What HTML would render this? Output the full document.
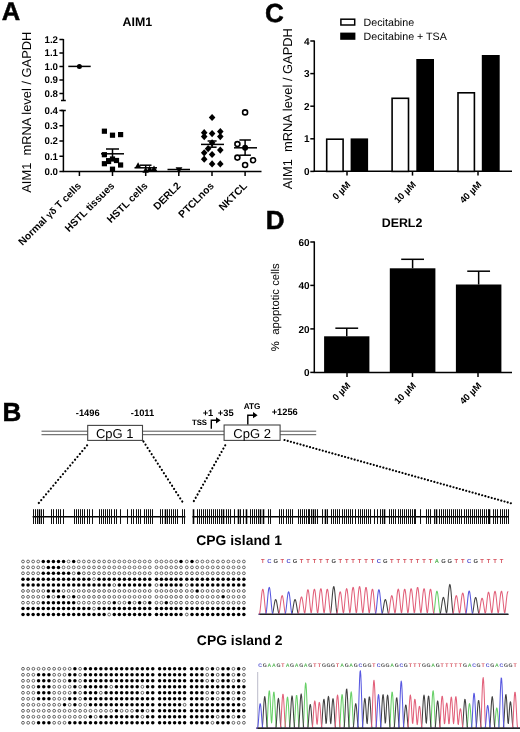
<!DOCTYPE html>
<html><head><meta charset="utf-8"><title>Figure</title>
<style>
html,body{margin:0;padding:0;background:#fff;}
body{width:520px;height:732px;overflow:hidden;}
svg{display:block;font-family:'Liberation Sans', sans-serif;text-rendering:geometricPrecision;}
</style></head><body>
<svg width="520" height="732" viewBox="0 0 520 732">
<rect width="520" height="732" fill="#fff"/>
<text x="1.7" y="20.4" font-size="25.5" font-weight="bold" text-anchor="start" fill="#000" stroke="#000" stroke-width="0.5">A</text>
<text x="265" y="21.6" font-size="26" font-weight="bold" text-anchor="start" fill="#000" stroke="#000" stroke-width="0.5">C</text>
<text x="265.8" y="229" font-size="26" font-weight="bold" text-anchor="start" fill="#000" stroke="#000" stroke-width="0.5">D</text>
<text x="2.4" y="420.7" font-size="26" font-weight="bold" text-anchor="start" fill="#000" stroke="#000" stroke-width="0.5">B</text>
<text x="137.4" y="25.5" font-size="12.4" font-weight="bold" text-anchor="middle" fill="#000" >AIM1</text>
<text x="31.4" y="112.2" font-size="12.9" font-weight="normal" text-anchor="middle" fill="#000" transform="rotate(-90 31.4 112.2)" >AIM1 &#160;mRNA level / GAPDH</text>
<line x1="63.4" y1="39" x2="63.4" y2="100.5" stroke="#000" stroke-width="1.5" />
<line x1="59.4" y1="39.5" x2="63.4" y2="39.5" stroke="#000" stroke-width="1.5" />
<text x="58.0" y="42.9" font-size="9.7" font-weight="bold" text-anchor="end" fill="#000" >1.2</text>
<line x1="59.4" y1="53" x2="63.4" y2="53" stroke="#000" stroke-width="1.5" />
<text x="58.0" y="56.4" font-size="9.7" font-weight="bold" text-anchor="end" fill="#000" >1.1</text>
<line x1="59.4" y1="66.5" x2="63.4" y2="66.5" stroke="#000" stroke-width="1.5" />
<text x="58.0" y="69.9" font-size="9.7" font-weight="bold" text-anchor="end" fill="#000" >1.0</text>
<line x1="59.4" y1="80" x2="63.4" y2="80" stroke="#000" stroke-width="1.5" />
<text x="58.0" y="83.4" font-size="9.7" font-weight="bold" text-anchor="end" fill="#000" >0.9</text>
<line x1="59.4" y1="93.5" x2="63.4" y2="93.5" stroke="#000" stroke-width="1.5" />
<text x="58.0" y="96.9" font-size="9.7" font-weight="bold" text-anchor="end" fill="#000" >0.8</text>
<line x1="61.0" y1="100.5" x2="65.8" y2="100.5" stroke="#000" stroke-width="1.5" />
<line x1="63.4" y1="110" x2="63.4" y2="172" stroke="#000" stroke-width="1.5" />
<line x1="59.4" y1="110.5" x2="63.4" y2="110.5" stroke="#000" stroke-width="1.5" />
<text x="58.0" y="113.9" font-size="9.7" font-weight="bold" text-anchor="end" fill="#000" >0.4</text>
<line x1="59.4" y1="125.75" x2="63.4" y2="125.75" stroke="#000" stroke-width="1.5" />
<text x="58.0" y="129.15" font-size="9.7" font-weight="bold" text-anchor="end" fill="#000" >0.3</text>
<line x1="59.4" y1="141" x2="63.4" y2="141" stroke="#000" stroke-width="1.5" />
<text x="58.0" y="144.4" font-size="9.7" font-weight="bold" text-anchor="end" fill="#000" >0.2</text>
<line x1="59.4" y1="156.25" x2="63.4" y2="156.25" stroke="#000" stroke-width="1.5" />
<text x="58.0" y="159.65" font-size="9.7" font-weight="bold" text-anchor="end" fill="#000" >0.1</text>
<line x1="59.4" y1="171.5" x2="63.4" y2="171.5" stroke="#000" stroke-width="1.5" />
<text x="58.0" y="174.9" font-size="9.7" font-weight="bold" text-anchor="end" fill="#000" >0.0</text>
<line x1="61.0" y1="110.5" x2="65.8" y2="110.5" stroke="#000" stroke-width="1.5" />
<line x1="62.8" y1="171.5" x2="261.5" y2="171.5" stroke="#000" stroke-width="1.5" />
<line x1="79.4" y1="171.5" x2="79.4" y2="176" stroke="#000" stroke-width="1.5" />
<text x="81.9" y="186.5" font-size="10.3" font-weight="bold" text-anchor="end" fill="#000" transform="rotate(-45 81.9 186.5)" >Normal <tspan font-size="9.3">γδ</tspan> T cells</text>
<line x1="112.5" y1="171.5" x2="112.5" y2="176" stroke="#000" stroke-width="1.5" />
<text x="115.0" y="186.5" font-size="10.3" font-weight="bold" text-anchor="end" fill="#000" transform="rotate(-45 115.0 186.5)" >HSTL tissues</text>
<line x1="145.7" y1="171.5" x2="145.7" y2="176" stroke="#000" stroke-width="1.5" />
<text x="148.2" y="186.5" font-size="10.3" font-weight="bold" text-anchor="end" fill="#000" transform="rotate(-45 148.2 186.5)" >HSTL cells</text>
<line x1="178.8" y1="171.5" x2="178.8" y2="176" stroke="#000" stroke-width="1.5" />
<text x="181.3" y="186.5" font-size="10.3" font-weight="bold" text-anchor="end" fill="#000" transform="rotate(-45 181.3 186.5)" >DERL2</text>
<line x1="212" y1="171.5" x2="212" y2="176" stroke="#000" stroke-width="1.5" />
<text x="214.5" y="186.5" font-size="10.3" font-weight="bold" text-anchor="end" fill="#000" transform="rotate(-45 214.5 186.5)" >PTCLnos</text>
<line x1="245.1" y1="171.5" x2="245.1" y2="176" stroke="#000" stroke-width="1.5" />
<text x="247.6" y="186.5" font-size="10.3" font-weight="bold" text-anchor="end" fill="#000" transform="rotate(-45 247.6 186.5)" >NKTCL</text>
<line x1="68.3" y1="66.4" x2="90.7" y2="66.4" stroke="#000" stroke-width="1.5" />
<circle cx="79.4" cy="66.4" r="2.5"/>
<rect x="101.80000000000001" y="128.6" width="5.2" height="5.2" fill="#000" stroke="none" stroke-width="1"/>
<rect x="109.9" y="132.6" width="5.2" height="5.2" fill="#000" stroke="none" stroke-width="1"/>
<rect x="118.0" y="132.0" width="5.2" height="5.2" fill="#000" stroke="none" stroke-width="1"/>
<rect x="101.80000000000001" y="152.1" width="5.2" height="5.2" fill="#000" stroke="none" stroke-width="1"/>
<rect x="109.9" y="156.4" width="5.2" height="5.2" fill="#000" stroke="none" stroke-width="1"/>
<rect x="101.80000000000001" y="161.1" width="5.2" height="5.2" fill="#000" stroke="none" stroke-width="1"/>
<rect x="106.0" y="158.9" width="5.2" height="5.2" fill="#000" stroke="none" stroke-width="1"/>
<rect x="113.9" y="157.9" width="5.2" height="5.2" fill="#000" stroke="none" stroke-width="1"/>
<rect x="118.0" y="162.4" width="5.2" height="5.2" fill="#000" stroke="none" stroke-width="1"/>
<rect x="109.9" y="166.6" width="5.2" height="5.2" fill="#000" stroke="none" stroke-width="1"/>
<line x1="101" y1="153.8" x2="124" y2="153.8" stroke="#000" stroke-width="1.5" />
<line x1="112.5" y1="149" x2="112.5" y2="158.8" stroke="#000" stroke-width="1.5" />
<line x1="106" y1="149" x2="119" y2="149" stroke="#000" stroke-width="1.5" />
<line x1="106" y1="158.8" x2="119" y2="158.8" stroke="#000" stroke-width="1.5" />
<polygon points="134.9,167.9 141.29999999999998,167.9 138.1,162.3"/>
<polygon points="142.4,172.79999999999998 148.79999999999998,172.79999999999998 145.6,167.2"/>
<polygon points="146.4,171.4 152.79999999999998,171.4 149.6,165.8"/>
<polygon points="150.8,171.0 157.2,171.0 154,165.4"/>
<line x1="134.5" y1="167.8" x2="157" y2="167.8" stroke="#000" stroke-width="1.5" />
<line x1="140" y1="165.2" x2="151.5" y2="165.2" stroke="#000" stroke-width="1.5" />
<line x1="145.7" y1="165.2" x2="145.7" y2="170.5" stroke="#000" stroke-width="1.5" />
<line x1="167.5" y1="169.5" x2="190" y2="169.5" stroke="#000" stroke-width="1.5" />
<polygon points="175.6,167.3 182.4,167.3 179,173.2"/>
<polygon points="208.79999999999998,117.5 212.1,113.9 215.4,117.5 212.1,121.1"/>
<polygon points="200.89999999999998,132.7 204.2,129.1 207.5,132.7 204.2,136.29999999999998"/>
<polygon points="217.0,131.6 220.3,128.0 223.60000000000002,131.6 220.3,135.2"/>
<polygon points="208.79999999999998,133.6 212.1,130.0 215.4,133.6 212.1,137.2"/>
<polygon points="200.89999999999998,136.6 204.2,133.0 207.5,136.6 204.2,140.2"/>
<polygon points="217.0,136.6 220.3,133.0 223.60000000000002,136.6 220.3,140.2"/>
<polygon points="208.79999999999998,142.8 212.1,139.20000000000002 215.4,142.8 212.1,146.4"/>
<polygon points="204.79999999999998,148.7 208.1,145.1 211.4,148.7 208.1,152.29999999999998"/>
<polygon points="217.0,150.1 220.3,146.5 223.60000000000002,150.1 220.3,153.7"/>
<polygon points="200.89999999999998,152.8 204.2,149.20000000000002 207.5,152.8 204.2,156.4"/>
<polygon points="208.79999999999998,154.5 212.1,150.9 215.4,154.5 212.1,158.1"/>
<polygon points="200.89999999999998,159.2 204.2,155.6 207.5,159.2 204.2,162.79999999999998"/>
<polygon points="208.79999999999998,163.9 212.1,160.3 215.4,163.9 212.1,167.5"/>
<polygon points="217.0,163.9 220.3,160.3 223.60000000000002,163.9 220.3,167.5"/>
<line x1="201" y1="144.4" x2="224" y2="144.4" stroke="#000" stroke-width="1.5" />
<line x1="212.1" y1="141" x2="212.1" y2="147.2" stroke="#000" stroke-width="1.5" />
<line x1="207.6" y1="141" x2="216.6" y2="141" stroke="#000" stroke-width="1.5" />
<line x1="207.6" y1="147.2" x2="216.6" y2="147.2" stroke="#000" stroke-width="1.5" />
<circle cx="245.1" cy="112.4" r="2.5" fill="#fff" stroke="#000" stroke-width="1.6"/>
<circle cx="237.4" cy="144.1" r="2.5" fill="#fff" stroke="#000" stroke-width="1.6"/>
<circle cx="237.4" cy="157.6" r="2.5" fill="#fff" stroke="#000" stroke-width="1.6"/>
<circle cx="253.1" cy="160.2" r="2.5" fill="#fff" stroke="#000" stroke-width="1.6"/>
<circle cx="245.1" cy="165" r="2.5" fill="#fff" stroke="#000" stroke-width="1.6"/>
<circle cx="245.1" cy="147.8" r="3"/>
<line x1="234" y1="147.8" x2="257" y2="147.8" stroke="#000" stroke-width="1.5" />
<line x1="245.1" y1="140" x2="245.1" y2="155.2" stroke="#000" stroke-width="1.5" />
<line x1="239.4" y1="140" x2="250.9" y2="140" stroke="#000" stroke-width="1.5" />
<line x1="239.4" y1="155.2" x2="250.9" y2="155.2" stroke="#000" stroke-width="1.5" />
<text x="292.2" y="108.7" font-size="12.9" font-weight="normal" text-anchor="middle" fill="#000" transform="rotate(-90 292.2 108.7)" >AIM1 &#160;mRNA level / GAPDH</text>
<rect x="340.9" y="19.2" width="13.8" height="5.8" fill="#fff" stroke="#000" stroke-width="1.5"/>
<rect x="340.2" y="32.6" width="15.2" height="7.2" fill="#000" stroke="none" stroke-width="1"/>
<text x="363.6" y="26" font-size="10.7" font-weight="normal" text-anchor="start" fill="#000" >Decitabine</text>
<text x="363.6" y="39.7" font-size="10.7" font-weight="normal" text-anchor="start" fill="#000" >Decitabine + TSA</text>
<line x1="314.3" y1="40.5" x2="314.3" y2="171.5" stroke="#000" stroke-width="1.5" />
<line x1="310.3" y1="41" x2="314.3" y2="41" stroke="#000" stroke-width="1.5" />
<text x="309.6" y="44.6" font-size="10" font-weight="bold" text-anchor="end" fill="#000" >4</text>
<line x1="310.3" y1="73.6" x2="314.3" y2="73.6" stroke="#000" stroke-width="1.5" />
<text x="309.6" y="77.19999999999999" font-size="10" font-weight="bold" text-anchor="end" fill="#000" >3</text>
<line x1="310.3" y1="106.2" x2="314.3" y2="106.2" stroke="#000" stroke-width="1.5" />
<text x="309.6" y="109.8" font-size="10" font-weight="bold" text-anchor="end" fill="#000" >2</text>
<line x1="310.3" y1="138.8" x2="314.3" y2="138.8" stroke="#000" stroke-width="1.5" />
<text x="309.6" y="142.4" font-size="10" font-weight="bold" text-anchor="end" fill="#000" >1</text>
<line x1="310.3" y1="171.4" x2="314.3" y2="171.4" stroke="#000" stroke-width="1.5" />
<text x="309.6" y="175.0" font-size="10" font-weight="bold" text-anchor="end" fill="#000" >0</text>
<line x1="313.7" y1="171.2" x2="512" y2="171.2" stroke="#000" stroke-width="1.5" />
<rect x="326.7" y="139.20000000000002" width="16.4" height="32.2" fill="#fff" stroke="#000" stroke-width="1.6"/>
<rect x="350.6" y="138.4" width="17.5" height="33.0" fill="#000" stroke="none" stroke-width="1"/>
<rect x="392.1" y="98.3" width="16.4" height="73.10000000000001" fill="#fff" stroke="#000" stroke-width="1.6"/>
<rect x="416.3" y="59" width="17.7" height="112.4" fill="#000" stroke="none" stroke-width="1"/>
<rect x="458.0" y="92.8" width="16.4" height="78.60000000000001" fill="#fff" stroke="#000" stroke-width="1.6"/>
<rect x="481.8" y="55" width="17.9" height="116.4" fill="#000" stroke="none" stroke-width="1"/>
<line x1="347" y1="171.4" x2="347" y2="175.6" stroke="#000" stroke-width="1.5" />
<text x="351" y="185.3" font-size="9.4" font-weight="bold" text-anchor="end" fill="#000" transform="rotate(-45 351 185.3)" >0 µM</text>
<line x1="412.5" y1="171.4" x2="412.5" y2="175.6" stroke="#000" stroke-width="1.5" />
<text x="416.5" y="185.3" font-size="9.4" font-weight="bold" text-anchor="end" fill="#000" transform="rotate(-45 416.5 185.3)" >10 µM</text>
<line x1="478" y1="171.4" x2="478" y2="175.6" stroke="#000" stroke-width="1.5" />
<text x="482" y="185.3" font-size="9.4" font-weight="bold" text-anchor="end" fill="#000" transform="rotate(-45 482 185.3)" >40 µM</text>
<text x="402" y="226.6" font-size="12.4" font-weight="bold" text-anchor="middle" fill="#000" >DERL2</text>
<text x="279.3" y="307.2" font-size="11.3" font-weight="normal" text-anchor="middle" fill="#000" transform="rotate(-90 279.3 307.2)" >% &#160;apoptotic cells</text>
<line x1="314.3" y1="241.4" x2="314.3" y2="372.8" stroke="#000" stroke-width="1.5" />
<line x1="310.3" y1="242" x2="314.3" y2="242" stroke="#000" stroke-width="1.5" />
<text x="309.6" y="245.6" font-size="10" font-weight="bold" text-anchor="end" fill="#000" >60</text>
<line x1="310.3" y1="285.4" x2="314.3" y2="285.4" stroke="#000" stroke-width="1.5" />
<text x="309.6" y="289.0" font-size="10" font-weight="bold" text-anchor="end" fill="#000" >40</text>
<line x1="310.3" y1="328.9" x2="314.3" y2="328.9" stroke="#000" stroke-width="1.5" />
<text x="309.6" y="332.5" font-size="10" font-weight="bold" text-anchor="end" fill="#000" >20</text>
<line x1="310.3" y1="372.4" x2="314.3" y2="372.4" stroke="#000" stroke-width="1.5" />
<text x="309.6" y="376.0" font-size="10" font-weight="bold" text-anchor="end" fill="#000" >0</text>
<line x1="313.7" y1="372.4" x2="512" y2="372.4" stroke="#000" stroke-width="1.5" />
<rect x="324.1" y="336.3" width="45.3" height="36.099999999999966" fill="#000" stroke="none" stroke-width="1"/>
<line x1="346.75" y1="328.2" x2="346.75" y2="336.3" stroke="#000" stroke-width="1.5" />
<line x1="335.35" y1="328.2" x2="358.15" y2="328.2" stroke="#000" stroke-width="1.5" />
<rect x="389.8" y="268.3" width="45.6" height="104.09999999999997" fill="#000" stroke="none" stroke-width="1"/>
<line x1="412.6" y1="259.3" x2="412.6" y2="268.3" stroke="#000" stroke-width="1.5" />
<line x1="401.20000000000005" y1="259.3" x2="424.0" y2="259.3" stroke="#000" stroke-width="1.5" />
<rect x="455.9" y="284.5" width="45.5" height="87.89999999999998" fill="#000" stroke="none" stroke-width="1"/>
<line x1="478.65" y1="271.2" x2="478.65" y2="284.5" stroke="#000" stroke-width="1.5" />
<line x1="467.25" y1="271.2" x2="490.04999999999995" y2="271.2" stroke="#000" stroke-width="1.5" />
<line x1="347" y1="372.4" x2="347" y2="377" stroke="#000" stroke-width="1.5" />
<text x="351" y="386.3" font-size="9.4" font-weight="bold" text-anchor="end" fill="#000" transform="rotate(-45 351 386.3)" >0 µM</text>
<line x1="412.5" y1="372.4" x2="412.5" y2="377" stroke="#000" stroke-width="1.5" />
<text x="416.5" y="386.3" font-size="9.4" font-weight="bold" text-anchor="end" fill="#000" transform="rotate(-45 416.5 386.3)" >10 µM</text>
<line x1="478" y1="372.4" x2="478" y2="377" stroke="#000" stroke-width="1.5" />
<text x="482" y="386.3" font-size="9.4" font-weight="bold" text-anchor="end" fill="#000" transform="rotate(-45 482 386.3)" >40 µM</text>
<line x1="41.5" y1="431.2" x2="316.2" y2="431.2" stroke="#555" stroke-width="1" />
<line x1="41.5" y1="434.7" x2="316.2" y2="434.7" stroke="#555" stroke-width="1" />
<rect x="87.7" y="425.4" width="54.8" height="15" fill="#fff" stroke="#444" stroke-width="1.1"/>
<rect x="224.1" y="425" width="56" height="15.4" fill="#fff" stroke="#444" stroke-width="1.1"/>
<text x="114.7" y="437.6" font-size="13" font-weight="normal" text-anchor="middle" fill="#000" >CpG 1</text>
<text x="252.1" y="437.9" font-size="13" font-weight="normal" text-anchor="middle" fill="#000" >CpG 2</text>
<text x="87.7" y="415.9" font-size="9.3" font-weight="bold" text-anchor="middle" fill="#000" >-1496</text>
<text x="142.5" y="415.9" font-size="9.3" font-weight="bold" text-anchor="middle" fill="#000" >-1011</text>
<text x="208" y="415.9" font-size="9.3" font-weight="bold" text-anchor="middle" fill="#000" >+1</text>
<text x="225.7" y="415.9" font-size="9.3" font-weight="bold" text-anchor="middle" fill="#000" >+35</text>
<text x="252.1" y="408.8" font-size="8.2" font-weight="bold" text-anchor="middle" fill="#000" >ATG</text>
<text x="199.5" y="425.3" font-size="7.8" font-weight="bold" text-anchor="middle" fill="#000" >TSS</text>
<text x="284.7" y="415.2" font-size="9.3" font-weight="bold" text-anchor="middle" fill="#000" >+1256</text>
<path d="M211.3 428.8 V420.3 H217" fill="none" stroke="#000" stroke-width="1.4"/><polygon points="216,417.2 220.6,420.3 216,423.4"/>
<path d="M247.8 424.6 V415.2 H254" fill="none" stroke="#000" stroke-width="1.4"/><polygon points="253,412.1 257.6,415.2 253,418.3"/>
<line x1="87.1" y1="445.3" x2="37.7" y2="504.3" stroke="#000" stroke-width="2.2" stroke-dasharray="0.01 3.75" stroke-linecap="round"/>
<line x1="143.5" y1="441.5" x2="184" y2="504.2" stroke="#000" stroke-width="2.2" stroke-dasharray="0.01 3.75" stroke-linecap="round"/>
<line x1="225.2" y1="445.3" x2="192.1" y2="504.2" stroke="#000" stroke-width="2.2" stroke-dasharray="0.01 3.75" stroke-linecap="round"/>
<line x1="284.5" y1="440" x2="511.3" y2="503.4" stroke="#000" stroke-width="2.15" stroke-dasharray="0.01 3.3" stroke-linecap="round"/>
<line x1="32.6" y1="516.8" x2="185.4" y2="516.8" stroke="#000" stroke-width="1.6" />
<line x1="192.4" y1="516.8" x2="508.9" y2="516.8" stroke="#000" stroke-width="1.6" />
<path d="M33.5 509.2V524M35.5 509.2V524M37.5 509.2V524M41.5 509.2V524M43.5 509.2V524M51.5 509.2V524M53.5 509.2V524M56.5 509.2V524M58.5 509.2V524M60.5 509.2V524M63.5 509.2V524M74.5 509.2V524M76.5 509.2V524M78.5 509.2V524M80.5 509.2V524M82.5 509.2V524M84.5 509.2V524M87.5 509.2V524M89.5 509.2V524M92.5 509.2V524M99.5 509.2V524M101.5 509.2V524M103.5 509.2V524M105.5 509.2V524M107.5 509.2V524M109.5 509.2V524M111.5 509.2V524M114.5 509.2V524M116.5 509.2V524M120.5 509.2V524M127.5 509.2V524M131.5 509.2V524M133.5 509.2V524M136.5 509.2V524M138.5 509.2V524M140.5 509.2V524M144.5 509.2V524M146.5 509.2V524M148.5 509.2V524M150.5 509.2V524M152.5 509.2V524M160.5 509.2V524M162.5 509.2V524M167.5 509.2V524M169.5 509.2V524M171.5 509.2V524M173.5 509.2V524M175.5 509.2V524M177.5 509.2V524M182.5 509.2V524M184.5 509.2V524" stroke="#111" stroke-width="1" fill="none"/>
<path d="M39.5 509.2V524M165.5 509.2V524" stroke="#000" stroke-width="1.6" fill="none"/>
<path d="M197.5 509.2V524M199.5 509.2V524M201.5 509.2V524M203.5 509.2V524M205.5 509.2V524M207.5 509.2V524M209.5 509.2V524M211.5 509.2V524M213.5 509.2V524M215.5 509.2V524M217.5 509.2V524M219.5 509.2V524M221.5 509.2V524M226.5 509.2V524M228.5 509.2V524M230.5 509.2V524M234.5 509.2V524M240.5 509.2V524M243.5 509.2V524M250.5 509.2V524M252.5 509.2V524M254.5 509.2V524M256.5 509.2V524M258.5 509.2V524M268.5 509.2V524M270.5 509.2V524M279.5 509.2V524M281.5 509.2V524M283.5 509.2V524M286.5 509.2V524M288.5 509.2V524M290.5 509.2V524M292.5 509.2V524M298.5 509.2V524M300.5 509.2V524M302.5 509.2V524M304.5 509.2V524M306.5 509.2V524M308.5 509.2V524M309.5 509.2V524M311.5 509.2V524M315.5 509.2V524M317.5 509.2V524M322.5 509.2V524M327.5 509.2V524M331.5 509.2V524M333.5 509.2V524M335.5 509.2V524M337.5 509.2V524M339.5 509.2V524M342.5 509.2V524M344.5 509.2V524M346.5 509.2V524M348.5 509.2V524M350.5 509.2V524M352.5 509.2V524M355.5 509.2V524M358.5 509.2V524M360.5 509.2V524M362.5 509.2V524M364.5 509.2V524M366.5 509.2V524M368.5 509.2V524M370.5 509.2V524M374.5 509.2V524M377.5 509.2V524M380.5 509.2V524M382.5 509.2V524M389.5 509.2V524M391.5 509.2V524M393.5 509.2V524M395.5 509.2V524M398.5 509.2V524M400.5 509.2V524M402.5 509.2V524M404.5 509.2V524M406.5 509.2V524M408.5 509.2V524M410.5 509.2V524M412.5 509.2V524M414.5 509.2V524M415.5 509.2V524M420.5 509.2V524M426.5 509.2V524M428.5 509.2V524M430.5 509.2V524M434.5 509.2V524M439.5 509.2V524M441.5 509.2V524M443.5 509.2V524M445.5 509.2V524M447.5 509.2V524M449.5 509.2V524M451.5 509.2V524M453.5 509.2V524M455.5 509.2V524M457.5 509.2V524M459.5 509.2V524M461.5 509.2V524M464.5 509.2V524M466.5 509.2V524M468.5 509.2V524M470.5 509.2V524M472.5 509.2V524M474.5 509.2V524M476.5 509.2V524M478.5 509.2V524M480.5 509.2V524M482.5 509.2V524M484.5 509.2V524M486.5 509.2V524M488.5 509.2V524M493.5 509.2V524M495.5 509.2V524M497.5 509.2V524M500.5 509.2V524M502.5 509.2V524M504.5 509.2V524M506.5 509.2V524M508.5 509.2V524" stroke="#111" stroke-width="1" fill="none"/>
<path d="M193.5 509.2V524M223.5 509.2V524M238.5 509.2V524M246.5 509.2V524M260.5 509.2V524M263.5 509.2V524M313.5 509.2V524M325.5 509.2V524M384.5 509.2V524M436.5 509.2V524M489.5 509.2V524" stroke="#000" stroke-width="1.6" fill="none"/>
<text x="239.1" y="544.8" font-size="13.9" font-weight="bold" text-anchor="middle" fill="#000" >CPG island 1</text>
<text x="239.7" y="645.3" font-size="13.9" font-weight="bold" text-anchor="middle" fill="#000" >CPG island 2</text>
<circle cx="23.00" cy="561.50" r="1.4" fill="#fff" stroke="#4a4a4a" stroke-width="0.85"/>
<circle cx="28.07" cy="561.50" r="1.4" fill="#fff" stroke="#4a4a4a" stroke-width="0.85"/>
<circle cx="33.14" cy="561.50" r="1.4" fill="#fff" stroke="#4a4a4a" stroke-width="0.85"/>
<circle cx="38.21" cy="561.50" r="1.4" fill="#fff" stroke="#4a4a4a" stroke-width="0.85"/>
<circle cx="43.28" cy="561.50" r="1.75" fill="#000"/>
<circle cx="48.35" cy="561.50" r="1.75" fill="#000"/>
<circle cx="53.42" cy="561.50" r="1.75" fill="#000"/>
<circle cx="58.49" cy="561.50" r="1.75" fill="#000"/>
<circle cx="63.56" cy="561.50" r="1.75" fill="#000"/>
<circle cx="68.63" cy="561.50" r="1.4" fill="#fff" stroke="#4a4a4a" stroke-width="0.85"/>
<circle cx="73.70" cy="561.50" r="1.75" fill="#000"/>
<circle cx="78.77" cy="561.50" r="1.4" fill="#fff" stroke="#4a4a4a" stroke-width="0.85"/>
<circle cx="83.84" cy="561.50" r="1.4" fill="#fff" stroke="#4a4a4a" stroke-width="0.85"/>
<circle cx="88.91" cy="561.50" r="1.4" fill="#fff" stroke="#4a4a4a" stroke-width="0.85"/>
<circle cx="93.98" cy="561.50" r="1.4" fill="#fff" stroke="#4a4a4a" stroke-width="0.85"/>
<circle cx="99.05" cy="561.50" r="1.4" fill="#fff" stroke="#4a4a4a" stroke-width="0.85"/>
<circle cx="104.12" cy="561.50" r="1.4" fill="#fff" stroke="#4a4a4a" stroke-width="0.85"/>
<circle cx="109.19" cy="561.50" r="1.4" fill="#fff" stroke="#4a4a4a" stroke-width="0.85"/>
<circle cx="114.26" cy="561.50" r="1.4" fill="#fff" stroke="#4a4a4a" stroke-width="0.85"/>
<circle cx="119.33" cy="561.50" r="1.4" fill="#fff" stroke="#4a4a4a" stroke-width="0.85"/>
<circle cx="124.40" cy="561.50" r="1.4" fill="#fff" stroke="#4a4a4a" stroke-width="0.85"/>
<circle cx="129.47" cy="561.50" r="1.4" fill="#fff" stroke="#4a4a4a" stroke-width="0.85"/>
<circle cx="134.54" cy="561.50" r="1.4" fill="#fff" stroke="#4a4a4a" stroke-width="0.85"/>
<circle cx="139.61" cy="561.50" r="1.4" fill="#fff" stroke="#4a4a4a" stroke-width="0.85"/>
<circle cx="144.68" cy="561.50" r="1.4" fill="#fff" stroke="#4a4a4a" stroke-width="0.85"/>
<circle cx="149.75" cy="561.50" r="1.4" fill="#fff" stroke="#4a4a4a" stroke-width="0.85"/>
<circle cx="156.50" cy="561.50" r="1.4" fill="#fff" stroke="#4a4a4a" stroke-width="0.85"/>
<circle cx="161.40" cy="561.50" r="1.4" fill="#fff" stroke="#4a4a4a" stroke-width="0.85"/>
<circle cx="166.30" cy="561.50" r="1.4" fill="#fff" stroke="#4a4a4a" stroke-width="0.85"/>
<circle cx="171.20" cy="561.50" r="1.4" fill="#fff" stroke="#4a4a4a" stroke-width="0.85"/>
<circle cx="176.10" cy="561.50" r="1.4" fill="#fff" stroke="#4a4a4a" stroke-width="0.85"/>
<circle cx="181.00" cy="561.50" r="1.75" fill="#000"/>
<circle cx="186.80" cy="561.50" r="1.4" fill="#fff" stroke="#4a4a4a" stroke-width="0.85"/>
<circle cx="191.99" cy="561.50" r="1.75" fill="#000"/>
<circle cx="197.18" cy="561.50" r="1.4" fill="#fff" stroke="#4a4a4a" stroke-width="0.85"/>
<circle cx="202.37" cy="561.50" r="1.4" fill="#fff" stroke="#4a4a4a" stroke-width="0.85"/>
<circle cx="207.56" cy="561.50" r="1.4" fill="#fff" stroke="#4a4a4a" stroke-width="0.85"/>
<circle cx="212.75" cy="561.50" r="1.4" fill="#fff" stroke="#4a4a4a" stroke-width="0.85"/>
<circle cx="217.94" cy="561.50" r="1.4" fill="#fff" stroke="#4a4a4a" stroke-width="0.85"/>
<circle cx="223.13" cy="561.50" r="1.4" fill="#fff" stroke="#4a4a4a" stroke-width="0.85"/>
<circle cx="228.32" cy="561.50" r="1.4" fill="#fff" stroke="#4a4a4a" stroke-width="0.85"/>
<circle cx="233.51" cy="561.50" r="1.4" fill="#fff" stroke="#4a4a4a" stroke-width="0.85"/>
<circle cx="238.70" cy="561.50" r="1.4" fill="#fff" stroke="#4a4a4a" stroke-width="0.85"/>
<circle cx="243.89" cy="561.50" r="1.4" fill="#fff" stroke="#4a4a4a" stroke-width="0.85"/>
<circle cx="23.00" cy="567.39" r="1.4" fill="#fff" stroke="#4a4a4a" stroke-width="0.85"/>
<circle cx="28.07" cy="567.39" r="1.4" fill="#fff" stroke="#4a4a4a" stroke-width="0.85"/>
<circle cx="33.14" cy="567.39" r="1.4" fill="#fff" stroke="#4a4a4a" stroke-width="0.85"/>
<circle cx="38.21" cy="567.39" r="1.4" fill="#fff" stroke="#4a4a4a" stroke-width="0.85"/>
<circle cx="43.28" cy="567.39" r="1.4" fill="#fff" stroke="#4a4a4a" stroke-width="0.85"/>
<circle cx="48.35" cy="567.39" r="1.75" fill="#000"/>
<circle cx="53.42" cy="567.39" r="1.75" fill="#000"/>
<circle cx="58.49" cy="567.39" r="1.75" fill="#000"/>
<circle cx="63.56" cy="567.39" r="1.4" fill="#fff" stroke="#4a4a4a" stroke-width="0.85"/>
<circle cx="68.63" cy="567.39" r="1.4" fill="#fff" stroke="#4a4a4a" stroke-width="0.85"/>
<circle cx="73.70" cy="567.39" r="1.4" fill="#fff" stroke="#4a4a4a" stroke-width="0.85"/>
<circle cx="78.77" cy="567.39" r="1.4" fill="#fff" stroke="#4a4a4a" stroke-width="0.85"/>
<circle cx="83.84" cy="567.39" r="1.4" fill="#fff" stroke="#4a4a4a" stroke-width="0.85"/>
<circle cx="88.91" cy="567.39" r="1.4" fill="#fff" stroke="#4a4a4a" stroke-width="0.85"/>
<circle cx="93.98" cy="567.39" r="1.4" fill="#fff" stroke="#4a4a4a" stroke-width="0.85"/>
<circle cx="99.05" cy="567.39" r="1.4" fill="#fff" stroke="#4a4a4a" stroke-width="0.85"/>
<circle cx="104.12" cy="567.39" r="1.4" fill="#fff" stroke="#4a4a4a" stroke-width="0.85"/>
<circle cx="109.19" cy="567.39" r="1.4" fill="#fff" stroke="#4a4a4a" stroke-width="0.85"/>
<circle cx="114.26" cy="567.39" r="1.4" fill="#fff" stroke="#4a4a4a" stroke-width="0.85"/>
<circle cx="119.33" cy="567.39" r="1.4" fill="#fff" stroke="#4a4a4a" stroke-width="0.85"/>
<circle cx="124.40" cy="567.39" r="1.4" fill="#fff" stroke="#4a4a4a" stroke-width="0.85"/>
<circle cx="129.47" cy="567.39" r="1.4" fill="#fff" stroke="#4a4a4a" stroke-width="0.85"/>
<circle cx="134.54" cy="567.39" r="1.4" fill="#fff" stroke="#4a4a4a" stroke-width="0.85"/>
<circle cx="139.61" cy="567.39" r="1.4" fill="#fff" stroke="#4a4a4a" stroke-width="0.85"/>
<circle cx="144.68" cy="567.39" r="1.4" fill="#fff" stroke="#4a4a4a" stroke-width="0.85"/>
<circle cx="149.75" cy="567.39" r="1.4" fill="#fff" stroke="#4a4a4a" stroke-width="0.85"/>
<circle cx="156.50" cy="567.39" r="1.4" fill="#fff" stroke="#4a4a4a" stroke-width="0.85"/>
<circle cx="161.40" cy="567.39" r="1.4" fill="#fff" stroke="#4a4a4a" stroke-width="0.85"/>
<circle cx="166.30" cy="567.39" r="1.4" fill="#fff" stroke="#4a4a4a" stroke-width="0.85"/>
<circle cx="171.20" cy="567.39" r="1.4" fill="#fff" stroke="#4a4a4a" stroke-width="0.85"/>
<circle cx="176.10" cy="567.39" r="1.4" fill="#fff" stroke="#4a4a4a" stroke-width="0.85"/>
<circle cx="181.00" cy="567.39" r="1.4" fill="#fff" stroke="#4a4a4a" stroke-width="0.85"/>
<circle cx="186.80" cy="567.39" r="1.4" fill="#fff" stroke="#4a4a4a" stroke-width="0.85"/>
<circle cx="191.99" cy="567.39" r="1.4" fill="#fff" stroke="#4a4a4a" stroke-width="0.85"/>
<circle cx="197.18" cy="567.39" r="1.4" fill="#fff" stroke="#4a4a4a" stroke-width="0.85"/>
<circle cx="202.37" cy="567.39" r="1.4" fill="#fff" stroke="#4a4a4a" stroke-width="0.85"/>
<circle cx="207.56" cy="567.39" r="1.4" fill="#fff" stroke="#4a4a4a" stroke-width="0.85"/>
<circle cx="212.75" cy="567.39" r="1.4" fill="#fff" stroke="#4a4a4a" stroke-width="0.85"/>
<circle cx="217.94" cy="567.39" r="1.4" fill="#fff" stroke="#4a4a4a" stroke-width="0.85"/>
<circle cx="223.13" cy="567.39" r="1.4" fill="#fff" stroke="#4a4a4a" stroke-width="0.85"/>
<circle cx="228.32" cy="567.39" r="1.4" fill="#fff" stroke="#4a4a4a" stroke-width="0.85"/>
<circle cx="233.51" cy="567.39" r="1.4" fill="#fff" stroke="#4a4a4a" stroke-width="0.85"/>
<circle cx="238.70" cy="567.39" r="1.4" fill="#fff" stroke="#4a4a4a" stroke-width="0.85"/>
<circle cx="243.89" cy="567.39" r="1.4" fill="#fff" stroke="#4a4a4a" stroke-width="0.85"/>
<circle cx="23.00" cy="573.28" r="1.4" fill="#fff" stroke="#4a4a4a" stroke-width="0.85"/>
<circle cx="28.07" cy="573.28" r="1.4" fill="#fff" stroke="#4a4a4a" stroke-width="0.85"/>
<circle cx="33.14" cy="573.28" r="1.4" fill="#fff" stroke="#4a4a4a" stroke-width="0.85"/>
<circle cx="38.21" cy="573.28" r="1.4" fill="#fff" stroke="#4a4a4a" stroke-width="0.85"/>
<circle cx="43.28" cy="573.28" r="1.75" fill="#000"/>
<circle cx="48.35" cy="573.28" r="1.75" fill="#000"/>
<circle cx="53.42" cy="573.28" r="1.75" fill="#000"/>
<circle cx="58.49" cy="573.28" r="1.75" fill="#000"/>
<circle cx="63.56" cy="573.28" r="1.75" fill="#000"/>
<circle cx="68.63" cy="573.28" r="1.75" fill="#000"/>
<circle cx="73.70" cy="573.28" r="1.4" fill="#fff" stroke="#4a4a4a" stroke-width="0.85"/>
<circle cx="78.77" cy="573.28" r="1.75" fill="#000"/>
<circle cx="83.84" cy="573.28" r="1.4" fill="#fff" stroke="#4a4a4a" stroke-width="0.85"/>
<circle cx="88.91" cy="573.28" r="1.4" fill="#fff" stroke="#4a4a4a" stroke-width="0.85"/>
<circle cx="93.98" cy="573.28" r="1.4" fill="#fff" stroke="#4a4a4a" stroke-width="0.85"/>
<circle cx="99.05" cy="573.28" r="1.4" fill="#fff" stroke="#4a4a4a" stroke-width="0.85"/>
<circle cx="104.12" cy="573.28" r="1.4" fill="#fff" stroke="#4a4a4a" stroke-width="0.85"/>
<circle cx="109.19" cy="573.28" r="1.4" fill="#fff" stroke="#4a4a4a" stroke-width="0.85"/>
<circle cx="114.26" cy="573.28" r="1.4" fill="#fff" stroke="#4a4a4a" stroke-width="0.85"/>
<circle cx="119.33" cy="573.28" r="1.4" fill="#fff" stroke="#4a4a4a" stroke-width="0.85"/>
<circle cx="124.40" cy="573.28" r="1.4" fill="#fff" stroke="#4a4a4a" stroke-width="0.85"/>
<circle cx="129.47" cy="573.28" r="1.4" fill="#fff" stroke="#4a4a4a" stroke-width="0.85"/>
<circle cx="134.54" cy="573.28" r="1.4" fill="#fff" stroke="#4a4a4a" stroke-width="0.85"/>
<circle cx="139.61" cy="573.28" r="1.4" fill="#fff" stroke="#4a4a4a" stroke-width="0.85"/>
<circle cx="144.68" cy="573.28" r="1.4" fill="#fff" stroke="#4a4a4a" stroke-width="0.85"/>
<circle cx="149.75" cy="573.28" r="1.4" fill="#fff" stroke="#4a4a4a" stroke-width="0.85"/>
<circle cx="156.50" cy="573.28" r="1.4" fill="#fff" stroke="#4a4a4a" stroke-width="0.85"/>
<circle cx="161.40" cy="573.28" r="1.4" fill="#fff" stroke="#4a4a4a" stroke-width="0.85"/>
<circle cx="166.30" cy="573.28" r="1.4" fill="#fff" stroke="#4a4a4a" stroke-width="0.85"/>
<circle cx="171.20" cy="573.28" r="1.4" fill="#fff" stroke="#4a4a4a" stroke-width="0.85"/>
<circle cx="176.10" cy="573.28" r="1.4" fill="#fff" stroke="#4a4a4a" stroke-width="0.85"/>
<circle cx="181.00" cy="573.28" r="1.4" fill="#fff" stroke="#4a4a4a" stroke-width="0.85"/>
<circle cx="186.80" cy="573.28" r="1.4" fill="#fff" stroke="#4a4a4a" stroke-width="0.85"/>
<circle cx="191.99" cy="573.28" r="1.4" fill="#fff" stroke="#4a4a4a" stroke-width="0.85"/>
<circle cx="197.18" cy="573.28" r="1.4" fill="#fff" stroke="#4a4a4a" stroke-width="0.85"/>
<circle cx="202.37" cy="573.28" r="1.4" fill="#fff" stroke="#4a4a4a" stroke-width="0.85"/>
<circle cx="207.56" cy="573.28" r="1.4" fill="#fff" stroke="#4a4a4a" stroke-width="0.85"/>
<circle cx="212.75" cy="573.28" r="1.4" fill="#fff" stroke="#4a4a4a" stroke-width="0.85"/>
<circle cx="217.94" cy="573.28" r="1.4" fill="#fff" stroke="#4a4a4a" stroke-width="0.85"/>
<circle cx="223.13" cy="573.28" r="1.4" fill="#fff" stroke="#4a4a4a" stroke-width="0.85"/>
<circle cx="228.32" cy="573.28" r="1.4" fill="#fff" stroke="#4a4a4a" stroke-width="0.85"/>
<circle cx="233.51" cy="573.28" r="1.4" fill="#fff" stroke="#4a4a4a" stroke-width="0.85"/>
<circle cx="238.70" cy="573.28" r="1.4" fill="#fff" stroke="#4a4a4a" stroke-width="0.85"/>
<circle cx="243.89" cy="573.28" r="1.4" fill="#fff" stroke="#4a4a4a" stroke-width="0.85"/>
<circle cx="23.00" cy="579.17" r="1.75" fill="#000"/>
<circle cx="28.07" cy="579.17" r="1.75" fill="#000"/>
<circle cx="33.14" cy="579.17" r="1.75" fill="#000"/>
<circle cx="38.21" cy="579.17" r="1.75" fill="#000"/>
<circle cx="43.28" cy="579.17" r="1.75" fill="#000"/>
<circle cx="48.35" cy="579.17" r="1.75" fill="#000"/>
<circle cx="53.42" cy="579.17" r="1.75" fill="#000"/>
<circle cx="58.49" cy="579.17" r="1.75" fill="#000"/>
<circle cx="63.56" cy="579.17" r="1.75" fill="#000"/>
<circle cx="68.63" cy="579.17" r="1.75" fill="#000"/>
<circle cx="73.70" cy="579.17" r="1.75" fill="#000"/>
<circle cx="78.77" cy="579.17" r="1.75" fill="#000"/>
<circle cx="83.84" cy="579.17" r="1.75" fill="#000"/>
<circle cx="88.91" cy="579.17" r="1.75" fill="#000"/>
<circle cx="93.98" cy="579.17" r="1.4" fill="#fff" stroke="#4a4a4a" stroke-width="0.85"/>
<circle cx="99.05" cy="579.17" r="1.75" fill="#000"/>
<circle cx="104.12" cy="579.17" r="1.75" fill="#000"/>
<circle cx="109.19" cy="579.17" r="1.75" fill="#000"/>
<circle cx="114.26" cy="579.17" r="1.75" fill="#000"/>
<circle cx="119.33" cy="579.17" r="1.75" fill="#000"/>
<circle cx="124.40" cy="579.17" r="1.75" fill="#000"/>
<circle cx="129.47" cy="579.17" r="1.75" fill="#000"/>
<circle cx="134.54" cy="579.17" r="1.75" fill="#000"/>
<circle cx="139.61" cy="579.17" r="1.75" fill="#000"/>
<circle cx="144.68" cy="579.17" r="1.75" fill="#000"/>
<circle cx="149.75" cy="579.17" r="1.75" fill="#000"/>
<circle cx="156.50" cy="579.17" r="1.75" fill="#000"/>
<circle cx="161.40" cy="579.17" r="1.75" fill="#000"/>
<circle cx="166.30" cy="579.17" r="1.75" fill="#000"/>
<circle cx="171.20" cy="579.17" r="1.75" fill="#000"/>
<circle cx="176.10" cy="579.17" r="1.75" fill="#000"/>
<circle cx="181.00" cy="579.17" r="1.75" fill="#000"/>
<circle cx="186.80" cy="579.17" r="1.75" fill="#000"/>
<circle cx="191.99" cy="579.17" r="1.75" fill="#000"/>
<circle cx="197.18" cy="579.17" r="1.75" fill="#000"/>
<circle cx="202.37" cy="579.17" r="1.75" fill="#000"/>
<circle cx="207.56" cy="579.17" r="1.75" fill="#000"/>
<circle cx="212.75" cy="579.17" r="1.75" fill="#000"/>
<circle cx="217.94" cy="579.17" r="1.75" fill="#000"/>
<circle cx="223.13" cy="579.17" r="1.75" fill="#000"/>
<circle cx="228.32" cy="579.17" r="1.75" fill="#000"/>
<circle cx="233.51" cy="579.17" r="1.75" fill="#000"/>
<circle cx="238.70" cy="579.17" r="1.75" fill="#000"/>
<circle cx="243.89" cy="579.17" r="1.75" fill="#000"/>
<circle cx="23.00" cy="585.06" r="1.75" fill="#000"/>
<circle cx="28.07" cy="585.06" r="1.75" fill="#000"/>
<circle cx="33.14" cy="585.06" r="1.75" fill="#000"/>
<circle cx="38.21" cy="585.06" r="1.75" fill="#000"/>
<circle cx="43.28" cy="585.06" r="1.75" fill="#000"/>
<circle cx="48.35" cy="585.06" r="1.75" fill="#000"/>
<circle cx="53.42" cy="585.06" r="1.75" fill="#000"/>
<circle cx="58.49" cy="585.06" r="1.75" fill="#000"/>
<circle cx="63.56" cy="585.06" r="1.75" fill="#000"/>
<circle cx="68.63" cy="585.06" r="1.75" fill="#000"/>
<circle cx="73.70" cy="585.06" r="1.75" fill="#000"/>
<circle cx="78.77" cy="585.06" r="1.75" fill="#000"/>
<circle cx="83.84" cy="585.06" r="1.75" fill="#000"/>
<circle cx="88.91" cy="585.06" r="1.75" fill="#000"/>
<circle cx="93.98" cy="585.06" r="1.75" fill="#000"/>
<circle cx="99.05" cy="585.06" r="1.75" fill="#000"/>
<circle cx="104.12" cy="585.06" r="1.75" fill="#000"/>
<circle cx="109.19" cy="585.06" r="1.75" fill="#000"/>
<circle cx="114.26" cy="585.06" r="1.4" fill="#fff" stroke="#4a4a4a" stroke-width="0.85"/>
<circle cx="119.33" cy="585.06" r="1.75" fill="#000"/>
<circle cx="124.40" cy="585.06" r="1.75" fill="#000"/>
<circle cx="129.47" cy="585.06" r="1.75" fill="#000"/>
<circle cx="134.54" cy="585.06" r="1.75" fill="#000"/>
<circle cx="139.61" cy="585.06" r="1.75" fill="#000"/>
<circle cx="144.68" cy="585.06" r="1.75" fill="#000"/>
<circle cx="149.75" cy="585.06" r="1.75" fill="#000"/>
<circle cx="156.50" cy="585.06" r="1.4" fill="#fff" stroke="#4a4a4a" stroke-width="0.85"/>
<circle cx="161.40" cy="585.06" r="1.75" fill="#000"/>
<circle cx="166.30" cy="585.06" r="1.75" fill="#000"/>
<circle cx="171.20" cy="585.06" r="1.75" fill="#000"/>
<circle cx="176.10" cy="585.06" r="1.75" fill="#000"/>
<circle cx="181.00" cy="585.06" r="1.75" fill="#000"/>
<circle cx="186.80" cy="585.06" r="1.4" fill="#fff" stroke="#4a4a4a" stroke-width="0.85"/>
<circle cx="191.99" cy="585.06" r="1.75" fill="#000"/>
<circle cx="197.18" cy="585.06" r="1.75" fill="#000"/>
<circle cx="202.37" cy="585.06" r="1.75" fill="#000"/>
<circle cx="207.56" cy="585.06" r="1.75" fill="#000"/>
<circle cx="212.75" cy="585.06" r="1.75" fill="#000"/>
<circle cx="217.94" cy="585.06" r="1.75" fill="#000"/>
<circle cx="223.13" cy="585.06" r="1.75" fill="#000"/>
<circle cx="228.32" cy="585.06" r="1.75" fill="#000"/>
<circle cx="233.51" cy="585.06" r="1.75" fill="#000"/>
<circle cx="238.70" cy="585.06" r="1.75" fill="#000"/>
<circle cx="243.89" cy="585.06" r="1.75" fill="#000"/>
<circle cx="23.00" cy="590.95" r="1.4" fill="#fff" stroke="#4a4a4a" stroke-width="0.85"/>
<circle cx="28.07" cy="590.95" r="1.4" fill="#fff" stroke="#4a4a4a" stroke-width="0.85"/>
<circle cx="33.14" cy="590.95" r="1.4" fill="#fff" stroke="#4a4a4a" stroke-width="0.85"/>
<circle cx="38.21" cy="590.95" r="1.4" fill="#fff" stroke="#4a4a4a" stroke-width="0.85"/>
<circle cx="43.28" cy="590.95" r="1.4" fill="#fff" stroke="#4a4a4a" stroke-width="0.85"/>
<circle cx="48.35" cy="590.95" r="1.75" fill="#000"/>
<circle cx="53.42" cy="590.95" r="1.75" fill="#000"/>
<circle cx="58.49" cy="590.95" r="1.75" fill="#000"/>
<circle cx="63.56" cy="590.95" r="1.4" fill="#fff" stroke="#4a4a4a" stroke-width="0.85"/>
<circle cx="68.63" cy="590.95" r="1.4" fill="#fff" stroke="#4a4a4a" stroke-width="0.85"/>
<circle cx="73.70" cy="590.95" r="1.4" fill="#fff" stroke="#4a4a4a" stroke-width="0.85"/>
<circle cx="78.77" cy="590.95" r="1.4" fill="#fff" stroke="#4a4a4a" stroke-width="0.85"/>
<circle cx="83.84" cy="590.95" r="1.4" fill="#fff" stroke="#4a4a4a" stroke-width="0.85"/>
<circle cx="88.91" cy="590.95" r="1.4" fill="#fff" stroke="#4a4a4a" stroke-width="0.85"/>
<circle cx="93.98" cy="590.95" r="1.4" fill="#fff" stroke="#4a4a4a" stroke-width="0.85"/>
<circle cx="99.05" cy="590.95" r="1.4" fill="#fff" stroke="#4a4a4a" stroke-width="0.85"/>
<circle cx="104.12" cy="590.95" r="1.4" fill="#fff" stroke="#4a4a4a" stroke-width="0.85"/>
<circle cx="109.19" cy="590.95" r="1.4" fill="#fff" stroke="#4a4a4a" stroke-width="0.85"/>
<circle cx="114.26" cy="590.95" r="1.4" fill="#fff" stroke="#4a4a4a" stroke-width="0.85"/>
<circle cx="119.33" cy="590.95" r="1.4" fill="#fff" stroke="#4a4a4a" stroke-width="0.85"/>
<circle cx="124.40" cy="590.95" r="1.4" fill="#fff" stroke="#4a4a4a" stroke-width="0.85"/>
<circle cx="129.47" cy="590.95" r="1.4" fill="#fff" stroke="#4a4a4a" stroke-width="0.85"/>
<circle cx="134.54" cy="590.95" r="1.4" fill="#fff" stroke="#4a4a4a" stroke-width="0.85"/>
<circle cx="139.61" cy="590.95" r="1.4" fill="#fff" stroke="#4a4a4a" stroke-width="0.85"/>
<circle cx="144.68" cy="590.95" r="1.4" fill="#fff" stroke="#4a4a4a" stroke-width="0.85"/>
<circle cx="149.75" cy="590.95" r="1.4" fill="#fff" stroke="#4a4a4a" stroke-width="0.85"/>
<circle cx="156.50" cy="590.95" r="1.4" fill="#fff" stroke="#4a4a4a" stroke-width="0.85"/>
<circle cx="161.40" cy="590.95" r="1.4" fill="#fff" stroke="#4a4a4a" stroke-width="0.85"/>
<circle cx="166.30" cy="590.95" r="1.4" fill="#fff" stroke="#4a4a4a" stroke-width="0.85"/>
<circle cx="171.20" cy="590.95" r="1.4" fill="#fff" stroke="#4a4a4a" stroke-width="0.85"/>
<circle cx="176.10" cy="590.95" r="1.4" fill="#fff" stroke="#4a4a4a" stroke-width="0.85"/>
<circle cx="181.00" cy="590.95" r="1.4" fill="#fff" stroke="#4a4a4a" stroke-width="0.85"/>
<circle cx="186.80" cy="590.95" r="1.4" fill="#fff" stroke="#4a4a4a" stroke-width="0.85"/>
<circle cx="191.99" cy="590.95" r="1.4" fill="#fff" stroke="#4a4a4a" stroke-width="0.85"/>
<circle cx="197.18" cy="590.95" r="1.75" fill="#000"/>
<circle cx="202.37" cy="590.95" r="1.4" fill="#fff" stroke="#4a4a4a" stroke-width="0.85"/>
<circle cx="207.56" cy="590.95" r="1.4" fill="#fff" stroke="#4a4a4a" stroke-width="0.85"/>
<circle cx="212.75" cy="590.95" r="1.4" fill="#fff" stroke="#4a4a4a" stroke-width="0.85"/>
<circle cx="217.94" cy="590.95" r="1.4" fill="#fff" stroke="#4a4a4a" stroke-width="0.85"/>
<circle cx="223.13" cy="590.95" r="1.4" fill="#fff" stroke="#4a4a4a" stroke-width="0.85"/>
<circle cx="228.32" cy="590.95" r="1.4" fill="#fff" stroke="#4a4a4a" stroke-width="0.85"/>
<circle cx="233.51" cy="590.95" r="1.4" fill="#fff" stroke="#4a4a4a" stroke-width="0.85"/>
<circle cx="238.70" cy="590.95" r="1.4" fill="#fff" stroke="#4a4a4a" stroke-width="0.85"/>
<circle cx="243.89" cy="590.95" r="1.4" fill="#fff" stroke="#4a4a4a" stroke-width="0.85"/>
<circle cx="23.00" cy="596.84" r="1.4" fill="#fff" stroke="#4a4a4a" stroke-width="0.85"/>
<circle cx="28.07" cy="596.84" r="1.4" fill="#fff" stroke="#4a4a4a" stroke-width="0.85"/>
<circle cx="33.14" cy="596.84" r="1.4" fill="#fff" stroke="#4a4a4a" stroke-width="0.85"/>
<circle cx="38.21" cy="596.84" r="1.4" fill="#fff" stroke="#4a4a4a" stroke-width="0.85"/>
<circle cx="43.28" cy="596.84" r="1.4" fill="#fff" stroke="#4a4a4a" stroke-width="0.85"/>
<circle cx="48.35" cy="596.84" r="1.75" fill="#000"/>
<circle cx="53.42" cy="596.84" r="1.4" fill="#fff" stroke="#4a4a4a" stroke-width="0.85"/>
<circle cx="58.49" cy="596.84" r="1.75" fill="#000"/>
<circle cx="63.56" cy="596.84" r="1.75" fill="#000"/>
<circle cx="68.63" cy="596.84" r="1.4" fill="#fff" stroke="#4a4a4a" stroke-width="0.85"/>
<circle cx="73.70" cy="596.84" r="1.75" fill="#000"/>
<circle cx="78.77" cy="596.84" r="1.4" fill="#fff" stroke="#4a4a4a" stroke-width="0.85"/>
<circle cx="83.84" cy="596.84" r="1.4" fill="#fff" stroke="#4a4a4a" stroke-width="0.85"/>
<circle cx="88.91" cy="596.84" r="1.4" fill="#fff" stroke="#4a4a4a" stroke-width="0.85"/>
<circle cx="93.98" cy="596.84" r="1.4" fill="#fff" stroke="#4a4a4a" stroke-width="0.85"/>
<circle cx="99.05" cy="596.84" r="1.4" fill="#fff" stroke="#4a4a4a" stroke-width="0.85"/>
<circle cx="104.12" cy="596.84" r="1.4" fill="#fff" stroke="#4a4a4a" stroke-width="0.85"/>
<circle cx="109.19" cy="596.84" r="1.4" fill="#fff" stroke="#4a4a4a" stroke-width="0.85"/>
<circle cx="114.26" cy="596.84" r="1.4" fill="#fff" stroke="#4a4a4a" stroke-width="0.85"/>
<circle cx="119.33" cy="596.84" r="1.4" fill="#fff" stroke="#4a4a4a" stroke-width="0.85"/>
<circle cx="124.40" cy="596.84" r="1.4" fill="#fff" stroke="#4a4a4a" stroke-width="0.85"/>
<circle cx="129.47" cy="596.84" r="1.4" fill="#fff" stroke="#4a4a4a" stroke-width="0.85"/>
<circle cx="134.54" cy="596.84" r="1.4" fill="#fff" stroke="#4a4a4a" stroke-width="0.85"/>
<circle cx="139.61" cy="596.84" r="1.4" fill="#fff" stroke="#4a4a4a" stroke-width="0.85"/>
<circle cx="144.68" cy="596.84" r="1.4" fill="#fff" stroke="#4a4a4a" stroke-width="0.85"/>
<circle cx="149.75" cy="596.84" r="1.4" fill="#fff" stroke="#4a4a4a" stroke-width="0.85"/>
<circle cx="156.50" cy="596.84" r="1.4" fill="#fff" stroke="#4a4a4a" stroke-width="0.85"/>
<circle cx="161.40" cy="596.84" r="1.4" fill="#fff" stroke="#4a4a4a" stroke-width="0.85"/>
<circle cx="166.30" cy="596.84" r="1.4" fill="#fff" stroke="#4a4a4a" stroke-width="0.85"/>
<circle cx="171.20" cy="596.84" r="1.4" fill="#fff" stroke="#4a4a4a" stroke-width="0.85"/>
<circle cx="176.10" cy="596.84" r="1.4" fill="#fff" stroke="#4a4a4a" stroke-width="0.85"/>
<circle cx="181.00" cy="596.84" r="1.4" fill="#fff" stroke="#4a4a4a" stroke-width="0.85"/>
<circle cx="186.80" cy="596.84" r="1.4" fill="#fff" stroke="#4a4a4a" stroke-width="0.85"/>
<circle cx="191.99" cy="596.84" r="1.4" fill="#fff" stroke="#4a4a4a" stroke-width="0.85"/>
<circle cx="197.18" cy="596.84" r="1.4" fill="#fff" stroke="#4a4a4a" stroke-width="0.85"/>
<circle cx="202.37" cy="596.84" r="1.4" fill="#fff" stroke="#4a4a4a" stroke-width="0.85"/>
<circle cx="207.56" cy="596.84" r="1.4" fill="#fff" stroke="#4a4a4a" stroke-width="0.85"/>
<circle cx="212.75" cy="596.84" r="1.4" fill="#fff" stroke="#4a4a4a" stroke-width="0.85"/>
<circle cx="217.94" cy="596.84" r="1.4" fill="#fff" stroke="#4a4a4a" stroke-width="0.85"/>
<circle cx="223.13" cy="596.84" r="1.75" fill="#000"/>
<circle cx="228.32" cy="596.84" r="1.4" fill="#fff" stroke="#4a4a4a" stroke-width="0.85"/>
<circle cx="233.51" cy="596.84" r="1.4" fill="#fff" stroke="#4a4a4a" stroke-width="0.85"/>
<circle cx="238.70" cy="596.84" r="1.4" fill="#fff" stroke="#4a4a4a" stroke-width="0.85"/>
<circle cx="243.89" cy="596.84" r="1.4" fill="#fff" stroke="#4a4a4a" stroke-width="0.85"/>
<circle cx="23.00" cy="602.73" r="1.4" fill="#fff" stroke="#4a4a4a" stroke-width="0.85"/>
<circle cx="28.07" cy="602.73" r="1.4" fill="#fff" stroke="#4a4a4a" stroke-width="0.85"/>
<circle cx="33.14" cy="602.73" r="1.4" fill="#fff" stroke="#4a4a4a" stroke-width="0.85"/>
<circle cx="38.21" cy="602.73" r="1.4" fill="#fff" stroke="#4a4a4a" stroke-width="0.85"/>
<circle cx="43.28" cy="602.73" r="1.75" fill="#000"/>
<circle cx="48.35" cy="602.73" r="1.75" fill="#000"/>
<circle cx="53.42" cy="602.73" r="1.75" fill="#000"/>
<circle cx="58.49" cy="602.73" r="1.75" fill="#000"/>
<circle cx="63.56" cy="602.73" r="1.75" fill="#000"/>
<circle cx="68.63" cy="602.73" r="1.75" fill="#000"/>
<circle cx="73.70" cy="602.73" r="1.75" fill="#000"/>
<circle cx="78.77" cy="602.73" r="1.4" fill="#fff" stroke="#4a4a4a" stroke-width="0.85"/>
<circle cx="83.84" cy="602.73" r="1.4" fill="#fff" stroke="#4a4a4a" stroke-width="0.85"/>
<circle cx="88.91" cy="602.73" r="1.4" fill="#fff" stroke="#4a4a4a" stroke-width="0.85"/>
<circle cx="93.98" cy="602.73" r="1.4" fill="#fff" stroke="#4a4a4a" stroke-width="0.85"/>
<circle cx="99.05" cy="602.73" r="1.4" fill="#fff" stroke="#4a4a4a" stroke-width="0.85"/>
<circle cx="104.12" cy="602.73" r="1.4" fill="#fff" stroke="#4a4a4a" stroke-width="0.85"/>
<circle cx="109.19" cy="602.73" r="1.4" fill="#fff" stroke="#4a4a4a" stroke-width="0.85"/>
<circle cx="114.26" cy="602.73" r="1.75" fill="#000"/>
<circle cx="119.33" cy="602.73" r="1.4" fill="#fff" stroke="#4a4a4a" stroke-width="0.85"/>
<circle cx="124.40" cy="602.73" r="1.4" fill="#fff" stroke="#4a4a4a" stroke-width="0.85"/>
<circle cx="129.47" cy="602.73" r="1.75" fill="#000"/>
<circle cx="134.54" cy="602.73" r="1.4" fill="#fff" stroke="#4a4a4a" stroke-width="0.85"/>
<circle cx="139.61" cy="602.73" r="1.75" fill="#000"/>
<circle cx="144.68" cy="602.73" r="1.4" fill="#fff" stroke="#4a4a4a" stroke-width="0.85"/>
<circle cx="149.75" cy="602.73" r="1.75" fill="#000"/>
<circle cx="156.50" cy="602.73" r="1.4" fill="#fff" stroke="#4a4a4a" stroke-width="0.85"/>
<circle cx="161.40" cy="602.73" r="1.4" fill="#fff" stroke="#4a4a4a" stroke-width="0.85"/>
<circle cx="166.30" cy="602.73" r="1.75" fill="#000"/>
<circle cx="171.20" cy="602.73" r="1.4" fill="#fff" stroke="#4a4a4a" stroke-width="0.85"/>
<circle cx="176.10" cy="602.73" r="1.4" fill="#fff" stroke="#4a4a4a" stroke-width="0.85"/>
<circle cx="181.00" cy="602.73" r="1.4" fill="#fff" stroke="#4a4a4a" stroke-width="0.85"/>
<circle cx="186.80" cy="602.73" r="1.4" fill="#fff" stroke="#4a4a4a" stroke-width="0.85"/>
<circle cx="191.99" cy="602.73" r="1.4" fill="#fff" stroke="#4a4a4a" stroke-width="0.85"/>
<circle cx="197.18" cy="602.73" r="1.4" fill="#fff" stroke="#4a4a4a" stroke-width="0.85"/>
<circle cx="202.37" cy="602.73" r="1.4" fill="#fff" stroke="#4a4a4a" stroke-width="0.85"/>
<circle cx="207.56" cy="602.73" r="1.4" fill="#fff" stroke="#4a4a4a" stroke-width="0.85"/>
<circle cx="212.75" cy="602.73" r="1.4" fill="#fff" stroke="#4a4a4a" stroke-width="0.85"/>
<circle cx="217.94" cy="602.73" r="1.4" fill="#fff" stroke="#4a4a4a" stroke-width="0.85"/>
<circle cx="223.13" cy="602.73" r="1.4" fill="#fff" stroke="#4a4a4a" stroke-width="0.85"/>
<circle cx="228.32" cy="602.73" r="1.4" fill="#fff" stroke="#4a4a4a" stroke-width="0.85"/>
<circle cx="233.51" cy="602.73" r="1.4" fill="#fff" stroke="#4a4a4a" stroke-width="0.85"/>
<circle cx="238.70" cy="602.73" r="1.4" fill="#fff" stroke="#4a4a4a" stroke-width="0.85"/>
<circle cx="243.89" cy="602.73" r="1.4" fill="#fff" stroke="#4a4a4a" stroke-width="0.85"/>
<circle cx="23.00" cy="608.62" r="1.75" fill="#000"/>
<circle cx="28.07" cy="608.62" r="1.75" fill="#000"/>
<circle cx="33.14" cy="608.62" r="1.75" fill="#000"/>
<circle cx="38.21" cy="608.62" r="1.75" fill="#000"/>
<circle cx="43.28" cy="608.62" r="1.75" fill="#000"/>
<circle cx="48.35" cy="608.62" r="1.75" fill="#000"/>
<circle cx="53.42" cy="608.62" r="1.75" fill="#000"/>
<circle cx="58.49" cy="608.62" r="1.75" fill="#000"/>
<circle cx="63.56" cy="608.62" r="1.75" fill="#000"/>
<circle cx="68.63" cy="608.62" r="1.75" fill="#000"/>
<circle cx="73.70" cy="608.62" r="1.75" fill="#000"/>
<circle cx="78.77" cy="608.62" r="1.75" fill="#000"/>
<circle cx="83.84" cy="608.62" r="1.75" fill="#000"/>
<circle cx="88.91" cy="608.62" r="1.75" fill="#000"/>
<circle cx="93.98" cy="608.62" r="1.4" fill="#fff" stroke="#4a4a4a" stroke-width="0.85"/>
<circle cx="99.05" cy="608.62" r="1.75" fill="#000"/>
<circle cx="104.12" cy="608.62" r="1.75" fill="#000"/>
<circle cx="109.19" cy="608.62" r="1.75" fill="#000"/>
<circle cx="114.26" cy="608.62" r="1.75" fill="#000"/>
<circle cx="119.33" cy="608.62" r="1.75" fill="#000"/>
<circle cx="124.40" cy="608.62" r="1.75" fill="#000"/>
<circle cx="129.47" cy="608.62" r="1.75" fill="#000"/>
<circle cx="134.54" cy="608.62" r="1.75" fill="#000"/>
<circle cx="139.61" cy="608.62" r="1.75" fill="#000"/>
<circle cx="144.68" cy="608.62" r="1.75" fill="#000"/>
<circle cx="149.75" cy="608.62" r="1.75" fill="#000"/>
<circle cx="156.50" cy="608.62" r="1.75" fill="#000"/>
<circle cx="161.40" cy="608.62" r="1.75" fill="#000"/>
<circle cx="166.30" cy="608.62" r="1.75" fill="#000"/>
<circle cx="171.20" cy="608.62" r="1.75" fill="#000"/>
<circle cx="176.10" cy="608.62" r="1.75" fill="#000"/>
<circle cx="181.00" cy="608.62" r="1.75" fill="#000"/>
<circle cx="186.80" cy="608.62" r="1.75" fill="#000"/>
<circle cx="191.99" cy="608.62" r="1.75" fill="#000"/>
<circle cx="197.18" cy="608.62" r="1.75" fill="#000"/>
<circle cx="202.37" cy="608.62" r="1.75" fill="#000"/>
<circle cx="207.56" cy="608.62" r="1.75" fill="#000"/>
<circle cx="212.75" cy="608.62" r="1.75" fill="#000"/>
<circle cx="217.94" cy="608.62" r="1.75" fill="#000"/>
<circle cx="223.13" cy="608.62" r="1.75" fill="#000"/>
<circle cx="228.32" cy="608.62" r="1.75" fill="#000"/>
<circle cx="233.51" cy="608.62" r="1.75" fill="#000"/>
<circle cx="238.70" cy="608.62" r="1.75" fill="#000"/>
<circle cx="243.89" cy="608.62" r="1.75" fill="#000"/>
<circle cx="23.00" cy="614.51" r="1.75" fill="#000"/>
<circle cx="28.07" cy="614.51" r="1.75" fill="#000"/>
<circle cx="33.14" cy="614.51" r="1.75" fill="#000"/>
<circle cx="38.21" cy="614.51" r="1.75" fill="#000"/>
<circle cx="43.28" cy="614.51" r="1.75" fill="#000"/>
<circle cx="48.35" cy="614.51" r="1.75" fill="#000"/>
<circle cx="53.42" cy="614.51" r="1.75" fill="#000"/>
<circle cx="58.49" cy="614.51" r="1.75" fill="#000"/>
<circle cx="63.56" cy="614.51" r="1.75" fill="#000"/>
<circle cx="68.63" cy="614.51" r="1.75" fill="#000"/>
<circle cx="73.70" cy="614.51" r="1.75" fill="#000"/>
<circle cx="78.77" cy="614.51" r="1.75" fill="#000"/>
<circle cx="83.84" cy="614.51" r="1.75" fill="#000"/>
<circle cx="88.91" cy="614.51" r="1.75" fill="#000"/>
<circle cx="93.98" cy="614.51" r="1.75" fill="#000"/>
<circle cx="99.05" cy="614.51" r="1.75" fill="#000"/>
<circle cx="104.12" cy="614.51" r="1.75" fill="#000"/>
<circle cx="109.19" cy="614.51" r="1.4" fill="#fff" stroke="#4a4a4a" stroke-width="0.85"/>
<circle cx="114.26" cy="614.51" r="1.75" fill="#000"/>
<circle cx="119.33" cy="614.51" r="1.75" fill="#000"/>
<circle cx="124.40" cy="614.51" r="1.75" fill="#000"/>
<circle cx="129.47" cy="614.51" r="1.75" fill="#000"/>
<circle cx="134.54" cy="614.51" r="1.75" fill="#000"/>
<circle cx="139.61" cy="614.51" r="1.75" fill="#000"/>
<circle cx="144.68" cy="614.51" r="1.75" fill="#000"/>
<circle cx="149.75" cy="614.51" r="1.75" fill="#000"/>
<circle cx="156.50" cy="614.51" r="1.75" fill="#000"/>
<circle cx="161.40" cy="614.51" r="1.75" fill="#000"/>
<circle cx="166.30" cy="614.51" r="1.75" fill="#000"/>
<circle cx="171.20" cy="614.51" r="1.75" fill="#000"/>
<circle cx="176.10" cy="614.51" r="1.75" fill="#000"/>
<circle cx="181.00" cy="614.51" r="1.75" fill="#000"/>
<circle cx="186.80" cy="614.51" r="1.4" fill="#fff" stroke="#4a4a4a" stroke-width="0.85"/>
<circle cx="191.99" cy="614.51" r="1.75" fill="#000"/>
<circle cx="197.18" cy="614.51" r="1.75" fill="#000"/>
<circle cx="202.37" cy="614.51" r="1.75" fill="#000"/>
<circle cx="207.56" cy="614.51" r="1.75" fill="#000"/>
<circle cx="212.75" cy="614.51" r="1.75" fill="#000"/>
<circle cx="217.94" cy="614.51" r="1.75" fill="#000"/>
<circle cx="223.13" cy="614.51" r="1.75" fill="#000"/>
<circle cx="228.32" cy="614.51" r="1.75" fill="#000"/>
<circle cx="233.51" cy="614.51" r="1.75" fill="#000"/>
<circle cx="238.70" cy="614.51" r="1.75" fill="#000"/>
<circle cx="243.89" cy="614.51" r="1.75" fill="#000"/>
<circle cx="23.00" cy="668.80" r="1.4" fill="#fff" stroke="#4a4a4a" stroke-width="0.85"/>
<circle cx="28.19" cy="668.80" r="1.4" fill="#fff" stroke="#4a4a4a" stroke-width="0.85"/>
<circle cx="33.38" cy="668.80" r="1.4" fill="#fff" stroke="#4a4a4a" stroke-width="0.85"/>
<circle cx="38.57" cy="668.80" r="1.4" fill="#fff" stroke="#4a4a4a" stroke-width="0.85"/>
<circle cx="43.76" cy="668.80" r="1.4" fill="#fff" stroke="#4a4a4a" stroke-width="0.85"/>
<circle cx="48.95" cy="668.80" r="1.4" fill="#fff" stroke="#4a4a4a" stroke-width="0.85"/>
<circle cx="54.14" cy="668.80" r="1.4" fill="#fff" stroke="#4a4a4a" stroke-width="0.85"/>
<circle cx="59.33" cy="668.80" r="1.4" fill="#fff" stroke="#4a4a4a" stroke-width="0.85"/>
<circle cx="64.52" cy="668.80" r="1.4" fill="#fff" stroke="#4a4a4a" stroke-width="0.85"/>
<circle cx="69.71" cy="668.80" r="1.4" fill="#fff" stroke="#4a4a4a" stroke-width="0.85"/>
<circle cx="74.90" cy="668.80" r="1.75" fill="#000"/>
<circle cx="80.09" cy="668.80" r="1.4" fill="#fff" stroke="#4a4a4a" stroke-width="0.85"/>
<circle cx="85.28" cy="668.80" r="1.75" fill="#000"/>
<circle cx="90.47" cy="668.80" r="1.75" fill="#000"/>
<circle cx="95.66" cy="668.80" r="1.75" fill="#000"/>
<circle cx="100.85" cy="668.80" r="1.75" fill="#000"/>
<circle cx="106.04" cy="668.80" r="1.75" fill="#000"/>
<circle cx="111.23" cy="668.80" r="1.75" fill="#000"/>
<circle cx="116.42" cy="668.80" r="1.75" fill="#000"/>
<circle cx="121.61" cy="668.80" r="1.75" fill="#000"/>
<circle cx="126.80" cy="668.80" r="1.75" fill="#000"/>
<circle cx="131.99" cy="668.80" r="1.75" fill="#000"/>
<circle cx="137.18" cy="668.80" r="1.75" fill="#000"/>
<circle cx="142.37" cy="668.80" r="1.75" fill="#000"/>
<circle cx="147.56" cy="668.80" r="1.75" fill="#000"/>
<circle cx="152.75" cy="668.80" r="1.75" fill="#000"/>
<circle cx="159.60" cy="668.80" r="1.75" fill="#000"/>
<circle cx="164.60" cy="668.80" r="1.75" fill="#000"/>
<circle cx="169.60" cy="668.80" r="1.75" fill="#000"/>
<circle cx="174.60" cy="668.80" r="1.75" fill="#000"/>
<circle cx="179.60" cy="668.80" r="1.75" fill="#000"/>
<circle cx="184.60" cy="668.80" r="1.75" fill="#000"/>
<circle cx="191.50" cy="668.80" r="1.75" fill="#000"/>
<circle cx="196.74" cy="668.80" r="1.75" fill="#000"/>
<circle cx="201.98" cy="668.80" r="1.75" fill="#000"/>
<circle cx="207.22" cy="668.80" r="1.4" fill="#fff" stroke="#4a4a4a" stroke-width="0.85"/>
<circle cx="212.46" cy="668.80" r="1.75" fill="#000"/>
<circle cx="217.70" cy="668.80" r="1.4" fill="#fff" stroke="#4a4a4a" stroke-width="0.85"/>
<circle cx="222.94" cy="668.80" r="1.75" fill="#000"/>
<circle cx="228.18" cy="668.80" r="1.75" fill="#000"/>
<circle cx="233.42" cy="668.80" r="1.4" fill="#fff" stroke="#4a4a4a" stroke-width="0.85"/>
<circle cx="238.66" cy="668.80" r="1.75" fill="#000"/>
<circle cx="243.90" cy="668.80" r="1.4" fill="#fff" stroke="#4a4a4a" stroke-width="0.85"/>
<circle cx="23.00" cy="674.80" r="1.4" fill="#fff" stroke="#4a4a4a" stroke-width="0.85"/>
<circle cx="28.19" cy="674.80" r="1.4" fill="#fff" stroke="#4a4a4a" stroke-width="0.85"/>
<circle cx="33.38" cy="674.80" r="1.4" fill="#fff" stroke="#4a4a4a" stroke-width="0.85"/>
<circle cx="38.57" cy="674.80" r="1.75" fill="#000"/>
<circle cx="43.76" cy="674.80" r="1.75" fill="#000"/>
<circle cx="48.95" cy="674.80" r="1.75" fill="#000"/>
<circle cx="54.14" cy="674.80" r="1.4" fill="#fff" stroke="#4a4a4a" stroke-width="0.85"/>
<circle cx="59.33" cy="674.80" r="1.4" fill="#fff" stroke="#4a4a4a" stroke-width="0.85"/>
<circle cx="64.52" cy="674.80" r="1.4" fill="#fff" stroke="#4a4a4a" stroke-width="0.85"/>
<circle cx="69.71" cy="674.80" r="1.75" fill="#000"/>
<circle cx="74.90" cy="674.80" r="1.75" fill="#000"/>
<circle cx="80.09" cy="674.80" r="1.4" fill="#fff" stroke="#4a4a4a" stroke-width="0.85"/>
<circle cx="85.28" cy="674.80" r="1.75" fill="#000"/>
<circle cx="90.47" cy="674.80" r="1.75" fill="#000"/>
<circle cx="95.66" cy="674.80" r="1.75" fill="#000"/>
<circle cx="100.85" cy="674.80" r="1.75" fill="#000"/>
<circle cx="106.04" cy="674.80" r="1.75" fill="#000"/>
<circle cx="111.23" cy="674.80" r="1.75" fill="#000"/>
<circle cx="116.42" cy="674.80" r="1.75" fill="#000"/>
<circle cx="121.61" cy="674.80" r="1.75" fill="#000"/>
<circle cx="126.80" cy="674.80" r="1.75" fill="#000"/>
<circle cx="131.99" cy="674.80" r="1.75" fill="#000"/>
<circle cx="137.18" cy="674.80" r="1.75" fill="#000"/>
<circle cx="142.37" cy="674.80" r="1.75" fill="#000"/>
<circle cx="147.56" cy="674.80" r="1.75" fill="#000"/>
<circle cx="152.75" cy="674.80" r="1.75" fill="#000"/>
<circle cx="159.60" cy="674.80" r="1.75" fill="#000"/>
<circle cx="164.60" cy="674.80" r="1.75" fill="#000"/>
<circle cx="169.60" cy="674.80" r="1.75" fill="#000"/>
<circle cx="174.60" cy="674.80" r="1.75" fill="#000"/>
<circle cx="179.60" cy="674.80" r="1.75" fill="#000"/>
<circle cx="184.60" cy="674.80" r="1.75" fill="#000"/>
<circle cx="191.50" cy="674.80" r="1.75" fill="#000"/>
<circle cx="196.74" cy="674.80" r="1.75" fill="#000"/>
<circle cx="201.98" cy="674.80" r="1.75" fill="#000"/>
<circle cx="207.22" cy="674.80" r="1.4" fill="#fff" stroke="#4a4a4a" stroke-width="0.85"/>
<circle cx="212.46" cy="674.80" r="1.75" fill="#000"/>
<circle cx="217.70" cy="674.80" r="1.4" fill="#fff" stroke="#4a4a4a" stroke-width="0.85"/>
<circle cx="222.94" cy="674.80" r="1.75" fill="#000"/>
<circle cx="228.18" cy="674.80" r="1.75" fill="#000"/>
<circle cx="233.42" cy="674.80" r="1.4" fill="#fff" stroke="#4a4a4a" stroke-width="0.85"/>
<circle cx="238.66" cy="674.80" r="1.75" fill="#000"/>
<circle cx="243.90" cy="674.80" r="1.4" fill="#fff" stroke="#4a4a4a" stroke-width="0.85"/>
<circle cx="23.00" cy="680.80" r="1.4" fill="#fff" stroke="#4a4a4a" stroke-width="0.85"/>
<circle cx="28.19" cy="680.80" r="1.4" fill="#fff" stroke="#4a4a4a" stroke-width="0.85"/>
<circle cx="33.38" cy="680.80" r="1.4" fill="#fff" stroke="#4a4a4a" stroke-width="0.85"/>
<circle cx="38.57" cy="680.80" r="1.75" fill="#000"/>
<circle cx="43.76" cy="680.80" r="1.75" fill="#000"/>
<circle cx="48.95" cy="680.80" r="1.75" fill="#000"/>
<circle cx="54.14" cy="680.80" r="1.4" fill="#fff" stroke="#4a4a4a" stroke-width="0.85"/>
<circle cx="59.33" cy="680.80" r="1.4" fill="#fff" stroke="#4a4a4a" stroke-width="0.85"/>
<circle cx="64.52" cy="680.80" r="1.4" fill="#fff" stroke="#4a4a4a" stroke-width="0.85"/>
<circle cx="69.71" cy="680.80" r="1.75" fill="#000"/>
<circle cx="74.90" cy="680.80" r="1.75" fill="#000"/>
<circle cx="80.09" cy="680.80" r="1.4" fill="#fff" stroke="#4a4a4a" stroke-width="0.85"/>
<circle cx="85.28" cy="680.80" r="1.75" fill="#000"/>
<circle cx="90.47" cy="680.80" r="1.75" fill="#000"/>
<circle cx="95.66" cy="680.80" r="1.75" fill="#000"/>
<circle cx="100.85" cy="680.80" r="1.75" fill="#000"/>
<circle cx="106.04" cy="680.80" r="1.75" fill="#000"/>
<circle cx="111.23" cy="680.80" r="1.75" fill="#000"/>
<circle cx="116.42" cy="680.80" r="1.75" fill="#000"/>
<circle cx="121.61" cy="680.80" r="1.75" fill="#000"/>
<circle cx="126.80" cy="680.80" r="1.75" fill="#000"/>
<circle cx="131.99" cy="680.80" r="1.75" fill="#000"/>
<circle cx="137.18" cy="680.80" r="1.75" fill="#000"/>
<circle cx="142.37" cy="680.80" r="1.75" fill="#000"/>
<circle cx="147.56" cy="680.80" r="1.75" fill="#000"/>
<circle cx="152.75" cy="680.80" r="1.75" fill="#000"/>
<circle cx="159.60" cy="680.80" r="1.75" fill="#000"/>
<circle cx="164.60" cy="680.80" r="1.75" fill="#000"/>
<circle cx="169.60" cy="680.80" r="1.75" fill="#000"/>
<circle cx="174.60" cy="680.80" r="1.75" fill="#000"/>
<circle cx="179.60" cy="680.80" r="1.75" fill="#000"/>
<circle cx="184.60" cy="680.80" r="1.75" fill="#000"/>
<circle cx="191.50" cy="680.80" r="1.75" fill="#000"/>
<circle cx="196.74" cy="680.80" r="1.75" fill="#000"/>
<circle cx="201.98" cy="680.80" r="1.75" fill="#000"/>
<circle cx="207.22" cy="680.80" r="1.4" fill="#fff" stroke="#4a4a4a" stroke-width="0.85"/>
<circle cx="212.46" cy="680.80" r="1.75" fill="#000"/>
<circle cx="217.70" cy="680.80" r="1.4" fill="#fff" stroke="#4a4a4a" stroke-width="0.85"/>
<circle cx="222.94" cy="680.80" r="1.75" fill="#000"/>
<circle cx="228.18" cy="680.80" r="1.75" fill="#000"/>
<circle cx="233.42" cy="680.80" r="1.4" fill="#fff" stroke="#4a4a4a" stroke-width="0.85"/>
<circle cx="238.66" cy="680.80" r="1.75" fill="#000"/>
<circle cx="243.90" cy="680.80" r="1.4" fill="#fff" stroke="#4a4a4a" stroke-width="0.85"/>
<circle cx="23.00" cy="686.80" r="1.4" fill="#fff" stroke="#4a4a4a" stroke-width="0.85"/>
<circle cx="28.19" cy="686.80" r="1.4" fill="#fff" stroke="#4a4a4a" stroke-width="0.85"/>
<circle cx="33.38" cy="686.80" r="1.4" fill="#fff" stroke="#4a4a4a" stroke-width="0.85"/>
<circle cx="38.57" cy="686.80" r="1.75" fill="#000"/>
<circle cx="43.76" cy="686.80" r="1.75" fill="#000"/>
<circle cx="48.95" cy="686.80" r="1.75" fill="#000"/>
<circle cx="54.14" cy="686.80" r="1.4" fill="#fff" stroke="#4a4a4a" stroke-width="0.85"/>
<circle cx="59.33" cy="686.80" r="1.4" fill="#fff" stroke="#4a4a4a" stroke-width="0.85"/>
<circle cx="64.52" cy="686.80" r="1.4" fill="#fff" stroke="#4a4a4a" stroke-width="0.85"/>
<circle cx="69.71" cy="686.80" r="1.4" fill="#fff" stroke="#4a4a4a" stroke-width="0.85"/>
<circle cx="74.90" cy="686.80" r="1.75" fill="#000"/>
<circle cx="80.09" cy="686.80" r="1.4" fill="#fff" stroke="#4a4a4a" stroke-width="0.85"/>
<circle cx="85.28" cy="686.80" r="1.75" fill="#000"/>
<circle cx="90.47" cy="686.80" r="1.75" fill="#000"/>
<circle cx="95.66" cy="686.80" r="1.75" fill="#000"/>
<circle cx="100.85" cy="686.80" r="1.75" fill="#000"/>
<circle cx="106.04" cy="686.80" r="1.75" fill="#000"/>
<circle cx="111.23" cy="686.80" r="1.4" fill="#fff" stroke="#4a4a4a" stroke-width="0.85"/>
<circle cx="116.42" cy="686.80" r="1.75" fill="#000"/>
<circle cx="121.61" cy="686.80" r="1.75" fill="#000"/>
<circle cx="126.80" cy="686.80" r="1.75" fill="#000"/>
<circle cx="131.99" cy="686.80" r="1.75" fill="#000"/>
<circle cx="137.18" cy="686.80" r="1.75" fill="#000"/>
<circle cx="142.37" cy="686.80" r="1.4" fill="#fff" stroke="#4a4a4a" stroke-width="0.85"/>
<circle cx="147.56" cy="686.80" r="1.75" fill="#000"/>
<circle cx="152.75" cy="686.80" r="1.75" fill="#000"/>
<circle cx="159.60" cy="686.80" r="1.75" fill="#000"/>
<circle cx="164.60" cy="686.80" r="1.75" fill="#000"/>
<circle cx="169.60" cy="686.80" r="1.75" fill="#000"/>
<circle cx="174.60" cy="686.80" r="1.75" fill="#000"/>
<circle cx="179.60" cy="686.80" r="1.75" fill="#000"/>
<circle cx="184.60" cy="686.80" r="1.75" fill="#000"/>
<circle cx="191.50" cy="686.80" r="1.75" fill="#000"/>
<circle cx="196.74" cy="686.80" r="1.75" fill="#000"/>
<circle cx="201.98" cy="686.80" r="1.75" fill="#000"/>
<circle cx="207.22" cy="686.80" r="1.75" fill="#000"/>
<circle cx="212.46" cy="686.80" r="1.75" fill="#000"/>
<circle cx="217.70" cy="686.80" r="1.75" fill="#000"/>
<circle cx="222.94" cy="686.80" r="1.75" fill="#000"/>
<circle cx="228.18" cy="686.80" r="1.75" fill="#000"/>
<circle cx="233.42" cy="686.80" r="1.75" fill="#000"/>
<circle cx="238.66" cy="686.80" r="1.75" fill="#000"/>
<circle cx="243.90" cy="686.80" r="1.75" fill="#000"/>
<circle cx="23.00" cy="692.80" r="1.4" fill="#fff" stroke="#4a4a4a" stroke-width="0.85"/>
<circle cx="28.19" cy="692.80" r="1.4" fill="#fff" stroke="#4a4a4a" stroke-width="0.85"/>
<circle cx="33.38" cy="692.80" r="1.4" fill="#fff" stroke="#4a4a4a" stroke-width="0.85"/>
<circle cx="38.57" cy="692.80" r="1.75" fill="#000"/>
<circle cx="43.76" cy="692.80" r="1.75" fill="#000"/>
<circle cx="48.95" cy="692.80" r="1.75" fill="#000"/>
<circle cx="54.14" cy="692.80" r="1.4" fill="#fff" stroke="#4a4a4a" stroke-width="0.85"/>
<circle cx="59.33" cy="692.80" r="1.4" fill="#fff" stroke="#4a4a4a" stroke-width="0.85"/>
<circle cx="64.52" cy="692.80" r="1.4" fill="#fff" stroke="#4a4a4a" stroke-width="0.85"/>
<circle cx="69.71" cy="692.80" r="1.4" fill="#fff" stroke="#4a4a4a" stroke-width="0.85"/>
<circle cx="74.90" cy="692.80" r="1.75" fill="#000"/>
<circle cx="80.09" cy="692.80" r="1.4" fill="#fff" stroke="#4a4a4a" stroke-width="0.85"/>
<circle cx="85.28" cy="692.80" r="1.75" fill="#000"/>
<circle cx="90.47" cy="692.80" r="1.75" fill="#000"/>
<circle cx="95.66" cy="692.80" r="1.75" fill="#000"/>
<circle cx="100.85" cy="692.80" r="1.4" fill="#fff" stroke="#4a4a4a" stroke-width="0.85"/>
<circle cx="106.04" cy="692.80" r="1.75" fill="#000"/>
<circle cx="111.23" cy="692.80" r="1.75" fill="#000"/>
<circle cx="116.42" cy="692.80" r="1.75" fill="#000"/>
<circle cx="121.61" cy="692.80" r="1.75" fill="#000"/>
<circle cx="126.80" cy="692.80" r="1.75" fill="#000"/>
<circle cx="131.99" cy="692.80" r="1.75" fill="#000"/>
<circle cx="137.18" cy="692.80" r="1.75" fill="#000"/>
<circle cx="142.37" cy="692.80" r="1.4" fill="#fff" stroke="#4a4a4a" stroke-width="0.85"/>
<circle cx="147.56" cy="692.80" r="1.75" fill="#000"/>
<circle cx="152.75" cy="692.80" r="1.75" fill="#000"/>
<circle cx="159.60" cy="692.80" r="1.75" fill="#000"/>
<circle cx="164.60" cy="692.80" r="1.75" fill="#000"/>
<circle cx="169.60" cy="692.80" r="1.75" fill="#000"/>
<circle cx="174.60" cy="692.80" r="1.75" fill="#000"/>
<circle cx="179.60" cy="692.80" r="1.75" fill="#000"/>
<circle cx="184.60" cy="692.80" r="1.75" fill="#000"/>
<circle cx="191.50" cy="692.80" r="1.75" fill="#000"/>
<circle cx="196.74" cy="692.80" r="1.75" fill="#000"/>
<circle cx="201.98" cy="692.80" r="1.75" fill="#000"/>
<circle cx="207.22" cy="692.80" r="1.4" fill="#fff" stroke="#4a4a4a" stroke-width="0.85"/>
<circle cx="212.46" cy="692.80" r="1.75" fill="#000"/>
<circle cx="217.70" cy="692.80" r="1.4" fill="#fff" stroke="#4a4a4a" stroke-width="0.85"/>
<circle cx="222.94" cy="692.80" r="1.75" fill="#000"/>
<circle cx="228.18" cy="692.80" r="1.75" fill="#000"/>
<circle cx="233.42" cy="692.80" r="1.4" fill="#fff" stroke="#4a4a4a" stroke-width="0.85"/>
<circle cx="238.66" cy="692.80" r="1.75" fill="#000"/>
<circle cx="243.90" cy="692.80" r="1.4" fill="#fff" stroke="#4a4a4a" stroke-width="0.85"/>
<circle cx="23.00" cy="698.80" r="1.4" fill="#fff" stroke="#4a4a4a" stroke-width="0.85"/>
<circle cx="28.19" cy="698.80" r="1.4" fill="#fff" stroke="#4a4a4a" stroke-width="0.85"/>
<circle cx="33.38" cy="698.80" r="1.4" fill="#fff" stroke="#4a4a4a" stroke-width="0.85"/>
<circle cx="38.57" cy="698.80" r="1.75" fill="#000"/>
<circle cx="43.76" cy="698.80" r="1.75" fill="#000"/>
<circle cx="48.95" cy="698.80" r="1.75" fill="#000"/>
<circle cx="54.14" cy="698.80" r="1.4" fill="#fff" stroke="#4a4a4a" stroke-width="0.85"/>
<circle cx="59.33" cy="698.80" r="1.4" fill="#fff" stroke="#4a4a4a" stroke-width="0.85"/>
<circle cx="64.52" cy="698.80" r="1.4" fill="#fff" stroke="#4a4a4a" stroke-width="0.85"/>
<circle cx="69.71" cy="698.80" r="1.75" fill="#000"/>
<circle cx="74.90" cy="698.80" r="1.75" fill="#000"/>
<circle cx="80.09" cy="698.80" r="1.4" fill="#fff" stroke="#4a4a4a" stroke-width="0.85"/>
<circle cx="85.28" cy="698.80" r="1.75" fill="#000"/>
<circle cx="90.47" cy="698.80" r="1.75" fill="#000"/>
<circle cx="95.66" cy="698.80" r="1.75" fill="#000"/>
<circle cx="100.85" cy="698.80" r="1.75" fill="#000"/>
<circle cx="106.04" cy="698.80" r="1.75" fill="#000"/>
<circle cx="111.23" cy="698.80" r="1.75" fill="#000"/>
<circle cx="116.42" cy="698.80" r="1.75" fill="#000"/>
<circle cx="121.61" cy="698.80" r="1.75" fill="#000"/>
<circle cx="126.80" cy="698.80" r="1.75" fill="#000"/>
<circle cx="131.99" cy="698.80" r="1.75" fill="#000"/>
<circle cx="137.18" cy="698.80" r="1.75" fill="#000"/>
<circle cx="142.37" cy="698.80" r="1.75" fill="#000"/>
<circle cx="147.56" cy="698.80" r="1.75" fill="#000"/>
<circle cx="152.75" cy="698.80" r="1.75" fill="#000"/>
<circle cx="159.60" cy="698.80" r="1.75" fill="#000"/>
<circle cx="164.60" cy="698.80" r="1.75" fill="#000"/>
<circle cx="169.60" cy="698.80" r="1.75" fill="#000"/>
<circle cx="174.60" cy="698.80" r="1.75" fill="#000"/>
<circle cx="179.60" cy="698.80" r="1.75" fill="#000"/>
<circle cx="184.60" cy="698.80" r="1.75" fill="#000"/>
<circle cx="191.50" cy="698.80" r="1.75" fill="#000"/>
<circle cx="196.74" cy="698.80" r="1.75" fill="#000"/>
<circle cx="201.98" cy="698.80" r="1.75" fill="#000"/>
<circle cx="207.22" cy="698.80" r="1.4" fill="#fff" stroke="#4a4a4a" stroke-width="0.85"/>
<circle cx="212.46" cy="698.80" r="1.75" fill="#000"/>
<circle cx="217.70" cy="698.80" r="1.4" fill="#fff" stroke="#4a4a4a" stroke-width="0.85"/>
<circle cx="222.94" cy="698.80" r="1.75" fill="#000"/>
<circle cx="228.18" cy="698.80" r="1.75" fill="#000"/>
<circle cx="233.42" cy="698.80" r="1.4" fill="#fff" stroke="#4a4a4a" stroke-width="0.85"/>
<circle cx="238.66" cy="698.80" r="1.75" fill="#000"/>
<circle cx="243.90" cy="698.80" r="1.4" fill="#fff" stroke="#4a4a4a" stroke-width="0.85"/>
<circle cx="23.00" cy="704.80" r="1.4" fill="#fff" stroke="#4a4a4a" stroke-width="0.85"/>
<circle cx="28.19" cy="704.80" r="1.4" fill="#fff" stroke="#4a4a4a" stroke-width="0.85"/>
<circle cx="33.38" cy="704.80" r="1.4" fill="#fff" stroke="#4a4a4a" stroke-width="0.85"/>
<circle cx="38.57" cy="704.80" r="1.4" fill="#fff" stroke="#4a4a4a" stroke-width="0.85"/>
<circle cx="43.76" cy="704.80" r="1.4" fill="#fff" stroke="#4a4a4a" stroke-width="0.85"/>
<circle cx="48.95" cy="704.80" r="1.4" fill="#fff" stroke="#4a4a4a" stroke-width="0.85"/>
<circle cx="54.14" cy="704.80" r="1.4" fill="#fff" stroke="#4a4a4a" stroke-width="0.85"/>
<circle cx="59.33" cy="704.80" r="1.4" fill="#fff" stroke="#4a4a4a" stroke-width="0.85"/>
<circle cx="64.52" cy="704.80" r="1.75" fill="#000"/>
<circle cx="69.71" cy="704.80" r="1.4" fill="#fff" stroke="#4a4a4a" stroke-width="0.85"/>
<circle cx="74.90" cy="704.80" r="1.75" fill="#000"/>
<circle cx="80.09" cy="704.80" r="1.4" fill="#fff" stroke="#4a4a4a" stroke-width="0.85"/>
<circle cx="85.28" cy="704.80" r="1.4" fill="#fff" stroke="#4a4a4a" stroke-width="0.85"/>
<circle cx="90.47" cy="704.80" r="1.75" fill="#000"/>
<circle cx="95.66" cy="704.80" r="1.75" fill="#000"/>
<circle cx="100.85" cy="704.80" r="1.75" fill="#000"/>
<circle cx="106.04" cy="704.80" r="1.75" fill="#000"/>
<circle cx="111.23" cy="704.80" r="1.75" fill="#000"/>
<circle cx="116.42" cy="704.80" r="1.75" fill="#000"/>
<circle cx="121.61" cy="704.80" r="1.75" fill="#000"/>
<circle cx="126.80" cy="704.80" r="1.75" fill="#000"/>
<circle cx="131.99" cy="704.80" r="1.75" fill="#000"/>
<circle cx="137.18" cy="704.80" r="1.75" fill="#000"/>
<circle cx="142.37" cy="704.80" r="1.75" fill="#000"/>
<circle cx="147.56" cy="704.80" r="1.75" fill="#000"/>
<circle cx="152.75" cy="704.80" r="1.75" fill="#000"/>
<circle cx="159.60" cy="704.80" r="1.75" fill="#000"/>
<circle cx="164.60" cy="704.80" r="1.75" fill="#000"/>
<circle cx="169.60" cy="704.80" r="1.75" fill="#000"/>
<circle cx="174.60" cy="704.80" r="1.75" fill="#000"/>
<circle cx="179.60" cy="704.80" r="1.75" fill="#000"/>
<circle cx="184.60" cy="704.80" r="1.4" fill="#fff" stroke="#4a4a4a" stroke-width="0.85"/>
<circle cx="191.50" cy="704.80" r="1.75" fill="#000"/>
<circle cx="196.74" cy="704.80" r="1.75" fill="#000"/>
<circle cx="201.98" cy="704.80" r="1.75" fill="#000"/>
<circle cx="207.22" cy="704.80" r="1.75" fill="#000"/>
<circle cx="212.46" cy="704.80" r="1.75" fill="#000"/>
<circle cx="217.70" cy="704.80" r="1.75" fill="#000"/>
<circle cx="222.94" cy="704.80" r="1.75" fill="#000"/>
<circle cx="228.18" cy="704.80" r="1.75" fill="#000"/>
<circle cx="233.42" cy="704.80" r="1.75" fill="#000"/>
<circle cx="238.66" cy="704.80" r="1.75" fill="#000"/>
<circle cx="243.90" cy="704.80" r="1.4" fill="#fff" stroke="#4a4a4a" stroke-width="0.85"/>
<circle cx="23.00" cy="710.80" r="1.4" fill="#fff" stroke="#4a4a4a" stroke-width="0.85"/>
<circle cx="28.19" cy="710.80" r="1.4" fill="#fff" stroke="#4a4a4a" stroke-width="0.85"/>
<circle cx="33.38" cy="710.80" r="1.4" fill="#fff" stroke="#4a4a4a" stroke-width="0.85"/>
<circle cx="38.57" cy="710.80" r="1.4" fill="#fff" stroke="#4a4a4a" stroke-width="0.85"/>
<circle cx="43.76" cy="710.80" r="1.4" fill="#fff" stroke="#4a4a4a" stroke-width="0.85"/>
<circle cx="48.95" cy="710.80" r="1.4" fill="#fff" stroke="#4a4a4a" stroke-width="0.85"/>
<circle cx="54.14" cy="710.80" r="1.4" fill="#fff" stroke="#4a4a4a" stroke-width="0.85"/>
<circle cx="59.33" cy="710.80" r="1.4" fill="#fff" stroke="#4a4a4a" stroke-width="0.85"/>
<circle cx="64.52" cy="710.80" r="1.4" fill="#fff" stroke="#4a4a4a" stroke-width="0.85"/>
<circle cx="69.71" cy="710.80" r="1.4" fill="#fff" stroke="#4a4a4a" stroke-width="0.85"/>
<circle cx="74.90" cy="710.80" r="1.4" fill="#fff" stroke="#4a4a4a" stroke-width="0.85"/>
<circle cx="80.09" cy="710.80" r="1.4" fill="#fff" stroke="#4a4a4a" stroke-width="0.85"/>
<circle cx="85.28" cy="710.80" r="1.4" fill="#fff" stroke="#4a4a4a" stroke-width="0.85"/>
<circle cx="90.47" cy="710.80" r="1.4" fill="#fff" stroke="#4a4a4a" stroke-width="0.85"/>
<circle cx="95.66" cy="710.80" r="1.4" fill="#fff" stroke="#4a4a4a" stroke-width="0.85"/>
<circle cx="100.85" cy="710.80" r="1.4" fill="#fff" stroke="#4a4a4a" stroke-width="0.85"/>
<circle cx="106.04" cy="710.80" r="1.4" fill="#fff" stroke="#4a4a4a" stroke-width="0.85"/>
<circle cx="111.23" cy="710.80" r="1.4" fill="#fff" stroke="#4a4a4a" stroke-width="0.85"/>
<circle cx="116.42" cy="710.80" r="1.75" fill="#000"/>
<circle cx="121.61" cy="710.80" r="1.4" fill="#fff" stroke="#4a4a4a" stroke-width="0.85"/>
<circle cx="126.80" cy="710.80" r="1.4" fill="#fff" stroke="#4a4a4a" stroke-width="0.85"/>
<circle cx="131.99" cy="710.80" r="1.4" fill="#fff" stroke="#4a4a4a" stroke-width="0.85"/>
<circle cx="137.18" cy="710.80" r="1.75" fill="#000"/>
<circle cx="142.37" cy="710.80" r="1.75" fill="#000"/>
<circle cx="147.56" cy="710.80" r="1.4" fill="#fff" stroke="#4a4a4a" stroke-width="0.85"/>
<circle cx="152.75" cy="710.80" r="1.75" fill="#000"/>
<circle cx="159.60" cy="710.80" r="1.75" fill="#000"/>
<circle cx="164.60" cy="710.80" r="1.75" fill="#000"/>
<circle cx="169.60" cy="710.80" r="1.75" fill="#000"/>
<circle cx="174.60" cy="710.80" r="1.75" fill="#000"/>
<circle cx="179.60" cy="710.80" r="1.75" fill="#000"/>
<circle cx="184.60" cy="710.80" r="1.75" fill="#000"/>
<circle cx="191.50" cy="710.80" r="1.75" fill="#000"/>
<circle cx="196.74" cy="710.80" r="1.75" fill="#000"/>
<circle cx="201.98" cy="710.80" r="1.75" fill="#000"/>
<circle cx="207.22" cy="710.80" r="1.75" fill="#000"/>
<circle cx="212.46" cy="710.80" r="1.75" fill="#000"/>
<circle cx="217.70" cy="710.80" r="1.75" fill="#000"/>
<circle cx="222.94" cy="710.80" r="1.75" fill="#000"/>
<circle cx="228.18" cy="710.80" r="1.75" fill="#000"/>
<circle cx="233.42" cy="710.80" r="1.75" fill="#000"/>
<circle cx="238.66" cy="710.80" r="1.75" fill="#000"/>
<circle cx="243.90" cy="710.80" r="1.75" fill="#000"/>
<circle cx="23.00" cy="716.80" r="1.4" fill="#fff" stroke="#4a4a4a" stroke-width="0.85"/>
<circle cx="28.19" cy="716.80" r="1.4" fill="#fff" stroke="#4a4a4a" stroke-width="0.85"/>
<circle cx="33.38" cy="716.80" r="1.4" fill="#fff" stroke="#4a4a4a" stroke-width="0.85"/>
<circle cx="38.57" cy="716.80" r="1.4" fill="#fff" stroke="#4a4a4a" stroke-width="0.85"/>
<circle cx="43.76" cy="716.80" r="1.4" fill="#fff" stroke="#4a4a4a" stroke-width="0.85"/>
<circle cx="48.95" cy="716.80" r="1.4" fill="#fff" stroke="#4a4a4a" stroke-width="0.85"/>
<circle cx="54.14" cy="716.80" r="1.4" fill="#fff" stroke="#4a4a4a" stroke-width="0.85"/>
<circle cx="59.33" cy="716.80" r="1.4" fill="#fff" stroke="#4a4a4a" stroke-width="0.85"/>
<circle cx="64.52" cy="716.80" r="1.4" fill="#fff" stroke="#4a4a4a" stroke-width="0.85"/>
<circle cx="69.71" cy="716.80" r="1.4" fill="#fff" stroke="#4a4a4a" stroke-width="0.85"/>
<circle cx="74.90" cy="716.80" r="1.4" fill="#fff" stroke="#4a4a4a" stroke-width="0.85"/>
<circle cx="80.09" cy="716.80" r="1.4" fill="#fff" stroke="#4a4a4a" stroke-width="0.85"/>
<circle cx="85.28" cy="716.80" r="1.4" fill="#fff" stroke="#4a4a4a" stroke-width="0.85"/>
<circle cx="90.47" cy="716.80" r="1.75" fill="#000"/>
<circle cx="95.66" cy="716.80" r="1.4" fill="#fff" stroke="#4a4a4a" stroke-width="0.85"/>
<circle cx="100.85" cy="716.80" r="1.75" fill="#000"/>
<circle cx="106.04" cy="716.80" r="1.75" fill="#000"/>
<circle cx="111.23" cy="716.80" r="1.75" fill="#000"/>
<circle cx="116.42" cy="716.80" r="1.75" fill="#000"/>
<circle cx="121.61" cy="716.80" r="1.75" fill="#000"/>
<circle cx="126.80" cy="716.80" r="1.75" fill="#000"/>
<circle cx="131.99" cy="716.80" r="1.75" fill="#000"/>
<circle cx="137.18" cy="716.80" r="1.75" fill="#000"/>
<circle cx="142.37" cy="716.80" r="1.4" fill="#fff" stroke="#4a4a4a" stroke-width="0.85"/>
<circle cx="147.56" cy="716.80" r="1.75" fill="#000"/>
<circle cx="152.75" cy="716.80" r="1.75" fill="#000"/>
<circle cx="159.60" cy="716.80" r="1.75" fill="#000"/>
<circle cx="164.60" cy="716.80" r="1.75" fill="#000"/>
<circle cx="169.60" cy="716.80" r="1.75" fill="#000"/>
<circle cx="174.60" cy="716.80" r="1.75" fill="#000"/>
<circle cx="179.60" cy="716.80" r="1.75" fill="#000"/>
<circle cx="184.60" cy="716.80" r="1.75" fill="#000"/>
<circle cx="191.50" cy="716.80" r="1.75" fill="#000"/>
<circle cx="196.74" cy="716.80" r="1.75" fill="#000"/>
<circle cx="201.98" cy="716.80" r="1.75" fill="#000"/>
<circle cx="207.22" cy="716.80" r="1.75" fill="#000"/>
<circle cx="212.46" cy="716.80" r="1.75" fill="#000"/>
<circle cx="217.70" cy="716.80" r="1.4" fill="#fff" stroke="#4a4a4a" stroke-width="0.85"/>
<circle cx="222.94" cy="716.80" r="1.75" fill="#000"/>
<circle cx="228.18" cy="716.80" r="1.75" fill="#000"/>
<circle cx="233.42" cy="716.80" r="1.4" fill="#fff" stroke="#4a4a4a" stroke-width="0.85"/>
<circle cx="238.66" cy="716.80" r="1.75" fill="#000"/>
<circle cx="243.90" cy="716.80" r="1.4" fill="#fff" stroke="#4a4a4a" stroke-width="0.85"/>
<circle cx="23.00" cy="722.80" r="1.4" fill="#fff" stroke="#4a4a4a" stroke-width="0.85"/>
<circle cx="28.19" cy="722.80" r="1.4" fill="#fff" stroke="#4a4a4a" stroke-width="0.85"/>
<circle cx="33.38" cy="722.80" r="1.4" fill="#fff" stroke="#4a4a4a" stroke-width="0.85"/>
<circle cx="38.57" cy="722.80" r="1.75" fill="#000"/>
<circle cx="43.76" cy="722.80" r="1.75" fill="#000"/>
<circle cx="48.95" cy="722.80" r="1.75" fill="#000"/>
<circle cx="54.14" cy="722.80" r="1.4" fill="#fff" stroke="#4a4a4a" stroke-width="0.85"/>
<circle cx="59.33" cy="722.80" r="1.4" fill="#fff" stroke="#4a4a4a" stroke-width="0.85"/>
<circle cx="64.52" cy="722.80" r="1.4" fill="#fff" stroke="#4a4a4a" stroke-width="0.85"/>
<circle cx="69.71" cy="722.80" r="1.75" fill="#000"/>
<circle cx="74.90" cy="722.80" r="1.75" fill="#000"/>
<circle cx="80.09" cy="722.80" r="1.75" fill="#000"/>
<circle cx="85.28" cy="722.80" r="1.75" fill="#000"/>
<circle cx="90.47" cy="722.80" r="1.75" fill="#000"/>
<circle cx="95.66" cy="722.80" r="1.75" fill="#000"/>
<circle cx="100.85" cy="722.80" r="1.75" fill="#000"/>
<circle cx="106.04" cy="722.80" r="1.75" fill="#000"/>
<circle cx="111.23" cy="722.80" r="1.75" fill="#000"/>
<circle cx="116.42" cy="722.80" r="1.75" fill="#000"/>
<circle cx="121.61" cy="722.80" r="1.75" fill="#000"/>
<circle cx="126.80" cy="722.80" r="1.75" fill="#000"/>
<circle cx="131.99" cy="722.80" r="1.75" fill="#000"/>
<circle cx="137.18" cy="722.80" r="1.75" fill="#000"/>
<circle cx="142.37" cy="722.80" r="1.75" fill="#000"/>
<circle cx="147.56" cy="722.80" r="1.75" fill="#000"/>
<circle cx="152.75" cy="722.80" r="1.75" fill="#000"/>
<circle cx="159.60" cy="722.80" r="1.75" fill="#000"/>
<circle cx="164.60" cy="722.80" r="1.75" fill="#000"/>
<circle cx="169.60" cy="722.80" r="1.75" fill="#000"/>
<circle cx="174.60" cy="722.80" r="1.75" fill="#000"/>
<circle cx="179.60" cy="722.80" r="1.75" fill="#000"/>
<circle cx="184.60" cy="722.80" r="1.75" fill="#000"/>
<circle cx="191.50" cy="722.80" r="1.75" fill="#000"/>
<circle cx="196.74" cy="722.80" r="1.75" fill="#000"/>
<circle cx="201.98" cy="722.80" r="1.75" fill="#000"/>
<circle cx="207.22" cy="722.80" r="1.75" fill="#000"/>
<circle cx="212.46" cy="722.80" r="1.4" fill="#fff" stroke="#4a4a4a" stroke-width="0.85"/>
<circle cx="217.70" cy="722.80" r="1.75" fill="#000"/>
<circle cx="222.94" cy="722.80" r="1.75" fill="#000"/>
<circle cx="228.18" cy="722.80" r="1.75" fill="#000"/>
<circle cx="233.42" cy="722.80" r="1.4" fill="#fff" stroke="#4a4a4a" stroke-width="0.85"/>
<circle cx="238.66" cy="722.80" r="1.4" fill="#fff" stroke="#4a4a4a" stroke-width="0.85"/>
<circle cx="243.90" cy="722.80" r="1.4" fill="#fff" stroke="#4a4a4a" stroke-width="0.85"/>
<text x="262.8" y="563" font-size="5.8" font-weight="bold" text-anchor="middle" fill="#d4505c" >T</text>
<text x="269.25" y="563" font-size="5.8" font-weight="bold" text-anchor="middle" fill="#4c4cd0" >C</text>
<text x="275.7" y="563" font-size="5.8" font-weight="bold" text-anchor="middle" fill="#484848" >G</text>
<text x="282.15" y="563" font-size="5.8" font-weight="bold" text-anchor="middle" fill="#d4505c" >T</text>
<text x="288.6" y="563" font-size="5.8" font-weight="bold" text-anchor="middle" fill="#4c4cd0" >C</text>
<text x="295.05" y="563" font-size="5.8" font-weight="bold" text-anchor="middle" fill="#484848" >G</text>
<text x="301.5" y="563" font-size="5.8" font-weight="bold" text-anchor="middle" fill="#d4505c" >T</text>
<text x="307.95" y="563" font-size="5.8" font-weight="bold" text-anchor="middle" fill="#d4505c" >T</text>
<text x="314.4" y="563" font-size="5.8" font-weight="bold" text-anchor="middle" fill="#d4505c" >T</text>
<text x="320.85" y="563" font-size="5.8" font-weight="bold" text-anchor="middle" fill="#d4505c" >T</text>
<text x="327.3" y="563" font-size="5.8" font-weight="bold" text-anchor="middle" fill="#d4505c" >T</text>
<text x="333.75" y="563" font-size="5.8" font-weight="bold" text-anchor="middle" fill="#484848" >G</text>
<text x="340.2" y="563" font-size="5.8" font-weight="bold" text-anchor="middle" fill="#d4505c" >T</text>
<text x="346.65" y="563" font-size="5.8" font-weight="bold" text-anchor="middle" fill="#d4505c" >T</text>
<text x="353.1" y="563" font-size="5.8" font-weight="bold" text-anchor="middle" fill="#d4505c" >T</text>
<text x="359.55" y="563" font-size="5.8" font-weight="bold" text-anchor="middle" fill="#d4505c" >T</text>
<text x="366.0" y="563" font-size="5.8" font-weight="bold" text-anchor="middle" fill="#d4505c" >T</text>
<text x="372.45" y="563" font-size="5.8" font-weight="bold" text-anchor="middle" fill="#d4505c" >T</text>
<text x="378.9" y="563" font-size="5.8" font-weight="bold" text-anchor="middle" fill="#4c4cd0" >C</text>
<text x="385.35" y="563" font-size="5.8" font-weight="bold" text-anchor="middle" fill="#484848" >G</text>
<text x="391.8" y="563" font-size="5.8" font-weight="bold" text-anchor="middle" fill="#d4505c" >T</text>
<text x="398.25" y="563" font-size="5.8" font-weight="bold" text-anchor="middle" fill="#d4505c" >T</text>
<text x="404.7" y="563" font-size="5.8" font-weight="bold" text-anchor="middle" fill="#d4505c" >T</text>
<text x="411.15" y="563" font-size="5.8" font-weight="bold" text-anchor="middle" fill="#d4505c" >T</text>
<text x="417.6" y="563" font-size="5.8" font-weight="bold" text-anchor="middle" fill="#d4505c" >T</text>
<text x="424.05" y="563" font-size="5.8" font-weight="bold" text-anchor="middle" fill="#d4505c" >T</text>
<text x="430.5" y="563" font-size="5.8" font-weight="bold" text-anchor="middle" fill="#d4505c" >T</text>
<text x="436.95" y="563" font-size="5.8" font-weight="bold" text-anchor="middle" fill="#58b858" >A</text>
<text x="443.4" y="563" font-size="5.8" font-weight="bold" text-anchor="middle" fill="#484848" >G</text>
<text x="449.85" y="563" font-size="5.8" font-weight="bold" text-anchor="middle" fill="#484848" >G</text>
<text x="456.3" y="563" font-size="5.8" font-weight="bold" text-anchor="middle" fill="#d4505c" >T</text>
<text x="462.75" y="563" font-size="5.8" font-weight="bold" text-anchor="middle" fill="#d4505c" >T</text>
<text x="469.2" y="563" font-size="5.8" font-weight="bold" text-anchor="middle" fill="#4c4cd0" >C</text>
<text x="475.65" y="563" font-size="5.8" font-weight="bold" text-anchor="middle" fill="#484848" >G</text>
<text x="482.1" y="563" font-size="5.8" font-weight="bold" text-anchor="middle" fill="#d4505c" >T</text>
<text x="488.55" y="563" font-size="5.8" font-weight="bold" text-anchor="middle" fill="#d4505c" >T</text>
<text x="495.0" y="563" font-size="5.8" font-weight="bold" text-anchor="middle" fill="#d4505c" >T</text>
<text x="501.45" y="563" font-size="5.8" font-weight="bold" text-anchor="middle" fill="#d4505c" >T</text>
<polyline points="258.6,614.3 259.0,614.3 259.4,614.3 259.8,614.3 260.2,614.3 260.6,614.3 261.0,614.3 261.4,614.3 261.8,614.3 262.2,614.3 262.6,614.3 263.0,614.3 263.4,614.3 263.8,614.3 264.2,614.3 264.6,614.3 265.0,614.3 265.4,614.3 265.8,614.3 266.2,614.3 266.6,614.3 267.0,614.3 267.4,614.3 267.8,614.3 268.2,614.3 268.6,614.3 269.0,614.3 269.4,614.3 269.8,614.3 270.2,614.3 270.6,614.3 271.0,614.3 271.4,614.3 271.8,614.3 272.2,614.3 272.6,614.3 273.0,614.3 273.4,614.3 273.8,614.3 274.2,614.3 274.6,614.3 275.0,614.3 275.4,614.3 275.8,614.3 276.2,614.3 276.6,614.3 277.0,614.3 277.4,614.3 277.8,614.3 278.2,614.3 278.6,614.3 279.0,614.3 279.4,614.3 279.8,614.3 280.2,614.3 280.6,614.3 281.0,614.3 281.4,614.3 281.8,614.3 282.2,614.3 282.6,614.3 283.0,614.3 283.4,614.3 283.8,614.3 284.2,614.3 284.6,614.3 285.0,614.3 285.4,614.3 285.8,614.3 286.2,614.3 286.6,614.3 287.0,614.3 287.4,614.3 287.8,614.3 288.2,614.3 288.6,614.3 289.0,614.3 289.4,614.3 289.8,614.3 290.2,614.3 290.6,614.3 291.0,614.3 291.4,614.3 291.8,614.3 292.2,614.3 292.6,614.3 293.0,614.3 293.4,614.3 293.8,614.3 294.2,614.3 294.6,614.3 295.0,614.3 295.4,614.3 295.8,614.3 296.2,614.3 296.6,614.3 297.0,614.3 297.4,614.3 297.8,614.3 298.2,614.3 298.6,614.3 299.0,614.3 299.4,614.3 299.8,614.3 300.2,614.3 300.6,614.3 301.0,614.3 301.4,614.3 301.8,614.3 302.2,614.3 302.6,614.3 303.0,614.3 303.4,614.3 303.8,614.3 304.2,614.3 304.6,614.3 305.0,614.3 305.4,614.3 305.8,614.3 306.2,614.3 306.6,614.3 307.0,614.3 307.4,614.3 307.8,614.3 308.2,614.3 308.6,614.3 309.0,614.3 309.4,614.3 309.8,614.3 310.2,614.3 310.6,614.3 311.0,614.3 311.4,614.3 311.8,614.3 312.2,614.3 312.6,614.3 313.0,614.3 313.4,614.3 313.8,614.3 314.2,614.3 314.6,614.3 315.0,614.3 315.4,614.3 315.8,614.3 316.2,614.3 316.6,614.3 317.0,614.3 317.4,614.3 317.8,614.3 318.2,614.3 318.6,614.3 319.0,614.3 319.4,614.3 319.8,614.3 320.2,614.3 320.6,614.3 321.0,614.3 321.4,614.3 321.8,614.3 322.2,614.3 322.6,614.3 323.0,614.3 323.4,614.3 323.8,614.3 324.2,614.3 324.6,614.3 325.0,614.3 325.4,614.3 325.8,614.3 326.2,614.3 326.6,614.3 327.0,614.3 327.4,614.3 327.8,614.3 328.2,614.3 328.6,614.3 329.0,614.3 329.4,614.3 329.8,614.3 330.2,614.3 330.6,614.3 331.0,614.3 331.4,614.3 331.8,614.3 332.2,614.3 332.6,614.3 333.0,614.3 333.4,614.3 333.8,614.3 334.2,614.3 334.6,614.3 335.0,614.3 335.4,614.3 335.8,614.3 336.2,614.3 336.6,614.3 337.0,614.3 337.4,614.3 337.8,614.3 338.2,614.3 338.6,614.3 339.0,614.3 339.4,614.3 339.8,614.3 340.2,614.3 340.6,614.3 341.0,614.3 341.4,614.3 341.8,614.3 342.2,614.3 342.6,614.3 343.0,614.3 343.4,614.3 343.8,614.3 344.2,614.3 344.6,614.3 345.0,614.3 345.4,614.3 345.8,614.3 346.2,614.3 346.6,614.3 347.0,614.3 347.4,614.3 347.8,614.3 348.2,614.3 348.6,614.3 349.0,614.3 349.4,614.3 349.8,614.3 350.2,614.3 350.6,614.3 351.0,614.3 351.4,614.3 351.8,614.3 352.2,614.3 352.6,614.3 353.0,614.3 353.4,614.3 353.8,614.3 354.2,614.3 354.6,614.3 355.0,614.3 355.4,614.3 355.8,614.3 356.2,614.3 356.6,614.3 357.0,614.3 357.4,614.3 357.8,614.3 358.2,614.3 358.6,614.3 359.0,614.3 359.4,614.3 359.8,614.3 360.2,614.3 360.6,614.3 361.0,614.3 361.4,614.3 361.8,614.3 362.2,614.3 362.6,614.3 363.0,614.3 363.4,614.3 363.8,614.3 364.2,614.3 364.6,614.3 365.0,614.3 365.4,614.3 365.8,614.3 366.2,614.3 366.6,614.3 367.0,614.3 367.4,614.3 367.8,614.3 368.2,614.3 368.6,614.3 369.0,614.3 369.4,614.3 369.8,614.3 370.2,614.3 370.6,614.3 371.0,614.3 371.4,614.3 371.8,614.3 372.2,614.3 372.6,614.3 373.0,614.3 373.4,614.3 373.8,614.3 374.2,614.3 374.6,614.3 375.0,614.3 375.4,614.3 375.8,614.3 376.2,614.3 376.6,614.3 377.0,614.3 377.4,614.3 377.8,614.3 378.2,614.3 378.6,614.3 379.0,614.3 379.4,614.3 379.8,614.3 380.2,614.3 380.6,614.3 381.0,614.3 381.4,614.3 381.8,614.3 382.2,614.3 382.6,614.3 383.0,614.3 383.4,614.3 383.8,614.3 384.2,614.3 384.6,614.3 385.0,614.3 385.4,614.3 385.8,614.3 386.2,614.3 386.6,614.3 387.0,614.3 387.4,614.3 387.8,614.3 388.2,614.3 388.6,614.3 389.0,614.3 389.4,614.3 389.8,614.3 390.2,614.3 390.6,614.3 391.0,614.3 391.4,614.3 391.8,614.3 392.2,614.3 392.6,614.3 393.0,614.3 393.4,614.3 393.8,614.3 394.2,614.3 394.6,614.3 395.0,614.3 395.4,614.3 395.8,614.3 396.2,614.3 396.6,614.3 397.0,614.3 397.4,614.3 397.8,614.3 398.2,614.3 398.6,614.3 399.0,614.3 399.4,614.3 399.8,614.3 400.2,614.3 400.6,614.3 401.0,614.3 401.4,614.3 401.8,614.3 402.2,614.3 402.6,614.3 403.0,614.3 403.4,614.3 403.8,614.3 404.2,614.3 404.6,614.3 405.0,614.3 405.4,614.3 405.8,614.3 406.2,614.3 406.6,614.3 407.0,614.3 407.4,614.3 407.8,614.3 408.2,614.3 408.6,614.3 409.0,614.3 409.4,614.3 409.8,614.3 410.2,614.3 410.6,614.3 411.0,614.3 411.4,614.3 411.8,614.3 412.2,614.3 412.6,614.3 413.0,614.3 413.4,614.3 413.8,614.3 414.2,614.3 414.6,614.3 415.0,614.3 415.4,614.3 415.8,614.3 416.2,614.3 416.6,614.3 417.0,614.3 417.4,614.3 417.8,614.3 418.2,614.3 418.6,614.3 419.0,614.3 419.4,614.3 419.8,614.3 420.2,614.3 420.6,614.3 421.0,614.3 421.4,614.3 421.8,614.3 422.2,614.3 422.6,614.3 423.0,614.3 423.4,614.3 423.8,614.3 424.2,614.3 424.6,614.3 425.0,614.3 425.4,614.3 425.8,614.3 426.2,614.3 426.6,614.3 427.0,614.3 427.4,614.3 427.8,614.3 428.2,614.3 428.6,614.3 429.0,614.3 429.4,614.3 429.8,614.3 430.2,614.3 430.6,614.3 431.0,614.3 431.4,614.3 431.8,614.3 432.2,614.3 432.6,614.3 433.0,614.3 433.4,614.3 433.8,613.4 434.2,611.3 434.6,608.1 435.0,604.3 435.4,600.2 435.8,596.5 436.2,593.6 436.6,591.7 437.0,591.2 437.4,592.1 437.8,594.2 438.2,597.4 438.6,601.2 439.0,605.2 439.4,609.0 439.8,611.9 440.2,613.8 440.6,614.3 441.0,614.3 441.4,614.3 441.8,614.3 442.2,614.3 442.6,614.3 443.0,614.3 443.4,614.3 443.8,614.3 444.2,614.3 444.6,614.3 445.0,614.3 445.4,614.3 445.8,614.3 446.2,614.3 446.6,614.3 447.0,614.3 447.4,614.3 447.8,614.3 448.2,614.3 448.6,614.3 449.0,614.3 449.4,614.3 449.8,614.3 450.2,614.3 450.6,614.3 451.0,614.3 451.4,614.3 451.8,614.3 452.2,614.3 452.6,614.3 453.0,614.3 453.4,614.3 453.8,614.3 454.2,614.3 454.6,614.3 455.0,614.3 455.4,614.3 455.8,614.3 456.2,614.3 456.6,614.3 457.0,614.3 457.4,614.3 457.8,614.3 458.2,614.3 458.6,614.3 459.0,614.3 459.4,614.3 459.8,614.3 460.2,614.3 460.6,614.3 461.0,614.3 461.4,614.3 461.8,614.3 462.2,614.3 462.6,614.3 463.0,614.3 463.4,614.3 463.8,614.3 464.2,614.3 464.6,614.3 465.0,614.3 465.4,614.3 465.8,614.3 466.2,614.3 466.6,614.3 467.0,614.3 467.4,614.3 467.8,614.3 468.2,614.3 468.6,614.3 469.0,614.3 469.4,614.3 469.8,614.3 470.2,614.3 470.6,614.3 471.0,614.3 471.4,614.3 471.8,614.3 472.2,614.3 472.6,614.3 473.0,614.3 473.4,614.3 473.8,614.3 474.2,614.3 474.6,614.3 475.0,614.3 475.4,614.3 475.8,614.3 476.2,614.3 476.6,614.3 477.0,614.3 477.4,614.3 477.8,614.3 478.2,614.3 478.6,614.3 479.0,614.3 479.4,614.3 479.8,614.3 480.2,614.3 480.6,614.3 481.0,614.3 481.4,614.3 481.8,614.3 482.2,614.3 482.6,614.3 483.0,614.3 483.4,614.3 483.8,614.3 484.2,614.3 484.6,614.3 485.0,614.3 485.4,614.3 485.8,614.3 486.2,614.3 486.6,614.3 487.0,614.3 487.4,614.3 487.8,614.3 488.2,614.3 488.6,614.3 489.0,614.3 489.4,614.3 489.8,614.3 490.2,614.3 490.6,614.3 491.0,614.3 491.4,614.3 491.8,614.3 492.2,614.3 492.6,614.3 493.0,614.3 493.4,614.3 493.8,614.3 494.2,614.3 494.6,614.3 495.0,614.3 495.4,614.3 495.8,614.3 496.2,614.3 496.6,614.3 497.0,614.3 497.4,614.3 497.8,614.3 498.2,614.3 498.6,614.3 499.0,614.3 499.4,614.3 499.8,614.3 500.2,614.3 500.6,614.3 501.0,614.3 501.4,614.3 501.8,614.3 502.2,614.3 502.6,614.3 503.0,614.3 503.4,614.3 503.8,614.3 504.2,614.3 504.6,614.3 505.0,614.3 505.4,614.3 505.8,614.3 506.2,614.3 506.6,614.3 507.0,614.3 507.4,614.3 507.8,614.3 508.2,614.3" fill="none" stroke="#68d068" stroke-width="1.05" stroke-linejoin="round"/>
<polyline points="258.6,614.3 259.0,614.3 259.4,614.3 259.8,614.3 260.2,614.3 260.6,614.3 261.0,614.3 261.4,614.3 261.8,614.3 262.2,614.3 262.6,614.3 263.0,614.3 263.4,614.3 263.8,614.3 264.2,614.3 264.6,614.3 265.0,614.3 265.4,614.3 265.8,614.3 266.2,614.3 266.6,614.3 267.0,614.3 267.4,614.3 267.8,614.3 268.2,614.3 268.6,614.3 269.0,614.3 269.4,614.3 269.8,614.3 270.2,614.3 270.6,614.3 271.0,614.3 271.4,614.3 271.8,614.3 272.2,614.3 272.6,613.6 273.0,612.1 273.4,610.0 273.8,607.5 274.2,605.0 274.6,602.7 275.0,600.8 275.4,599.7 275.8,599.5 276.2,600.2 276.6,601.7 277.0,603.8 277.4,606.3 277.8,608.8 278.2,611.1 278.6,613.0 279.0,614.0 279.4,614.3 279.8,614.3 280.2,614.3 280.6,614.3 281.0,614.3 281.4,614.3 281.8,614.3 282.2,614.3 282.6,614.3 283.0,614.3 283.4,614.3 283.8,614.3 284.2,614.3 284.6,614.3 285.0,614.3 285.4,614.3 285.8,614.3 286.2,614.3 286.6,614.3 287.0,614.3 287.4,614.3 287.8,614.3 288.2,614.3 288.6,614.3 289.0,614.3 289.4,614.3 289.8,614.3 290.2,614.3 290.6,614.3 291.0,614.3 291.4,614.3 291.8,614.0 292.2,612.8 292.6,610.9 293.0,608.5 293.4,605.9 293.8,603.5 294.2,601.4 294.6,600.1 295.0,599.5 295.4,599.8 295.8,601.0 296.2,602.9 296.6,605.3 297.0,607.9 297.4,610.3 297.8,612.4 298.2,613.7 298.6,614.3 299.0,614.3 299.4,614.3 299.8,614.3 300.2,614.3 300.6,614.3 301.0,614.3 301.4,614.3 301.8,614.3 302.2,614.3 302.6,614.3 303.0,614.3 303.4,614.3 303.8,614.3 304.2,614.3 304.6,614.3 305.0,614.3 305.4,614.3 305.8,614.3 306.2,614.3 306.6,614.3 307.0,614.3 307.4,614.3 307.8,614.3 308.2,614.3 308.6,614.3 309.0,614.3 309.4,614.3 309.8,614.3 310.2,614.3 310.6,614.3 311.0,614.3 311.4,614.3 311.8,614.3 312.2,614.3 312.6,614.3 313.0,614.3 313.4,614.3 313.8,614.3 314.2,614.3 314.6,614.3 315.0,614.3 315.4,614.3 315.8,614.3 316.2,614.3 316.6,614.3 317.0,614.3 317.4,614.3 317.8,614.3 318.2,614.3 318.6,614.3 319.0,614.3 319.4,614.3 319.8,614.3 320.2,614.3 320.6,614.3 321.0,614.3 321.4,614.3 321.8,614.3 322.2,614.3 322.6,614.3 323.0,614.3 323.4,614.3 323.8,614.3 324.2,614.3 324.6,614.3 325.0,614.3 325.4,614.3 325.8,614.3 326.2,614.3 326.6,614.3 327.0,614.3 327.4,614.3 327.8,614.3 328.2,614.3 328.6,614.3 329.0,614.3 329.4,614.3 329.8,614.3 330.2,614.3 330.6,613.2 331.0,610.6 331.4,606.8 331.8,602.2 332.2,597.4 332.6,592.9 333.0,589.4 333.4,587.2 333.8,586.5 334.2,587.6 334.6,590.2 335.0,594.0 335.4,598.6 335.8,603.4 336.2,607.9 336.6,611.4 337.0,613.7 337.4,614.3 337.8,614.3 338.2,614.3 338.6,614.3 339.0,614.3 339.4,614.3 339.8,614.3 340.2,614.3 340.6,614.3 341.0,614.3 341.4,614.3 341.8,614.3 342.2,614.3 342.6,614.3 343.0,614.3 343.4,614.3 343.8,614.3 344.2,614.3 344.6,614.3 345.0,614.3 345.4,614.3 345.8,614.3 346.2,614.3 346.6,614.3 347.0,614.3 347.4,614.3 347.8,614.3 348.2,614.3 348.6,614.3 349.0,614.3 349.4,614.3 349.8,614.3 350.2,614.3 350.6,614.3 351.0,614.3 351.4,614.3 351.8,614.3 352.2,614.3 352.6,614.3 353.0,614.3 353.4,614.3 353.8,614.3 354.2,614.3 354.6,614.3 355.0,614.3 355.4,614.3 355.8,614.3 356.2,614.3 356.6,614.3 357.0,614.3 357.4,614.3 357.8,614.3 358.2,614.3 358.6,614.3 359.0,614.3 359.4,614.3 359.8,614.3 360.2,614.3 360.6,614.3 361.0,614.3 361.4,614.3 361.8,614.3 362.2,614.3 362.6,614.3 363.0,614.3 363.4,614.3 363.8,614.3 364.2,614.3 364.6,614.3 365.0,614.3 365.4,614.3 365.8,614.3 366.2,614.3 366.6,614.3 367.0,614.3 367.4,614.3 367.8,614.3 368.2,614.3 368.6,614.3 369.0,614.3 369.4,614.3 369.8,614.3 370.2,614.3 370.6,614.3 371.0,614.3 371.4,614.3 371.8,614.3 372.2,614.3 372.6,614.3 373.0,614.3 373.4,614.3 373.8,614.3 374.2,614.3 374.6,614.3 375.0,614.3 375.4,614.3 375.8,614.3 376.2,614.3 376.6,614.3 377.0,614.3 377.4,614.3 377.8,614.3 378.2,614.3 378.6,614.3 379.0,614.3 379.4,614.3 379.8,614.3 380.2,614.3 380.6,614.3 381.0,614.3 381.4,614.3 381.8,614.3 382.2,613.7 382.6,612.4 383.0,610.3 383.4,607.9 383.8,605.3 384.2,602.9 384.6,601.0 385.0,599.8 385.4,599.5 385.8,600.1 386.2,601.4 386.6,603.5 387.0,605.9 387.4,608.5 387.8,610.9 388.2,612.8 388.6,614.0 389.0,614.3 389.4,614.3 389.8,614.3 390.2,614.3 390.6,614.3 391.0,614.3 391.4,614.3 391.8,614.3 392.2,614.3 392.6,614.3 393.0,614.3 393.4,614.3 393.8,614.3 394.2,614.3 394.6,614.3 395.0,614.3 395.4,614.3 395.8,614.3 396.2,614.3 396.6,614.3 397.0,614.3 397.4,614.3 397.8,614.3 398.2,614.3 398.6,614.3 399.0,614.3 399.4,614.3 399.8,614.3 400.2,614.3 400.6,614.3 401.0,614.3 401.4,614.3 401.8,614.3 402.2,614.3 402.6,614.3 403.0,614.3 403.4,614.3 403.8,614.3 404.2,614.3 404.6,614.3 405.0,614.3 405.4,614.3 405.8,614.3 406.2,614.3 406.6,614.3 407.0,614.3 407.4,614.3 407.8,614.3 408.2,614.3 408.6,614.3 409.0,614.3 409.4,614.3 409.8,614.3 410.2,614.3 410.6,614.3 411.0,614.3 411.4,614.3 411.8,614.3 412.2,614.3 412.6,614.3 413.0,614.3 413.4,614.3 413.8,614.3 414.2,614.3 414.6,614.3 415.0,614.3 415.4,614.3 415.8,614.3 416.2,614.3 416.6,614.3 417.0,614.3 417.4,614.3 417.8,614.3 418.2,614.3 418.6,614.3 419.0,614.3 419.4,614.3 419.8,614.3 420.2,614.3 420.6,614.3 421.0,614.3 421.4,614.3 421.8,614.3 422.2,614.3 422.6,614.3 423.0,614.3 423.4,614.3 423.8,614.3 424.2,614.3 424.6,614.3 425.0,614.3 425.4,614.3 425.8,614.3 426.2,614.3 426.6,614.3 427.0,614.3 427.4,614.3 427.8,614.3 428.2,614.3 428.6,614.3 429.0,614.3 429.4,614.3 429.8,614.3 430.2,614.3 430.6,614.3 431.0,614.3 431.4,614.3 431.8,614.3 432.2,614.3 432.6,614.3 433.0,614.3 433.4,614.3 433.8,614.3 434.2,614.3 434.6,614.3 435.0,614.3 435.4,614.3 435.8,614.3 436.2,614.3 436.6,614.3 437.0,614.3 437.4,614.3 437.8,614.3 438.2,614.3 438.6,614.3 439.0,614.3 439.4,614.3 439.8,614.3 440.2,613.8 440.6,612.3 441.0,610.1 441.4,607.3 441.8,604.4 442.2,601.6 442.6,599.4 443.0,597.9 443.4,597.4 443.8,597.9 444.2,599.4 444.6,601.6 445.0,604.4 445.4,607.3 445.8,610.1 446.2,612.3 446.6,613.1 447.0,611.2 447.4,607.4 447.8,602.6 448.2,597.4 448.6,592.5 449.0,588.4 449.4,585.6 449.8,584.4 450.2,585.1 450.6,587.5 451.0,591.3 451.4,596.1 451.8,601.3 452.2,606.3 452.6,610.4 453.0,613.2 453.4,614.3 453.8,614.3 454.2,614.3 454.6,614.3 455.0,614.3 455.4,614.3 455.8,614.3 456.2,614.3 456.6,614.3 457.0,614.3 457.4,614.3 457.8,614.3 458.2,614.3 458.6,614.3 459.0,614.3 459.4,614.3 459.8,614.3 460.2,614.3 460.6,614.3 461.0,614.3 461.4,614.3 461.8,614.3 462.2,614.3 462.6,614.3 463.0,614.3 463.4,614.3 463.8,614.3 464.2,614.3 464.6,614.3 465.0,614.3 465.4,614.3 465.8,614.3 466.2,614.3 466.6,614.3 467.0,614.3 467.4,614.3 467.8,614.3 468.2,614.3 468.6,614.3 469.0,614.3 469.4,614.3 469.8,614.3 470.2,614.3 470.6,614.3 471.0,614.3 471.4,614.3 471.8,614.3 472.2,614.2 472.6,613.3 473.0,611.6 473.4,609.1 473.8,606.2 474.2,603.3 474.6,600.7 475.0,598.7 475.4,597.6 475.8,597.5 476.2,598.4 476.6,600.2 477.0,602.6 477.4,605.5 477.8,608.4 478.2,611.0 478.6,613.0 479.0,614.1 479.4,614.3 479.8,614.3 480.2,614.3 480.6,614.3 481.0,614.3 481.4,614.3 481.8,614.3 482.2,614.3 482.6,614.3 483.0,614.3 483.4,614.3 483.8,614.3 484.2,614.3 484.6,614.3 485.0,614.3 485.4,614.3 485.8,614.3 486.2,614.3 486.6,614.3 487.0,614.3 487.4,614.3 487.8,614.3 488.2,614.3 488.6,614.3 489.0,614.3 489.4,614.3 489.8,614.3 490.2,614.3 490.6,614.3 491.0,614.3 491.4,614.3 491.8,614.3 492.2,614.3 492.6,614.3 493.0,614.3 493.4,614.3 493.8,614.3 494.2,614.3 494.6,614.3 495.0,614.3 495.4,614.3 495.8,614.3 496.2,614.3 496.6,614.3 497.0,614.3 497.4,614.3 497.8,614.3 498.2,614.3 498.6,614.3 499.0,614.3 499.4,614.3 499.8,614.3 500.2,614.3 500.6,614.3 501.0,614.3 501.4,614.3 501.8,614.3 502.2,614.3 502.6,614.3 503.0,614.3 503.4,614.3 503.8,614.3 504.2,614.3 504.6,614.3 505.0,614.3 505.4,614.3 505.8,614.3 506.2,614.3 506.6,614.3 507.0,614.3 507.4,614.3 507.8,614.3 508.2,614.3" fill="none" stroke="#404040" stroke-width="1.05" stroke-linejoin="round"/>
<polyline points="258.6,614.3 259.0,614.3 259.4,614.1 259.8,612.6 260.2,609.8 260.6,606.0 261.0,601.7 261.4,597.4 261.8,593.6 262.2,590.8 262.6,589.3 263.0,589.3 263.4,590.8 263.8,593.6 264.2,597.4 264.6,601.7 265.0,606.0 265.4,609.8 265.8,612.6 266.2,614.1 266.6,614.3 267.0,614.3 267.4,614.3 267.8,614.3 268.2,614.3 268.6,614.3 269.0,614.3 269.4,614.3 269.8,614.3 270.2,614.3 270.6,614.3 271.0,614.3 271.4,614.3 271.8,614.3 272.2,614.3 272.6,614.3 273.0,614.3 273.4,614.3 273.8,614.3 274.2,614.3 274.6,614.3 275.0,614.3 275.4,614.3 275.8,614.3 276.2,614.3 276.6,614.3 277.0,614.3 277.4,614.3 277.8,614.3 278.2,614.3 278.6,614.3 279.0,613.6 279.4,611.8 279.8,609.3 280.2,606.2 280.6,602.9 281.0,599.9 281.4,597.5 281.8,596.0 282.2,595.6 282.6,596.3 283.0,598.1 283.4,600.6 283.8,603.7 284.2,607.0 284.6,610.0 285.0,612.4 285.4,613.9 285.8,614.3 286.2,614.3 286.6,614.3 287.0,614.3 287.4,614.3 287.8,614.3 288.2,614.3 288.6,614.3 289.0,614.3 289.4,614.3 289.8,614.3 290.2,614.3 290.6,614.3 291.0,614.3 291.4,614.3 291.8,614.3 292.2,614.3 292.6,614.3 293.0,614.3 293.4,614.3 293.8,614.3 294.2,614.3 294.6,614.3 295.0,614.3 295.4,614.3 295.8,614.3 296.2,614.3 296.6,614.3 297.0,614.3 297.4,614.3 297.8,614.3 298.2,614.0 298.6,612.7 299.0,610.6 299.4,607.9 299.8,604.8 300.2,601.9 300.6,599.4 301.0,597.7 301.4,596.9 301.8,597.2 302.2,598.5 302.6,600.6 303.0,603.3 303.4,606.4 303.8,609.3 304.2,611.8 304.6,613.2 305.0,612.3 305.4,609.5 305.8,605.7 306.2,601.4 306.6,597.2 307.0,593.6 307.4,591.0 307.8,589.7 308.2,589.9 308.6,591.6 309.0,594.5 309.4,598.3 309.8,602.5 310.2,606.7 310.6,610.3 311.0,612.7 311.4,612.5 311.8,609.8 312.2,606.0 312.6,601.7 313.0,597.4 313.4,593.6 313.8,590.8 314.2,589.3 314.6,589.3 315.0,590.8 315.4,593.6 315.8,597.4 316.2,601.7 316.6,606.0 317.0,609.8 317.4,612.5 317.8,612.7 318.2,610.1 318.6,606.4 319.0,602.0 319.4,597.6 319.8,593.6 320.2,590.6 320.6,588.9 321.0,588.7 321.4,590.0 321.8,592.8 322.2,596.5 322.6,600.9 323.0,605.3 323.4,609.3 323.8,612.2 324.2,612.8 324.6,610.6 325.0,607.0 325.4,602.8 325.8,598.4 326.2,594.5 326.6,591.4 327.0,589.5 327.4,589.2 327.8,590.3 328.2,592.8 328.6,596.4 329.0,600.6 329.4,605.0 329.8,608.9 330.2,612.0 330.6,613.9 331.0,614.3 331.4,614.3 331.8,614.3 332.2,614.3 332.6,614.3 333.0,614.3 333.4,614.3 333.8,614.3 334.2,614.3 334.6,614.3 335.0,614.3 335.4,614.3 335.8,614.3 336.2,614.3 336.6,614.3 337.0,613.6 337.4,611.7 337.8,608.7 338.2,605.0 338.6,601.0 339.0,597.4 339.4,594.3 339.8,592.4 340.2,591.7 340.6,592.4 341.0,594.3 341.4,597.4 341.8,601.0 342.2,605.0 342.6,608.7 343.0,611.7 343.4,613.0 343.8,611.6 344.2,608.4 344.6,604.2 345.0,599.8 345.4,595.5 345.8,592.0 346.2,589.6 346.6,588.6 347.0,589.2 347.4,591.2 347.8,594.5 348.2,598.7 348.6,603.1 349.0,607.4 349.4,610.9 349.8,612.9 350.2,611.8 350.6,608.5 351.0,604.3 351.4,599.6 351.8,595.1 352.2,591.2 352.6,588.6 353.0,587.3 353.4,587.7 353.8,589.7 354.2,593.0 354.6,597.3 355.0,602.0 355.4,606.5 355.8,610.3 356.2,612.7 356.6,612.1 357.0,608.9 357.4,604.6 357.8,599.8 358.2,595.1 358.6,591.0 359.0,588.1 359.4,586.6 359.8,586.8 360.2,588.7 360.6,591.9 361.0,596.2 361.4,601.0 361.8,605.7 362.2,609.8 362.6,612.5 363.0,612.4 363.4,609.5 363.8,605.4 364.2,600.8 364.6,596.2 365.0,592.1 365.4,589.1 365.8,587.5 366.2,587.5 366.6,589.1 367.0,592.1 367.4,596.2 367.8,600.8 368.2,605.4 368.6,609.5 369.0,612.4 369.4,612.7 369.8,610.2 370.2,606.5 370.6,602.3 371.0,597.9 371.4,594.0 371.8,591.1 372.2,589.4 372.6,589.2 373.0,590.5 373.4,593.2 373.8,596.9 374.2,601.2 374.6,605.5 375.0,609.4 375.4,612.3 375.8,614.0 376.2,614.3 376.6,614.3 377.0,614.3 377.4,614.3 377.8,614.3 378.2,614.3 378.6,614.3 379.0,614.3 379.4,614.3 379.8,614.3 380.2,614.3 380.6,614.3 381.0,614.3 381.4,614.3 381.8,614.3 382.2,614.3 382.6,614.3 383.0,614.3 383.4,614.3 383.8,614.3 384.2,614.3 384.6,614.3 385.0,614.3 385.4,614.3 385.8,614.3 386.2,614.3 386.6,614.3 387.0,614.3 387.4,614.3 387.8,614.3 388.2,614.3 388.6,613.7 389.0,612.1 389.4,609.6 389.8,606.6 390.2,603.3 390.6,600.3 391.0,597.8 391.4,596.2 391.8,595.6 392.2,596.2 392.6,597.8 393.0,600.3 393.4,603.3 393.8,606.6 394.2,609.6 394.6,612.1 395.0,613.2 395.4,611.7 395.8,608.5 396.2,604.4 396.6,600.1 397.0,595.9 397.4,592.4 397.8,590.1 398.2,589.1 398.6,589.7 399.0,591.7 399.4,594.9 399.8,599.0 400.2,603.3 400.6,607.5 401.0,611.0 401.4,612.9 401.8,612.0 402.2,608.9 402.6,605.0 403.0,600.6 403.4,596.4 403.8,592.8 404.2,590.3 404.6,589.2 405.0,589.5 405.4,591.4 405.8,594.5 406.2,598.4 406.6,602.8 407.0,607.0 407.4,610.6 407.8,612.8 408.2,612.2 408.6,609.3 409.0,605.3 409.4,600.9 409.8,596.5 410.2,592.8 410.6,590.0 411.0,588.7 411.4,588.9 411.8,590.6 412.2,593.6 412.6,597.6 413.0,602.0 413.4,606.4 413.8,610.1 414.2,612.6 414.6,612.4 415.0,609.5 415.4,605.4 415.8,600.8 416.2,596.2 416.6,592.1 417.0,589.1 417.4,587.5 417.8,587.5 418.2,589.1 418.6,592.1 419.0,596.2 419.4,600.8 419.8,605.4 420.2,609.5 420.6,612.4 421.0,612.6 421.4,610.1 421.8,606.4 422.2,602.0 422.6,597.6 423.0,593.6 423.4,590.6 423.8,588.9 424.2,588.7 424.6,590.0 425.0,592.8 425.4,596.5 425.8,600.9 426.2,605.3 426.6,609.3 427.0,612.2 427.4,612.8 427.8,610.6 428.2,607.0 428.6,602.8 429.0,598.4 429.4,594.5 429.8,591.4 430.2,589.5 430.6,589.2 431.0,590.3 431.4,592.8 431.8,596.4 432.2,600.6 432.6,605.0 433.0,608.9 433.4,612.0 433.8,613.9 434.2,614.3 434.6,614.3 435.0,614.3 435.4,614.3 435.8,614.3 436.2,614.3 436.6,614.3 437.0,614.3 437.4,614.3 437.8,614.3 438.2,614.3 438.6,614.3 439.0,614.3 439.4,614.3 439.8,614.3 440.2,614.3 440.6,614.3 441.0,614.3 441.4,614.3 441.8,614.3 442.2,614.3 442.6,614.3 443.0,614.3 443.4,614.3 443.8,614.3 444.2,614.3 444.6,614.3 445.0,614.3 445.4,614.3 445.8,614.3 446.2,614.3 446.6,614.3 447.0,614.3 447.4,614.3 447.8,614.3 448.2,614.3 448.6,614.3 449.0,614.3 449.4,614.3 449.8,614.3 450.2,614.3 450.6,614.3 451.0,614.3 451.4,614.3 451.8,614.3 452.2,614.3 452.6,614.3 453.0,614.0 453.4,612.6 453.8,610.3 454.2,607.4 454.6,604.1 455.0,601.0 455.4,598.3 455.8,596.5 456.2,595.6 456.6,595.9 457.0,597.3 457.4,599.6 457.8,602.5 458.2,605.8 458.6,608.9 459.0,611.6 459.4,613.2 459.8,612.6 460.2,610.1 460.6,606.9 461.0,603.2 461.4,599.6 461.8,596.5 462.2,594.2 462.6,593.1 463.0,593.3 463.4,594.7 463.8,597.2 464.2,600.4 464.6,604.1 465.0,607.7 465.4,610.8 465.8,613.1 466.2,614.2 466.6,614.3 467.0,614.3 467.4,614.3 467.8,614.3 468.2,614.3 468.6,614.3 469.0,614.3 469.4,614.3 469.8,614.3 470.2,614.3 470.6,614.3 471.0,614.3 471.4,614.3 471.8,614.3 472.2,614.3 472.6,614.3 473.0,614.3 473.4,614.3 473.8,614.3 474.2,614.3 474.6,614.3 475.0,614.3 475.4,614.3 475.8,614.3 476.2,614.3 476.6,614.3 477.0,614.3 477.4,614.3 477.8,614.3 478.2,614.3 478.6,614.3 479.0,613.5 479.4,611.9 479.8,609.7 480.2,606.9 480.6,604.2 481.0,601.6 481.4,599.7 481.8,598.5 482.2,598.2 482.6,599.0 483.0,600.6 483.4,602.8 483.8,605.5 484.2,608.3 484.6,610.9 485.0,612.8 485.4,613.2 485.8,611.4 486.2,608.4 486.6,604.7 487.0,600.9 487.4,597.3 487.8,594.5 488.2,592.7 488.6,592.2 489.0,593.1 489.4,595.1 489.8,598.2 490.2,601.8 490.6,605.7 491.0,609.2 491.4,612.0 491.8,613.1 492.2,611.6 492.6,608.5 493.0,604.7 493.4,600.7 493.8,597.0 494.2,593.9 494.6,591.9 495.0,591.2 495.4,591.9 495.8,593.9 496.2,597.0 496.6,600.7 497.0,604.7 497.4,608.5 497.8,611.6 498.2,613.1 498.6,611.9 499.0,609.0 499.4,605.2 499.8,601.2 500.2,597.4 500.6,594.2 501.0,592.1 501.4,591.2 501.8,591.7 502.2,593.6 502.6,596.5 503.0,600.2 503.4,604.3 503.8,608.1 504.2,611.3 504.6,613.0 505.0,612.2 505.4,609.5 505.8,605.9 506.2,602.0 506.6,598.2 507.0,595.0 507.4,592.8 507.8,591.7 508.2,592.1" fill="none" stroke="#e2607a" stroke-width="1.05" stroke-linejoin="round"/>
<polyline points="258.6,614.3 259.0,614.3 259.4,614.3 259.8,614.3 260.2,614.3 260.6,614.3 261.0,614.3 261.4,614.3 261.8,614.3 262.2,614.3 262.6,614.3 263.0,614.3 263.4,614.3 263.8,614.3 264.2,614.3 264.6,614.3 265.0,614.3 265.4,614.3 265.8,614.2 266.2,612.8 266.6,609.9 267.0,606.0 267.4,601.4 267.8,596.7 268.2,592.6 268.6,589.4 269.0,587.6 269.4,587.4 269.8,588.8 270.2,591.7 270.6,595.6 271.0,600.2 271.4,604.9 271.8,609.0 272.2,612.2 272.6,614.0 273.0,614.3 273.4,614.3 273.8,614.3 274.2,614.3 274.6,614.3 275.0,614.3 275.4,614.3 275.8,614.3 276.2,614.3 276.6,614.3 277.0,614.3 277.4,614.3 277.8,614.3 278.2,614.3 278.6,614.3 279.0,614.3 279.4,614.3 279.8,614.3 280.2,614.3 280.6,614.3 281.0,614.3 281.4,614.3 281.8,614.3 282.2,614.3 282.6,614.3 283.0,614.3 283.4,614.3 283.8,614.3 284.2,614.3 284.6,614.3 285.0,614.3 285.4,613.6 285.8,611.7 286.2,608.7 286.6,605.0 287.0,601.0 287.4,597.4 287.8,594.3 288.2,592.4 288.6,591.7 289.0,592.4 289.4,594.3 289.8,597.4 290.2,601.0 290.6,605.0 291.0,608.7 291.4,611.7 291.8,613.6 292.2,614.3 292.6,614.3 293.0,614.3 293.4,614.3 293.8,614.3 294.2,614.3 294.6,614.3 295.0,614.3 295.4,614.3 295.8,614.3 296.2,614.3 296.6,614.3 297.0,614.3 297.4,614.3 297.8,614.3 298.2,614.3 298.6,614.3 299.0,614.3 299.4,614.3 299.8,614.3 300.2,614.3 300.6,614.3 301.0,614.3 301.4,614.3 301.8,614.3 302.2,614.3 302.6,614.3 303.0,614.3 303.4,614.3 303.8,614.3 304.2,614.3 304.6,614.3 305.0,614.3 305.4,614.3 305.8,614.3 306.2,614.3 306.6,614.3 307.0,614.3 307.4,614.3 307.8,614.3 308.2,614.3 308.6,614.3 309.0,614.3 309.4,614.3 309.8,614.3 310.2,614.3 310.6,614.3 311.0,614.3 311.4,614.3 311.8,614.3 312.2,614.3 312.6,614.3 313.0,614.3 313.4,614.3 313.8,614.3 314.2,614.3 314.6,614.3 315.0,614.3 315.4,614.3 315.8,614.3 316.2,614.3 316.6,614.3 317.0,614.3 317.4,614.3 317.8,614.3 318.2,614.3 318.6,614.3 319.0,614.3 319.4,614.3 319.8,614.3 320.2,614.3 320.6,614.3 321.0,614.3 321.4,614.3 321.8,614.3 322.2,614.3 322.6,614.3 323.0,614.3 323.4,614.3 323.8,614.3 324.2,614.3 324.6,614.3 325.0,614.3 325.4,614.3 325.8,614.3 326.2,614.3 326.6,614.3 327.0,614.3 327.4,614.3 327.8,614.3 328.2,614.3 328.6,614.3 329.0,614.3 329.4,614.3 329.8,614.3 330.2,614.3 330.6,614.3 331.0,614.3 331.4,614.3 331.8,614.3 332.2,614.3 332.6,614.3 333.0,614.3 333.4,614.3 333.8,614.3 334.2,614.3 334.6,614.3 335.0,614.3 335.4,614.3 335.8,614.3 336.2,614.3 336.6,614.3 337.0,614.3 337.4,614.3 337.8,614.3 338.2,614.3 338.6,614.3 339.0,614.3 339.4,614.3 339.8,614.3 340.2,614.3 340.6,614.3 341.0,614.3 341.4,614.3 341.8,614.3 342.2,614.3 342.6,614.3 343.0,614.3 343.4,614.3 343.8,614.3 344.2,614.3 344.6,614.3 345.0,614.3 345.4,614.3 345.8,614.3 346.2,614.3 346.6,614.3 347.0,614.3 347.4,614.3 347.8,614.3 348.2,614.3 348.6,614.3 349.0,614.3 349.4,614.3 349.8,614.3 350.2,614.3 350.6,614.3 351.0,614.3 351.4,614.3 351.8,614.3 352.2,614.3 352.6,614.3 353.0,614.3 353.4,614.3 353.8,614.3 354.2,614.3 354.6,614.3 355.0,614.3 355.4,614.3 355.8,614.3 356.2,614.3 356.6,614.3 357.0,614.3 357.4,614.3 357.8,614.3 358.2,614.3 358.6,614.3 359.0,614.3 359.4,614.3 359.8,614.3 360.2,614.3 360.6,614.3 361.0,614.3 361.4,614.3 361.8,614.3 362.2,614.3 362.6,614.3 363.0,614.3 363.4,614.3 363.8,614.3 364.2,614.3 364.6,614.3 365.0,614.3 365.4,614.3 365.8,614.3 366.2,614.3 366.6,614.3 367.0,614.3 367.4,614.3 367.8,614.3 368.2,614.3 368.6,614.3 369.0,614.3 369.4,614.3 369.8,614.3 370.2,614.3 370.6,614.3 371.0,614.3 371.4,614.3 371.8,614.3 372.2,614.3 372.6,614.3 373.0,614.3 373.4,614.3 373.8,614.3 374.2,614.3 374.6,614.3 375.0,614.3 375.4,614.3 375.8,613.1 376.2,610.7 376.6,607.2 377.0,603.0 377.4,598.8 377.8,594.9 378.2,591.9 378.6,590.0 379.0,589.7 379.4,590.8 379.8,593.2 380.2,596.7 380.6,600.9 381.0,605.2 381.4,609.0 381.8,612.1 382.2,613.9 382.6,614.3 383.0,614.3 383.4,614.3 383.8,614.3 384.2,614.3 384.6,614.3 385.0,614.3 385.4,614.3 385.8,614.3 386.2,614.3 386.6,614.3 387.0,614.3 387.4,614.3 387.8,614.3 388.2,614.3 388.6,614.3 389.0,614.3 389.4,614.3 389.8,614.3 390.2,614.3 390.6,614.3 391.0,614.3 391.4,614.3 391.8,614.3 392.2,614.3 392.6,614.3 393.0,614.3 393.4,614.3 393.8,614.3 394.2,614.3 394.6,614.3 395.0,614.3 395.4,614.3 395.8,614.3 396.2,614.3 396.6,614.3 397.0,614.3 397.4,614.3 397.8,614.3 398.2,614.3 398.6,614.3 399.0,614.3 399.4,614.3 399.8,614.3 400.2,614.3 400.6,614.3 401.0,614.3 401.4,614.3 401.8,614.3 402.2,614.3 402.6,614.3 403.0,614.3 403.4,614.3 403.8,614.3 404.2,614.3 404.6,614.3 405.0,614.3 405.4,614.3 405.8,614.3 406.2,614.3 406.6,614.3 407.0,614.3 407.4,614.3 407.8,614.3 408.2,614.3 408.6,614.3 409.0,614.3 409.4,614.3 409.8,614.3 410.2,614.3 410.6,614.3 411.0,614.3 411.4,614.3 411.8,614.3 412.2,614.3 412.6,614.3 413.0,614.3 413.4,614.3 413.8,614.3 414.2,614.3 414.6,614.3 415.0,614.3 415.4,614.3 415.8,614.3 416.2,614.3 416.6,614.3 417.0,614.3 417.4,614.3 417.8,614.3 418.2,614.3 418.6,614.3 419.0,614.3 419.4,614.3 419.8,614.3 420.2,614.3 420.6,614.3 421.0,614.3 421.4,614.3 421.8,614.3 422.2,614.3 422.6,614.3 423.0,614.3 423.4,614.3 423.8,614.3 424.2,614.3 424.6,614.3 425.0,614.3 425.4,614.3 425.8,614.3 426.2,614.3 426.6,614.3 427.0,614.3 427.4,614.3 427.8,614.3 428.2,614.3 428.6,614.3 429.0,614.3 429.4,614.3 429.8,614.3 430.2,614.3 430.6,614.3 431.0,614.3 431.4,614.3 431.8,614.3 432.2,614.3 432.6,614.3 433.0,614.3 433.4,614.3 433.8,614.3 434.2,614.3 434.6,614.3 435.0,614.3 435.4,614.3 435.8,614.3 436.2,614.3 436.6,614.3 437.0,614.3 437.4,614.3 437.8,614.3 438.2,614.3 438.6,614.3 439.0,614.3 439.4,614.3 439.8,614.3 440.2,614.3 440.6,614.3 441.0,614.3 441.4,614.3 441.8,614.3 442.2,614.3 442.6,614.3 443.0,614.3 443.4,614.3 443.8,614.3 444.2,614.3 444.6,614.3 445.0,614.3 445.4,614.3 445.8,614.3 446.2,614.3 446.6,614.3 447.0,614.3 447.4,614.3 447.8,614.3 448.2,614.3 448.6,614.3 449.0,614.3 449.4,614.3 449.8,614.3 450.2,614.3 450.6,614.3 451.0,614.3 451.4,614.3 451.8,614.3 452.2,614.3 452.6,614.3 453.0,614.3 453.4,614.3 453.8,614.3 454.2,614.3 454.6,614.3 455.0,614.3 455.4,614.3 455.8,614.3 456.2,614.3 456.6,614.3 457.0,614.3 457.4,614.3 457.8,614.3 458.2,614.3 458.6,614.3 459.0,614.3 459.4,614.3 459.8,614.3 460.2,614.3 460.6,614.3 461.0,614.3 461.4,614.3 461.8,614.3 462.2,614.3 462.6,614.3 463.0,614.3 463.4,614.3 463.8,614.3 464.2,614.3 464.6,614.3 465.0,614.3 465.4,614.3 465.8,614.1 466.2,612.7 466.6,610.1 467.0,606.6 467.4,602.6 467.8,598.6 468.2,595.1 468.6,592.5 469.0,591.1 469.4,591.1 469.8,592.5 470.2,595.1 470.6,598.6 471.0,602.6 471.4,606.6 471.8,610.1 472.2,612.7 472.6,614.1 473.0,614.3 473.4,614.3 473.8,614.3 474.2,614.3 474.6,614.3 475.0,614.3 475.4,614.3 475.8,614.3 476.2,614.3 476.6,614.3 477.0,614.3 477.4,614.3 477.8,614.3 478.2,614.3 478.6,614.3 479.0,614.3 479.4,614.3 479.8,614.3 480.2,614.3 480.6,614.3 481.0,614.3 481.4,614.3 481.8,614.3 482.2,614.3 482.6,614.3 483.0,614.3 483.4,614.3 483.8,614.3 484.2,614.3 484.6,614.3 485.0,614.3 485.4,614.3 485.8,614.3 486.2,614.3 486.6,614.3 487.0,614.3 487.4,614.3 487.8,614.3 488.2,614.3 488.6,614.3 489.0,614.3 489.4,614.3 489.8,614.3 490.2,614.3 490.6,614.3 491.0,614.3 491.4,614.3 491.8,614.3 492.2,614.3 492.6,614.3 493.0,614.3 493.4,614.3 493.8,614.3 494.2,614.3 494.6,614.3 495.0,614.3 495.4,614.3 495.8,614.3 496.2,614.3 496.6,614.3 497.0,614.3 497.4,614.3 497.8,614.3 498.2,614.3 498.6,614.3 499.0,614.3 499.4,614.3 499.8,614.3 500.2,614.3 500.6,614.3 501.0,614.3 501.4,614.3 501.8,614.3 502.2,614.3 502.6,614.3 503.0,614.3 503.4,614.3 503.8,614.3 504.2,614.3 504.6,614.3 505.0,614.3 505.4,614.3 505.8,614.3 506.2,614.3 506.6,614.3 507.0,614.3 507.4,614.3 507.8,614.3 508.2,614.3" fill="none" stroke="#5858e0" stroke-width="1.05" stroke-linejoin="round"/>
<line x1="259.5" y1="614.4" x2="508.5" y2="614.4" stroke="#222" stroke-width="1.4" />
<line x1="257.7" y1="672" x2="257.7" y2="729" stroke="#aab" stroke-width="0.8" />
<text x="260.2" y="667.4" font-size="5.2" font-weight="bold" text-anchor="middle" fill="#4c4cd0" >C</text>
<text x="264.75" y="667.4" font-size="5.2" font-weight="bold" text-anchor="middle" fill="#484848" >G</text>
<text x="269.3" y="667.4" font-size="5.2" font-weight="bold" text-anchor="middle" fill="#58b858" >A</text>
<text x="273.85" y="667.4" font-size="5.2" font-weight="bold" text-anchor="middle" fill="#58b858" >A</text>
<text x="278.4" y="667.4" font-size="5.2" font-weight="bold" text-anchor="middle" fill="#484848" >G</text>
<text x="282.95" y="667.4" font-size="5.2" font-weight="bold" text-anchor="middle" fill="#d4505c" >T</text>
<text x="287.5" y="667.4" font-size="5.2" font-weight="bold" text-anchor="middle" fill="#58b858" >A</text>
<text x="292.05" y="667.4" font-size="5.2" font-weight="bold" text-anchor="middle" fill="#484848" >G</text>
<text x="296.6" y="667.4" font-size="5.2" font-weight="bold" text-anchor="middle" fill="#58b858" >A</text>
<text x="301.15" y="667.4" font-size="5.2" font-weight="bold" text-anchor="middle" fill="#484848" >G</text>
<text x="305.7" y="667.4" font-size="5.2" font-weight="bold" text-anchor="middle" fill="#58b858" >A</text>
<text x="310.25" y="667.4" font-size="5.2" font-weight="bold" text-anchor="middle" fill="#484848" >G</text>
<text x="314.8" y="667.4" font-size="5.2" font-weight="bold" text-anchor="middle" fill="#d4505c" >T</text>
<text x="319.35" y="667.4" font-size="5.2" font-weight="bold" text-anchor="middle" fill="#d4505c" >T</text>
<text x="323.9" y="667.4" font-size="5.2" font-weight="bold" text-anchor="middle" fill="#484848" >G</text>
<text x="328.45" y="667.4" font-size="5.2" font-weight="bold" text-anchor="middle" fill="#484848" >G</text>
<text x="333.0" y="667.4" font-size="5.2" font-weight="bold" text-anchor="middle" fill="#484848" >G</text>
<text x="337.55" y="667.4" font-size="5.2" font-weight="bold" text-anchor="middle" fill="#d4505c" >T</text>
<text x="342.1" y="667.4" font-size="5.2" font-weight="bold" text-anchor="middle" fill="#58b858" >A</text>
<text x="346.65" y="667.4" font-size="5.2" font-weight="bold" text-anchor="middle" fill="#484848" >G</text>
<text x="351.2" y="667.4" font-size="5.2" font-weight="bold" text-anchor="middle" fill="#58b858" >A</text>
<text x="355.75" y="667.4" font-size="5.2" font-weight="bold" text-anchor="middle" fill="#484848" >G</text>
<text x="360.3" y="667.4" font-size="5.2" font-weight="bold" text-anchor="middle" fill="#4c4cd0" >C</text>
<text x="364.85" y="667.4" font-size="5.2" font-weight="bold" text-anchor="middle" fill="#484848" >G</text>
<text x="369.4" y="667.4" font-size="5.2" font-weight="bold" text-anchor="middle" fill="#484848" >G</text>
<text x="373.95" y="667.4" font-size="5.2" font-weight="bold" text-anchor="middle" fill="#d4505c" >T</text>
<text x="378.5" y="667.4" font-size="5.2" font-weight="bold" text-anchor="middle" fill="#4c4cd0" >C</text>
<text x="383.05" y="667.4" font-size="5.2" font-weight="bold" text-anchor="middle" fill="#484848" >G</text>
<text x="387.6" y="667.4" font-size="5.2" font-weight="bold" text-anchor="middle" fill="#484848" >G</text>
<text x="392.15" y="667.4" font-size="5.2" font-weight="bold" text-anchor="middle" fill="#58b858" >A</text>
<text x="396.7" y="667.4" font-size="5.2" font-weight="bold" text-anchor="middle" fill="#484848" >G</text>
<text x="401.25" y="667.4" font-size="5.2" font-weight="bold" text-anchor="middle" fill="#4c4cd0" >C</text>
<text x="405.8" y="667.4" font-size="5.2" font-weight="bold" text-anchor="middle" fill="#484848" >G</text>
<text x="410.35" y="667.4" font-size="5.2" font-weight="bold" text-anchor="middle" fill="#d4505c" >T</text>
<text x="414.9" y="667.4" font-size="5.2" font-weight="bold" text-anchor="middle" fill="#d4505c" >T</text>
<text x="419.45" y="667.4" font-size="5.2" font-weight="bold" text-anchor="middle" fill="#d4505c" >T</text>
<text x="424.0" y="667.4" font-size="5.2" font-weight="bold" text-anchor="middle" fill="#484848" >G</text>
<text x="428.55" y="667.4" font-size="5.2" font-weight="bold" text-anchor="middle" fill="#484848" >G</text>
<text x="433.1" y="667.4" font-size="5.2" font-weight="bold" text-anchor="middle" fill="#58b858" >A</text>
<text x="437.65" y="667.4" font-size="5.2" font-weight="bold" text-anchor="middle" fill="#484848" >G</text>
<text x="442.2" y="667.4" font-size="5.2" font-weight="bold" text-anchor="middle" fill="#d4505c" >T</text>
<text x="446.75" y="667.4" font-size="5.2" font-weight="bold" text-anchor="middle" fill="#d4505c" >T</text>
<text x="451.3" y="667.4" font-size="5.2" font-weight="bold" text-anchor="middle" fill="#d4505c" >T</text>
<text x="455.85" y="667.4" font-size="5.2" font-weight="bold" text-anchor="middle" fill="#d4505c" >T</text>
<text x="460.4" y="667.4" font-size="5.2" font-weight="bold" text-anchor="middle" fill="#d4505c" >T</text>
<text x="464.95" y="667.4" font-size="5.2" font-weight="bold" text-anchor="middle" fill="#484848" >G</text>
<text x="469.5" y="667.4" font-size="5.2" font-weight="bold" text-anchor="middle" fill="#58b858" >A</text>
<text x="474.05" y="667.4" font-size="5.2" font-weight="bold" text-anchor="middle" fill="#4c4cd0" >C</text>
<text x="478.6" y="667.4" font-size="5.2" font-weight="bold" text-anchor="middle" fill="#484848" >G</text>
<text x="483.15" y="667.4" font-size="5.2" font-weight="bold" text-anchor="middle" fill="#d4505c" >T</text>
<text x="487.7" y="667.4" font-size="5.2" font-weight="bold" text-anchor="middle" fill="#4c4cd0" >C</text>
<text x="492.25" y="667.4" font-size="5.2" font-weight="bold" text-anchor="middle" fill="#484848" >G</text>
<text x="496.8" y="667.4" font-size="5.2" font-weight="bold" text-anchor="middle" fill="#58b858" >A</text>
<text x="501.35" y="667.4" font-size="5.2" font-weight="bold" text-anchor="middle" fill="#4c4cd0" >C</text>
<text x="505.9" y="667.4" font-size="5.2" font-weight="bold" text-anchor="middle" fill="#484848" >G</text>
<text x="510.45" y="667.4" font-size="5.2" font-weight="bold" text-anchor="middle" fill="#484848" >G</text>
<text x="515.0" y="667.4" font-size="5.2" font-weight="bold" text-anchor="middle" fill="#d4505c" >T</text>
<polyline points="256.0,728.2 256.4,728.2 256.8,728.2 257.2,728.2 257.6,728.2 258.0,728.2 258.4,728.2 258.8,728.2 259.2,728.2 259.6,728.2 260.0,728.2 260.4,728.2 260.8,728.2 261.2,728.2 261.6,728.2 262.0,728.2 262.4,728.2 262.8,728.2 263.2,728.2 263.6,728.2 264.0,728.2 264.4,728.2 264.8,728.2 265.2,728.2 265.6,728.2 266.0,728.2 266.4,728.2 266.8,727.4 267.2,723.2 267.6,716.2 268.0,707.8 268.4,699.6 268.8,693.5 269.2,690.7 269.6,691.6 270.0,696.2 270.4,703.5 270.8,712.0 271.2,719.9 271.6,722.9 272.0,719.4 272.4,711.6 272.8,703.4 273.2,696.6 273.6,692.6 274.0,692.1 274.4,695.3 274.8,701.5 275.2,709.5 275.6,717.6 276.0,724.1 276.4,727.7 276.8,728.2 277.2,728.2 277.6,728.2 278.0,728.2 278.4,728.2 278.8,728.2 279.2,728.2 279.6,728.2 280.0,728.2 280.4,728.2 280.8,728.2 281.2,728.2 281.6,728.2 282.0,728.2 282.4,728.2 282.8,728.2 283.2,728.2 283.6,728.2 284.0,728.2 284.4,728.2 284.8,728.2 285.2,726.2 285.6,721.4 286.0,714.8 286.4,707.8 286.8,701.8 287.2,697.9 287.6,697.1 288.0,699.5 288.4,704.6 288.8,711.3 289.2,718.3 289.6,724.1 290.0,727.6 290.4,728.2 290.8,728.2 291.2,728.2 291.6,728.2 292.0,728.2 292.4,728.2 292.8,728.2 293.2,728.2 293.6,728.2 294.0,728.0 294.4,725.0 294.8,719.3 295.2,712.1 295.6,704.7 296.0,698.7 296.4,695.4 296.8,695.4 297.2,698.7 297.6,704.7 298.0,712.1 298.4,719.3 298.8,725.0 299.2,728.0 299.6,728.2 300.0,728.2 300.4,728.2 300.8,728.2 301.2,728.2 301.6,728.2 302.0,728.2 302.4,728.2 302.8,728.2 303.2,727.3 303.6,722.2 304.0,713.7 304.4,703.5 304.8,693.7 305.2,686.4 305.6,682.9 306.0,684.1 306.4,689.6 306.8,698.4 307.2,708.7 307.6,718.3 308.0,725.3 308.4,728.2 308.8,728.2 309.2,728.2 309.6,728.2 310.0,728.2 310.4,728.2 310.8,728.2 311.2,728.2 311.6,728.2 312.0,728.2 312.4,728.2 312.8,728.2 313.2,728.2 313.6,728.2 314.0,728.2 314.4,728.2 314.8,728.2 315.2,728.2 315.6,728.2 316.0,728.2 316.4,728.2 316.8,728.2 317.2,728.2 317.6,728.2 318.0,728.2 318.4,728.2 318.8,728.2 319.2,728.2 319.6,728.2 320.0,728.2 320.4,728.2 320.8,728.2 321.2,728.2 321.6,728.2 322.0,728.2 322.4,728.2 322.8,728.2 323.2,728.2 323.6,728.2 324.0,728.2 324.4,728.2 324.8,728.2 325.2,728.2 325.6,728.2 326.0,728.2 326.4,728.2 326.8,728.2 327.2,728.2 327.6,728.2 328.0,728.2 328.4,728.2 328.8,728.2 329.2,728.2 329.6,728.2 330.0,728.2 330.4,728.2 330.8,728.2 331.2,728.2 331.6,728.2 332.0,728.2 332.4,728.2 332.8,728.2 333.2,728.2 333.6,728.2 334.0,728.2 334.4,728.2 334.8,728.2 335.2,728.2 335.6,728.2 336.0,728.2 336.4,728.2 336.8,728.2 337.2,728.2 337.6,728.2 338.0,728.2 338.4,728.2 338.8,728.2 339.2,728.2 339.6,727.5 340.0,723.8 340.4,717.4 340.8,709.9 341.2,702.6 341.6,697.1 342.0,694.5 342.4,695.4 342.8,699.6 343.2,706.1 343.6,713.7 344.0,720.8 344.4,726.0 344.8,728.2 345.2,728.2 345.6,728.2 346.0,728.2 346.4,728.2 346.8,728.2 347.2,728.2 347.6,728.2 348.0,728.2 348.4,728.2 348.8,726.8 349.2,721.9 349.6,714.6 350.0,706.4 350.4,698.9 350.8,693.7 351.2,691.8 351.6,693.7 352.0,698.9 352.4,706.4 352.8,714.6 353.2,721.9 353.6,726.8 354.0,728.2 354.4,728.2 354.8,728.2 355.2,728.2 355.6,728.2 356.0,728.2 356.4,728.2 356.8,728.2 357.2,728.2 357.6,728.2 358.0,728.2 358.4,728.2 358.8,728.2 359.2,728.2 359.6,728.2 360.0,728.2 360.4,728.2 360.8,728.2 361.2,728.2 361.6,728.2 362.0,728.2 362.4,728.2 362.8,728.2 363.2,728.2 363.6,728.2 364.0,728.2 364.4,728.2 364.8,728.2 365.2,728.2 365.6,728.2 366.0,728.2 366.4,728.2 366.8,728.2 367.2,728.2 367.6,728.2 368.0,728.2 368.4,728.2 368.8,728.2 369.2,728.2 369.6,728.2 370.0,728.2 370.4,728.2 370.8,728.2 371.2,728.2 371.6,728.2 372.0,728.2 372.4,728.2 372.8,728.2 373.2,728.2 373.6,728.2 374.0,728.2 374.4,728.2 374.8,728.2 375.2,728.2 375.6,728.2 376.0,728.2 376.4,728.2 376.8,728.2 377.2,728.2 377.6,728.2 378.0,728.2 378.4,728.2 378.8,728.2 379.2,728.2 379.6,728.2 380.0,728.2 380.4,728.2 380.8,728.2 381.2,728.2 381.6,728.2 382.0,728.2 382.4,728.2 382.8,728.2 383.2,728.2 383.6,728.2 384.0,728.2 384.4,728.2 384.8,728.2 385.2,728.2 385.6,728.2 386.0,728.2 386.4,728.2 386.8,728.2 387.2,728.2 387.6,728.2 388.0,728.2 388.4,728.2 388.8,728.2 389.2,728.2 389.6,727.7 390.0,724.1 390.4,717.6 390.8,709.5 391.2,701.5 391.6,695.3 392.0,692.1 392.4,692.6 392.8,696.6 393.2,703.4 393.6,711.6 394.0,719.4 394.4,725.3 394.8,728.1 395.2,728.2 395.6,728.2 396.0,728.2 396.4,728.2 396.8,728.2 397.2,728.2 397.6,728.2 398.0,728.2 398.4,728.2 398.8,728.2 399.2,728.2 399.6,728.2 400.0,728.2 400.4,728.2 400.8,728.2 401.2,728.2 401.6,728.2 402.0,728.2 402.4,728.2 402.8,728.2 403.2,728.2 403.6,728.2 404.0,728.2 404.4,728.2 404.8,728.2 405.2,728.2 405.6,728.2 406.0,728.2 406.4,728.2 406.8,728.2 407.2,728.2 407.6,728.2 408.0,728.2 408.4,728.2 408.8,728.2 409.2,728.2 409.6,728.2 410.0,728.2 410.4,728.2 410.8,728.2 411.2,728.2 411.6,728.2 412.0,728.2 412.4,728.2 412.8,728.2 413.2,728.2 413.6,728.2 414.0,728.2 414.4,728.2 414.8,728.2 415.2,728.2 415.6,728.2 416.0,728.2 416.4,728.2 416.8,728.2 417.2,728.2 417.6,728.2 418.0,728.2 418.4,728.2 418.8,728.2 419.2,728.2 419.6,728.2 420.0,728.2 420.4,728.2 420.8,728.2 421.2,728.2 421.6,728.2 422.0,728.2 422.4,728.2 422.8,728.2 423.2,728.2 423.6,728.2 424.0,728.2 424.4,728.2 424.8,728.2 425.2,728.2 425.6,728.2 426.0,728.2 426.4,728.2 426.8,728.2 427.2,728.2 427.6,728.2 428.0,728.2 428.4,728.2 428.8,728.2 429.2,728.2 429.6,728.2 430.0,728.2 430.4,728.2 430.8,725.8 431.2,720.0 431.6,712.0 432.0,703.5 432.4,696.2 432.8,691.6 433.2,690.7 433.6,693.5 434.0,699.6 434.4,707.8 434.8,716.2 435.2,723.2 435.6,727.4 436.0,728.2 436.4,728.2 436.8,728.2 437.2,728.2 437.6,728.2 438.0,728.2 438.4,728.2 438.8,728.2 439.2,728.2 439.6,728.2 440.0,728.2 440.4,728.2 440.8,728.2 441.2,728.2 441.6,728.2 442.0,728.2 442.4,728.2 442.8,728.2 443.2,728.2 443.6,728.2 444.0,728.2 444.4,728.2 444.8,728.2 445.2,728.2 445.6,728.2 446.0,728.2 446.4,728.2 446.8,728.2 447.2,728.2 447.6,728.2 448.0,728.2 448.4,728.2 448.8,728.2 449.2,728.2 449.6,728.2 450.0,728.2 450.4,728.2 450.8,728.2 451.2,728.2 451.6,728.2 452.0,728.2 452.4,728.2 452.8,728.2 453.2,728.2 453.6,728.2 454.0,728.2 454.4,728.2 454.8,728.2 455.2,728.2 455.6,728.2 456.0,728.2 456.4,728.2 456.8,728.2 457.2,728.2 457.6,728.2 458.0,728.2 458.4,728.2 458.8,728.2 459.2,728.2 459.6,728.2 460.0,728.2 460.4,728.2 460.8,728.2 461.2,728.2 461.6,728.2 462.0,728.2 462.4,728.2 462.8,728.2 463.2,728.2 463.6,728.2 464.0,728.2 464.4,728.2 464.8,728.2 465.2,728.2 465.6,728.2 466.0,728.2 466.4,728.2 466.8,728.2 467.2,726.6 467.6,722.8 468.0,717.6 468.4,712.0 468.8,707.3 469.2,704.2 469.6,703.6 470.0,705.5 470.4,709.5 470.8,714.8 471.2,720.3 471.6,725.0 472.0,727.7 472.4,728.2 472.8,728.2 473.2,728.2 473.6,728.2 474.0,728.2 474.4,728.2 474.8,728.2 475.2,728.2 475.6,728.2 476.0,728.2 476.4,728.2 476.8,728.2 477.2,728.2 477.6,728.2 478.0,728.2 478.4,728.2 478.8,728.2 479.2,728.2 479.6,728.2 480.0,728.2 480.4,728.2 480.8,728.2 481.2,728.2 481.6,728.2 482.0,728.2 482.4,728.2 482.8,728.2 483.2,728.2 483.6,728.2 484.0,728.2 484.4,728.2 484.8,728.2 485.2,728.2 485.6,728.2 486.0,728.2 486.4,728.2 486.8,728.2 487.2,728.2 487.6,728.2 488.0,728.2 488.4,728.2 488.8,728.2 489.2,728.2 489.6,728.2 490.0,728.2 490.4,728.2 490.8,728.2 491.2,728.2 491.6,728.2 492.0,728.2 492.4,728.2 492.8,728.2 493.2,728.2 493.6,728.2 494.0,728.2 494.4,727.4 494.8,724.7 495.2,720.6 495.6,716.1 496.0,711.9 496.4,709.0 496.8,707.9 497.2,709.0 497.6,711.9 498.0,716.1 498.4,720.6 498.8,724.7 499.2,727.4 499.6,728.2 500.0,728.2 500.4,728.2 500.8,728.2 501.2,728.2 501.6,728.2 502.0,728.2 502.4,728.2 502.8,728.2 503.2,728.2 503.6,728.2 504.0,728.2 504.4,728.2 504.8,728.2 505.2,728.2 505.6,728.2 506.0,728.2 506.4,728.2 506.8,728.2 507.2,728.2 507.6,728.2 508.0,728.2 508.4,728.2 508.8,728.2 509.2,728.2 509.6,728.2 510.0,728.2 510.4,728.2 510.8,728.2 511.2,728.2 511.6,728.2 512.0,728.2 512.4,728.2 512.8,728.2 513.2,728.2 513.6,728.2 514.0,728.2 514.4,728.2 514.8,728.2 515.2,728.2 515.6,728.2 516.0,728.2 516.4,728.2 516.8,728.2 517.2,728.2 517.6,728.2 518.0,728.2 518.4,728.2 518.8,728.2 519.2,728.2 519.6,728.2 520.0,728.2" fill="none" stroke="#68d068" stroke-width="1.05" stroke-linejoin="round"/>
<polyline points="256.0,728.2 256.4,728.2 256.8,728.2 257.2,728.2 257.6,728.2 258.0,728.2 258.4,728.2 258.8,728.2 259.2,728.2 259.6,728.2 260.0,728.2 260.4,728.2 260.8,728.2 261.2,728.2 261.6,728.2 262.0,728.2 262.4,726.6 262.8,722.0 263.2,715.5 263.6,708.3 264.0,702.0 264.4,697.8 264.8,696.5 265.2,698.6 265.6,703.4 266.0,710.1 266.4,717.3 266.8,723.4 267.2,727.3 267.6,728.2 268.0,728.2 268.4,728.2 268.8,728.2 269.2,728.2 269.6,728.2 270.0,728.2 270.4,728.2 270.8,728.2 271.2,728.2 271.6,728.2 272.0,728.2 272.4,728.2 272.8,728.2 273.2,728.2 273.6,728.2 274.0,728.2 274.4,728.2 274.8,728.2 275.2,728.2 275.6,728.2 276.0,727.0 276.4,723.0 276.8,717.1 277.2,710.3 277.6,704.1 278.0,699.9 278.4,698.3 278.8,699.9 279.2,704.1 279.6,710.3 280.0,717.1 280.4,723.0 280.8,727.0 281.2,728.2 281.6,728.2 282.0,728.2 282.4,728.2 282.8,728.2 283.2,728.2 283.6,728.2 284.0,728.2 284.4,728.2 284.8,728.2 285.2,728.2 285.6,728.2 286.0,728.2 286.4,728.2 286.8,728.2 287.2,728.2 287.6,728.2 288.0,728.2 288.4,728.2 288.8,728.2 289.2,728.2 289.6,727.3 290.0,723.3 290.4,717.0 290.8,709.7 291.2,702.8 291.6,697.8 292.0,695.8 292.4,697.0 292.8,701.3 293.2,707.8 293.6,715.2 294.0,721.9 294.4,726.5 294.8,728.2 295.2,728.2 295.6,728.2 296.0,728.2 296.4,728.2 296.8,728.2 297.2,728.2 297.6,728.2 298.0,728.2 298.4,728.2 298.8,726.4 299.2,721.5 299.6,714.5 300.0,706.7 300.4,699.8 300.8,695.3 301.2,693.9 301.6,696.1 302.0,701.4 302.4,708.6 302.8,716.4 303.2,723.0 303.6,727.2 304.0,728.2 304.4,728.2 304.8,728.2 305.2,728.2 305.6,728.2 306.0,728.2 306.4,728.2 306.8,728.2 307.2,728.2 307.6,728.1 308.0,726.3 308.4,722.4 308.8,717.3 309.2,711.9 309.6,707.4 310.0,704.8 310.4,704.5 310.8,706.6 311.2,710.7 311.6,715.9 312.0,721.2 312.4,725.5 312.8,727.9 313.2,728.2 313.6,728.2 314.0,728.2 314.4,728.2 314.8,728.2 315.2,728.2 315.6,728.2 316.0,728.2 316.4,728.2 316.8,728.2 317.2,728.2 317.6,728.2 318.0,728.2 318.4,728.2 318.8,728.2 319.2,728.2 319.6,728.2 320.0,728.2 320.4,728.2 320.8,728.2 321.2,728.2 321.6,726.3 322.0,721.9 322.4,715.7 322.8,709.2 323.2,703.5 323.6,700.0 324.0,699.2 324.4,701.4 324.8,706.1 325.2,712.4 325.6,718.9 326.0,723.4 326.4,722.8 326.8,717.2 327.2,710.0 327.6,703.2 328.0,698.3 328.4,696.3 328.8,697.5 329.2,701.8 329.6,708.2 330.0,715.4 330.4,721.8 330.8,723.7 331.2,720.2 331.6,713.7 332.0,707.1 332.4,701.7 332.8,698.7 333.2,698.7 333.6,701.7 334.0,707.1 334.4,713.7 334.8,720.2 335.2,725.3 335.6,728.0 336.0,728.2 336.4,728.2 336.8,728.2 337.2,728.2 337.6,728.2 338.0,728.2 338.4,728.2 338.8,728.2 339.2,728.2 339.6,728.2 340.0,728.2 340.4,728.2 340.8,728.2 341.2,728.2 341.6,728.2 342.0,728.2 342.4,728.2 342.8,728.2 343.2,728.2 343.6,728.2 344.0,728.1 344.4,725.1 344.8,718.7 345.2,710.1 345.6,701.3 346.0,693.9 346.4,689.5 346.8,689.0 347.2,692.5 347.6,699.2 348.0,707.9 348.4,716.7 348.8,723.7 349.2,727.7 349.6,728.2 350.0,728.2 350.4,728.2 350.8,728.2 351.2,728.2 351.6,728.2 352.0,728.2 352.4,728.2 352.8,728.2 353.2,727.9 353.6,725.4 354.0,721.0 354.4,715.5 354.8,710.1 355.2,705.9 355.6,703.7 356.0,704.0 356.4,706.8 356.8,711.4 357.2,716.9 357.6,722.2 358.0,726.2 358.4,728.1 358.8,728.2 359.2,728.2 359.6,728.2 360.0,728.2 360.4,728.2 360.8,728.2 361.2,728.2 361.6,728.2 362.0,728.2 362.4,727.3 362.8,723.7 363.2,717.9 363.6,711.1 364.0,704.8 364.4,700.3 364.8,698.4 365.2,699.5 365.6,703.5 366.0,709.5 366.4,716.2 366.8,722.2 367.2,723.6 367.6,719.7 368.0,712.8 368.4,705.8 368.8,700.1 369.2,696.9 369.6,696.9 370.0,700.1 370.4,705.8 370.8,712.8 371.2,719.7 371.6,725.2 372.0,728.0 372.4,728.2 372.8,728.2 373.2,728.2 373.6,728.2 374.0,728.2 374.4,728.2 374.8,728.2 375.2,728.2 375.6,728.2 376.0,728.2 376.4,728.2 376.8,728.2 377.2,728.2 377.6,728.2 378.0,728.2 378.4,728.2 378.8,728.2 379.2,728.2 379.6,728.2 380.0,728.2 380.4,728.1 380.8,725.5 381.2,720.0 381.6,712.8 382.0,705.2 382.4,698.9 382.8,695.1 383.2,694.7 383.6,697.7 384.0,703.4 384.4,710.8 384.8,718.3 385.2,723.1 385.6,722.0 386.0,715.8 386.4,708.3 386.8,701.4 387.2,696.7 387.6,695.0 388.0,696.7 388.4,701.4 388.8,708.3 389.2,715.8 389.6,722.5 390.0,726.9 390.4,728.2 390.8,728.2 391.2,728.2 391.6,728.2 392.0,728.2 392.4,728.2 392.8,728.2 393.2,728.2 393.6,728.2 394.0,728.2 394.4,726.2 394.8,721.5 395.2,715.1 395.6,708.1 396.0,702.2 396.4,698.4 396.8,697.7 397.2,700.0 397.6,705.0 398.0,711.6 398.4,718.4 398.8,724.2 399.2,727.6 399.6,728.2 400.0,728.2 400.4,728.2 400.8,728.2 401.2,728.2 401.6,728.2 402.0,728.2 402.4,728.2 402.8,728.2 403.2,728.0 403.6,726.0 404.0,722.0 404.4,716.8 404.8,711.7 405.2,707.5 405.6,705.1 406.0,705.1 406.4,707.5 406.8,711.7 407.2,716.8 407.6,722.0 408.0,726.0 408.4,728.0 408.8,728.2 409.2,728.2 409.6,728.2 410.0,728.2 410.4,728.2 410.8,728.2 411.2,728.2 411.6,728.2 412.0,728.2 412.4,728.2 412.8,728.2 413.2,728.2 413.6,728.2 414.0,728.2 414.4,728.2 414.8,728.2 415.2,728.2 415.6,728.2 416.0,728.2 416.4,728.2 416.8,728.2 417.2,728.2 417.6,728.2 418.0,728.2 418.4,728.2 418.8,728.2 419.2,728.2 419.6,728.2 420.0,728.2 420.4,728.2 420.8,728.2 421.2,728.2 421.6,726.9 422.0,722.5 422.4,715.8 422.8,708.3 423.2,701.4 423.6,696.7 424.0,695.0 424.4,696.7 424.8,701.4 425.2,708.3 425.6,715.8 426.0,722.0 426.4,723.2 426.8,718.7 427.2,711.5 427.6,704.4 428.0,698.8 428.4,696.0 428.8,696.4 429.2,700.0 429.6,706.1 430.0,713.4 430.4,720.3 430.8,725.6 431.2,728.1 431.6,728.2 432.0,728.2 432.4,728.2 432.8,728.2 433.2,728.2 433.6,728.2 434.0,728.2 434.4,728.2 434.8,728.2 435.2,727.4 435.6,724.1 436.0,718.8 436.4,712.6 436.8,706.9 437.2,702.7 437.6,700.9 438.0,702.0 438.4,705.6 438.8,711.1 439.2,717.3 439.6,722.9 440.0,726.8 440.4,728.2 440.8,728.2 441.2,728.2 441.6,728.2 442.0,728.2 442.4,728.2 442.8,728.2 443.2,728.2 443.6,728.2 444.0,728.2 444.4,728.2 444.8,728.2 445.2,728.2 445.6,728.2 446.0,728.2 446.4,728.2 446.8,728.2 447.2,728.2 447.6,728.2 448.0,728.2 448.4,728.2 448.8,728.2 449.2,728.2 449.6,728.2 450.0,728.2 450.4,728.2 450.8,728.2 451.2,728.2 451.6,728.2 452.0,728.2 452.4,728.2 452.8,728.2 453.2,728.2 453.6,728.2 454.0,728.2 454.4,728.2 454.8,728.2 455.2,728.2 455.6,728.2 456.0,728.2 456.4,728.2 456.8,728.2 457.2,728.2 457.6,728.2 458.0,728.2 458.4,728.2 458.8,728.2 459.2,728.2 459.6,728.2 460.0,728.2 460.4,728.2 460.8,728.2 461.2,728.2 461.6,728.2 462.0,728.2 462.4,727.8 462.8,724.9 463.2,719.7 463.6,713.2 464.0,706.9 464.4,701.9 464.8,699.3 465.2,699.7 465.6,702.9 466.0,708.4 466.4,714.9 466.8,721.2 467.2,725.9 467.6,728.1 468.0,728.2 468.4,728.2 468.8,728.2 469.2,728.2 469.6,728.2 470.0,728.2 470.4,728.2 470.8,728.2 471.2,728.2 471.6,728.2 472.0,728.2 472.4,728.2 472.8,728.2 473.2,728.2 473.6,728.2 474.0,728.2 474.4,728.2 474.8,728.2 475.2,728.2 475.6,728.2 476.0,728.0 476.4,725.5 476.8,720.7 477.2,714.6 477.6,708.3 478.0,703.3 478.4,700.5 478.8,700.5 479.2,703.3 479.6,708.3 480.0,714.6 480.4,720.7 480.8,725.5 481.2,728.0 481.6,728.2 482.0,728.2 482.4,728.2 482.8,728.2 483.2,728.2 483.6,728.2 484.0,728.2 484.4,728.2 484.8,728.2 485.2,728.2 485.6,728.2 486.0,728.2 486.4,728.2 486.8,728.2 487.2,728.2 487.6,728.2 488.0,728.2 488.4,728.2 488.8,728.2 489.2,728.2 489.6,728.1 490.0,725.7 490.4,720.5 490.8,713.7 491.2,706.6 491.6,700.7 492.0,697.2 492.4,696.7 492.8,699.5 493.2,705.0 493.6,711.9 494.0,718.9 494.4,724.6 494.8,727.8 495.2,728.2 495.6,728.2 496.0,728.2 496.4,728.2 496.8,728.2 497.2,728.2 497.6,728.2 498.0,728.2 498.4,728.2 498.8,728.2 499.2,728.2 499.6,728.2 500.0,728.2 500.4,728.2 500.8,728.2 501.2,728.2 501.6,728.2 502.0,728.2 502.4,728.2 502.8,728.2 503.2,728.2 503.6,726.0 504.0,720.8 504.4,713.7 504.8,706.1 505.2,699.6 505.6,695.4 506.0,694.5 506.4,697.1 506.8,702.6 507.2,709.9 507.6,717.4 508.0,723.0 508.4,723.5 508.8,719.0 509.2,713.1 509.6,707.5 510.0,703.4 510.4,701.7 510.8,702.8 511.2,706.3 511.6,711.6 512.0,717.6 512.4,723.0 512.8,726.8 513.2,728.2 513.6,728.2 514.0,728.2 514.4,728.2 514.8,728.2 515.2,728.2 515.6,728.2 516.0,728.2 516.4,728.2 516.8,728.2 517.2,728.2 517.6,728.2 518.0,728.2 518.4,728.2 518.8,728.2 519.2,728.2 519.6,728.2 520.0,728.2" fill="none" stroke="#404040" stroke-width="1.05" stroke-linejoin="round"/>
<polyline points="256.0,728.2 256.4,728.2 256.8,728.2 257.2,728.2 257.6,728.2 258.0,728.2 258.4,728.2 258.8,728.2 259.2,728.2 259.6,728.2 260.0,728.2 260.4,728.2 260.8,728.2 261.2,728.2 261.6,728.2 262.0,728.2 262.4,728.2 262.8,728.2 263.2,728.2 263.6,728.2 264.0,728.2 264.4,728.2 264.8,728.2 265.2,728.2 265.6,728.2 266.0,728.2 266.4,728.2 266.8,728.2 267.2,728.2 267.6,728.2 268.0,728.2 268.4,728.2 268.8,728.2 269.2,728.2 269.6,728.2 270.0,728.2 270.4,728.2 270.8,728.2 271.2,728.2 271.6,728.2 272.0,728.2 272.4,728.2 272.8,728.2 273.2,728.2 273.6,728.2 274.0,728.2 274.4,728.2 274.8,728.2 275.2,728.2 275.6,728.2 276.0,728.2 276.4,728.2 276.8,728.2 277.2,728.2 277.6,728.2 278.0,728.2 278.4,728.2 278.8,728.2 279.2,728.2 279.6,728.2 280.0,728.2 280.4,727.8 280.8,724.3 281.2,718.2 281.6,710.6 282.0,703.1 282.4,697.2 282.8,694.2 283.2,694.6 283.6,698.4 284.0,704.8 284.4,712.5 284.8,719.9 285.2,725.5 285.6,728.1 286.0,728.2 286.4,728.2 286.8,728.2 287.2,728.2 287.6,728.2 288.0,728.2 288.4,728.2 288.8,728.2 289.2,728.2 289.6,728.2 290.0,728.2 290.4,728.2 290.8,728.2 291.2,728.2 291.6,728.2 292.0,728.2 292.4,728.2 292.8,728.2 293.2,728.2 293.6,728.2 294.0,728.2 294.4,728.2 294.8,728.2 295.2,728.2 295.6,728.2 296.0,728.2 296.4,728.2 296.8,728.2 297.2,728.2 297.6,728.2 298.0,728.2 298.4,728.2 298.8,728.2 299.2,728.2 299.6,728.2 300.0,728.2 300.4,728.2 300.8,728.2 301.2,728.2 301.6,728.2 302.0,728.2 302.4,728.2 302.8,728.2 303.2,728.2 303.6,728.2 304.0,728.2 304.4,728.2 304.8,728.2 305.2,728.2 305.6,728.2 306.0,728.2 306.4,728.2 306.8,728.2 307.2,728.2 307.6,728.2 308.0,728.2 308.4,728.2 308.8,728.2 309.2,728.2 309.6,728.2 310.0,728.2 310.4,728.2 310.8,728.2 311.2,728.2 311.6,728.2 312.0,728.2 312.4,727.1 312.8,723.5 313.2,718.0 313.6,711.9 314.0,706.2 314.4,702.3 314.8,700.9 315.2,702.3 315.6,706.2 316.0,711.9 316.4,718.0 316.8,723.2 317.2,724.2 317.6,720.6 318.0,714.8 318.4,709.2 318.8,704.7 319.2,702.4 319.6,702.8 320.0,705.6 320.4,710.5 320.8,716.3 321.2,721.9 321.6,726.1 322.0,728.1 322.4,728.2 322.8,728.2 323.2,728.2 323.6,728.2 324.0,728.2 324.4,728.2 324.8,728.2 325.2,728.2 325.6,728.2 326.0,728.2 326.4,728.2 326.8,728.2 327.2,728.2 327.6,728.2 328.0,728.2 328.4,728.2 328.8,728.2 329.2,728.2 329.6,728.2 330.0,728.2 330.4,728.2 330.8,728.2 331.2,728.2 331.6,728.2 332.0,728.2 332.4,728.2 332.8,728.2 333.2,728.2 333.6,728.2 334.0,728.2 334.4,728.2 334.8,728.2 335.2,726.5 335.6,721.7 336.0,714.9 336.4,707.4 336.8,700.7 337.2,696.3 337.6,695.0 338.0,697.1 338.4,702.2 338.8,709.2 339.2,716.7 339.6,723.2 340.0,727.2 340.4,728.2 340.8,728.2 341.2,728.2 341.6,728.2 342.0,728.2 342.4,728.2 342.8,728.2 343.2,728.2 343.6,728.2 344.0,728.2 344.4,728.2 344.8,728.2 345.2,728.2 345.6,728.2 346.0,728.2 346.4,728.2 346.8,728.2 347.2,728.2 347.6,728.2 348.0,728.2 348.4,728.2 348.8,728.2 349.2,728.2 349.6,728.2 350.0,728.2 350.4,728.2 350.8,728.2 351.2,728.2 351.6,728.2 352.0,728.2 352.4,728.2 352.8,728.2 353.2,728.2 353.6,728.2 354.0,728.2 354.4,728.2 354.8,728.2 355.2,728.2 355.6,728.2 356.0,728.2 356.4,728.2 356.8,728.2 357.2,728.2 357.6,728.2 358.0,728.2 358.4,728.2 358.8,728.2 359.2,728.2 359.6,728.2 360.0,728.2 360.4,728.2 360.8,728.2 361.2,728.2 361.6,728.2 362.0,728.2 362.4,728.2 362.8,728.2 363.2,728.2 363.6,728.2 364.0,728.2 364.4,728.2 364.8,728.2 365.2,728.2 365.6,728.2 366.0,728.2 366.4,728.2 366.8,728.2 367.2,728.2 367.6,728.2 368.0,728.2 368.4,728.2 368.8,728.2 369.2,728.2 369.6,728.2 370.0,728.2 370.4,728.2 370.8,728.2 371.2,728.2 371.6,725.7 372.0,718.8 372.4,708.9 372.8,698.1 373.2,688.4 373.6,682.0 374.0,680.2 374.4,683.3 374.8,690.6 375.2,700.8 375.6,711.6 376.0,720.9 376.4,726.8 376.8,728.2 377.2,728.2 377.6,728.2 378.0,728.2 378.4,728.2 378.8,728.2 379.2,728.2 379.6,728.2 380.0,728.2 380.4,728.2 380.8,728.2 381.2,728.2 381.6,728.2 382.0,728.2 382.4,728.2 382.8,728.2 383.2,728.2 383.6,728.2 384.0,728.2 384.4,728.2 384.8,728.2 385.2,728.2 385.6,728.2 386.0,728.2 386.4,728.2 386.8,728.2 387.2,728.2 387.6,728.2 388.0,728.2 388.4,728.2 388.8,728.2 389.2,728.2 389.6,728.2 390.0,728.2 390.4,728.2 390.8,728.2 391.2,728.2 391.6,728.2 392.0,728.2 392.4,728.2 392.8,728.2 393.2,728.2 393.6,728.2 394.0,728.2 394.4,728.2 394.8,728.2 395.2,728.2 395.6,728.2 396.0,728.2 396.4,728.2 396.8,728.2 397.2,728.2 397.6,728.2 398.0,728.2 398.4,728.2 398.8,728.2 399.2,728.2 399.6,728.2 400.0,728.2 400.4,728.2 400.8,728.2 401.2,728.2 401.6,728.2 402.0,728.2 402.4,728.2 402.8,728.2 403.2,728.2 403.6,728.2 404.0,728.2 404.4,728.2 404.8,728.2 405.2,728.2 405.6,728.2 406.0,728.2 406.4,728.2 406.8,728.2 407.2,728.2 407.6,728.2 408.0,726.5 408.4,721.7 408.8,714.9 409.2,707.4 409.6,700.7 410.0,696.3 410.4,695.0 410.8,697.1 411.2,702.2 411.6,709.2 412.0,716.7 412.4,722.6 412.8,723.4 413.2,718.9 413.6,712.4 414.0,706.1 414.4,701.4 414.8,699.2 415.2,700.0 415.6,703.5 416.0,709.2 416.4,715.7 416.8,721.8 417.2,724.6 417.6,722.8 418.0,718.1 418.4,713.2 418.8,709.0 419.2,706.6 419.6,706.3 420.0,708.2 420.4,712.0 420.8,716.8 421.2,721.7 421.6,725.7 422.0,727.9 422.4,728.2 422.8,728.2 423.2,728.2 423.6,728.2 424.0,728.2 424.4,728.2 424.8,728.2 425.2,728.2 425.6,728.2 426.0,728.2 426.4,728.2 426.8,728.2 427.2,728.2 427.6,728.2 428.0,728.2 428.4,728.2 428.8,728.2 429.2,728.2 429.6,728.2 430.0,728.2 430.4,728.2 430.8,728.2 431.2,728.2 431.6,728.2 432.0,728.2 432.4,728.2 432.8,728.2 433.2,728.2 433.6,728.2 434.0,728.2 434.4,728.2 434.8,728.2 435.2,728.2 435.6,728.2 436.0,728.2 436.4,728.2 436.8,728.2 437.2,728.2 437.6,728.2 438.0,728.2 438.4,728.2 438.8,728.2 439.2,728.2 439.6,728.0 440.0,725.1 440.4,719.5 440.8,712.4 441.2,705.2 441.6,699.4 442.0,696.2 442.4,696.2 442.8,699.4 443.2,705.2 443.6,712.4 444.0,719.5 444.4,723.8 444.8,723.1 445.2,718.1 445.6,712.4 446.0,707.4 446.4,704.0 446.8,703.0 447.2,704.6 447.6,708.5 448.0,713.8 448.4,719.5 448.8,723.8 449.2,723.4 449.6,718.3 450.0,711.3 450.4,704.6 450.8,699.5 451.2,697.1 451.6,697.9 452.0,701.8 452.4,707.8 452.8,714.8 453.2,721.3 453.6,723.7 454.0,720.5 454.4,713.7 454.8,706.6 455.2,700.7 455.6,697.2 456.0,696.7 456.4,699.5 456.8,705.0 457.2,711.9 457.6,718.9 458.0,723.9 458.4,724.4 458.8,720.9 459.2,716.5 459.6,712.5 460.0,709.7 460.4,708.7 460.8,709.7 461.2,712.5 461.6,716.5 462.0,720.9 462.4,724.8 462.8,727.4 463.2,728.2 463.6,728.2 464.0,728.2 464.4,728.2 464.8,728.2 465.2,728.2 465.6,728.2 466.0,728.2 466.4,728.2 466.8,728.2 467.2,728.2 467.6,728.2 468.0,728.2 468.4,728.2 468.8,728.2 469.2,728.2 469.6,728.2 470.0,728.2 470.4,728.2 470.8,728.2 471.2,728.2 471.6,728.2 472.0,728.2 472.4,728.2 472.8,728.2 473.2,728.2 473.6,728.2 474.0,728.2 474.4,728.2 474.8,728.2 475.2,728.2 475.6,728.2 476.0,728.2 476.4,728.2 476.8,728.2 477.2,728.2 477.6,728.2 478.0,728.2 478.4,728.2 478.8,728.2 479.2,728.2 479.6,728.2 480.0,728.2 480.4,728.2 480.8,725.6 481.2,718.3 481.6,707.9 482.0,696.4 482.4,686.3 482.8,679.5 483.2,677.6 483.6,680.8 484.0,688.6 484.4,699.3 484.8,710.7 485.2,720.5 485.6,726.7 486.0,728.2 486.4,728.2 486.8,728.2 487.2,728.2 487.6,728.2 488.0,728.2 488.4,728.2 488.8,728.2 489.2,728.2 489.6,728.2 490.0,728.2 490.4,728.2 490.8,728.2 491.2,728.2 491.6,728.2 492.0,728.2 492.4,728.2 492.8,728.2 493.2,728.2 493.6,728.2 494.0,728.2 494.4,728.2 494.8,728.2 495.2,728.2 495.6,728.2 496.0,728.2 496.4,728.2 496.8,728.2 497.2,728.2 497.6,728.2 498.0,728.2 498.4,728.2 498.8,728.2 499.2,728.2 499.6,728.2 500.0,728.2 500.4,728.2 500.8,728.2 501.2,728.2 501.6,728.2 502.0,728.2 502.4,728.2 502.8,728.2 503.2,728.2 503.6,728.2 504.0,728.2 504.4,728.2 504.8,728.2 505.2,728.2 505.6,728.2 506.0,728.2 506.4,728.2 506.8,728.2 507.2,728.2 507.6,728.2 508.0,728.2 508.4,728.2 508.8,728.2 509.2,728.2 509.6,728.2 510.0,728.2 510.4,728.2 510.8,728.2 511.2,728.2 511.6,728.2 512.0,728.2 512.4,727.9 512.8,724.7 513.2,718.5 513.6,710.5 514.0,702.5 514.4,695.9 514.8,692.3 515.2,692.3 515.6,695.9 516.0,702.5 516.4,710.5 516.8,718.5 517.2,724.7 517.6,727.9 518.0,728.2 518.4,728.2 518.8,728.2 519.2,728.2 519.6,728.2 520.0,728.2" fill="none" stroke="#e2607a" stroke-width="1.05" stroke-linejoin="round"/>
<polyline points="256.0,728.2 256.4,728.2 256.8,728.2 257.2,728.2 257.6,728.0 258.0,725.8 258.4,721.6 258.8,716.2 259.2,710.7 259.6,706.3 260.0,703.8 260.4,703.8 260.8,706.3 261.2,710.7 261.6,716.2 262.0,721.6 262.4,725.8 262.8,728.0 263.2,728.2 263.6,728.2 264.0,728.2 264.4,728.2 264.8,728.2 265.2,728.2 265.6,728.2 266.0,728.2 266.4,728.2 266.8,728.2 267.2,728.2 267.6,728.2 268.0,728.2 268.4,728.2 268.8,728.2 269.2,728.2 269.6,728.2 270.0,728.2 270.4,728.2 270.8,728.2 271.2,728.2 271.6,728.2 272.0,728.2 272.4,728.2 272.8,728.2 273.2,728.2 273.6,728.2 274.0,728.2 274.4,728.2 274.8,728.2 275.2,728.2 275.6,728.2 276.0,728.2 276.4,728.2 276.8,728.2 277.2,728.2 277.6,728.2 278.0,728.2 278.4,728.2 278.8,728.2 279.2,728.2 279.6,728.2 280.0,728.2 280.4,728.2 280.8,728.2 281.2,728.2 281.6,728.2 282.0,728.2 282.4,728.2 282.8,728.2 283.2,728.2 283.6,728.2 284.0,728.2 284.4,728.2 284.8,728.2 285.2,728.2 285.6,728.2 286.0,728.2 286.4,728.2 286.8,728.2 287.2,728.2 287.6,728.2 288.0,728.2 288.4,728.2 288.8,728.2 289.2,728.2 289.6,728.2 290.0,728.2 290.4,728.2 290.8,728.2 291.2,728.2 291.6,728.2 292.0,728.2 292.4,728.2 292.8,728.2 293.2,728.2 293.6,728.2 294.0,728.2 294.4,728.2 294.8,728.2 295.2,728.2 295.6,728.2 296.0,728.2 296.4,728.2 296.8,728.2 297.2,728.2 297.6,728.2 298.0,728.2 298.4,728.2 298.8,728.2 299.2,728.2 299.6,728.2 300.0,728.2 300.4,728.2 300.8,728.2 301.2,728.2 301.6,728.2 302.0,728.2 302.4,728.2 302.8,728.2 303.2,728.2 303.6,728.2 304.0,728.2 304.4,728.2 304.8,728.2 305.2,728.2 305.6,728.2 306.0,728.2 306.4,728.2 306.8,728.2 307.2,728.2 307.6,728.2 308.0,728.2 308.4,728.2 308.8,728.2 309.2,728.2 309.6,728.2 310.0,728.2 310.4,728.2 310.8,728.2 311.2,728.2 311.6,728.2 312.0,728.2 312.4,728.2 312.8,728.2 313.2,728.2 313.6,728.2 314.0,728.2 314.4,728.2 314.8,728.2 315.2,728.2 315.6,728.2 316.0,728.2 316.4,728.2 316.8,728.2 317.2,728.2 317.6,728.2 318.0,728.2 318.4,728.2 318.8,728.2 319.2,728.2 319.6,728.2 320.0,728.2 320.4,728.2 320.8,728.2 321.2,728.2 321.6,728.2 322.0,728.2 322.4,728.2 322.8,728.2 323.2,728.2 323.6,728.2 324.0,728.2 324.4,728.2 324.8,728.2 325.2,728.2 325.6,728.2 326.0,728.2 326.4,728.2 326.8,728.2 327.2,728.2 327.6,728.2 328.0,728.2 328.4,728.2 328.8,728.2 329.2,728.2 329.6,728.2 330.0,728.2 330.4,728.2 330.8,728.2 331.2,728.2 331.6,728.2 332.0,728.2 332.4,728.2 332.8,728.2 333.2,728.2 333.6,728.2 334.0,728.2 334.4,728.2 334.8,728.2 335.2,728.2 335.6,728.2 336.0,728.2 336.4,728.2 336.8,728.2 337.2,728.2 337.6,728.2 338.0,728.2 338.4,728.2 338.8,728.2 339.2,728.2 339.6,728.2 340.0,728.2 340.4,728.2 340.8,728.2 341.2,728.2 341.6,728.2 342.0,728.2 342.4,728.2 342.8,728.2 343.2,728.2 343.6,728.2 344.0,728.2 344.4,728.2 344.8,728.2 345.2,728.2 345.6,728.2 346.0,728.2 346.4,728.2 346.8,728.2 347.2,728.2 347.6,728.2 348.0,728.2 348.4,728.2 348.8,728.2 349.2,728.2 349.6,728.2 350.0,728.2 350.4,728.2 350.8,728.2 351.2,728.2 351.6,728.2 352.0,728.2 352.4,728.2 352.8,728.2 353.2,728.2 353.6,728.2 354.0,728.2 354.4,728.2 354.8,728.2 355.2,728.2 355.6,728.2 356.0,728.2 356.4,728.2 356.8,728.2 357.2,728.2 357.6,728.2 358.0,724.5 358.4,715.6 358.8,703.5 359.2,690.5 359.6,679.3 360.0,672.2 360.4,670.7 360.8,675.1 361.2,684.5 361.6,696.9 362.0,709.8 362.4,720.6 362.8,727.0 363.2,728.2 363.6,728.2 364.0,728.2 364.4,728.2 364.8,728.2 365.2,728.2 365.6,728.2 366.0,728.2 366.4,728.2 366.8,728.2 367.2,728.2 367.6,728.2 368.0,728.2 368.4,728.2 368.8,728.2 369.2,728.2 369.6,728.2 370.0,728.2 370.4,728.2 370.8,728.2 371.2,728.2 371.6,728.2 372.0,728.2 372.4,728.2 372.8,728.2 373.2,728.2 373.6,728.2 374.0,728.2 374.4,728.2 374.8,728.2 375.2,728.2 375.6,728.2 376.0,727.5 376.4,723.8 376.8,717.4 377.2,709.9 377.6,702.6 378.0,697.1 378.4,694.5 378.8,695.4 379.2,699.6 379.6,706.1 380.0,713.7 380.4,720.8 380.8,726.0 381.2,728.2 381.6,728.2 382.0,728.2 382.4,728.2 382.8,728.2 383.2,728.2 383.6,728.2 384.0,728.2 384.4,728.2 384.8,728.2 385.2,728.2 385.6,728.2 386.0,728.2 386.4,728.2 386.8,728.2 387.2,728.2 387.6,728.2 388.0,728.2 388.4,728.2 388.8,728.2 389.2,728.2 389.6,728.2 390.0,728.2 390.4,728.2 390.8,728.2 391.2,728.2 391.6,728.2 392.0,728.2 392.4,728.2 392.8,728.2 393.2,728.2 393.6,728.2 394.0,728.2 394.4,728.2 394.8,728.2 395.2,728.2 395.6,728.2 396.0,728.2 396.4,728.2 396.8,728.2 397.2,728.2 397.6,728.2 398.0,728.2 398.4,728.2 398.8,726.8 399.2,721.0 399.6,711.9 400.0,701.2 400.4,691.2 400.8,684.0 401.2,681.0 401.6,682.8 402.0,689.1 402.4,698.6 402.8,709.3 403.2,719.0 403.6,725.8 404.0,728.2 404.4,728.2 404.8,728.2 405.2,728.2 405.6,728.2 406.0,728.2 406.4,728.2 406.8,728.2 407.2,728.2 407.6,728.2 408.0,728.2 408.4,728.2 408.8,728.2 409.2,728.2 409.6,728.2 410.0,728.2 410.4,728.2 410.8,728.2 411.2,728.2 411.6,728.2 412.0,728.2 412.4,728.2 412.8,728.2 413.2,728.2 413.6,728.2 414.0,728.2 414.4,728.2 414.8,728.2 415.2,728.2 415.6,728.2 416.0,728.2 416.4,728.2 416.8,728.2 417.2,728.2 417.6,728.2 418.0,728.2 418.4,728.2 418.8,728.2 419.2,728.2 419.6,728.2 420.0,728.2 420.4,728.2 420.8,728.2 421.2,728.2 421.6,728.2 422.0,728.2 422.4,728.2 422.8,728.2 423.2,728.2 423.6,728.2 424.0,728.2 424.4,728.2 424.8,728.2 425.2,728.2 425.6,728.2 426.0,728.2 426.4,728.2 426.8,728.2 427.2,728.2 427.6,728.2 428.0,728.2 428.4,728.2 428.8,728.2 429.2,728.2 429.6,728.2 430.0,728.2 430.4,728.2 430.8,728.2 431.2,728.2 431.6,728.2 432.0,728.2 432.4,728.2 432.8,728.2 433.2,728.2 433.6,728.2 434.0,728.2 434.4,728.2 434.8,728.2 435.2,728.2 435.6,728.2 436.0,728.2 436.4,728.2 436.8,728.2 437.2,728.2 437.6,728.2 438.0,728.2 438.4,728.2 438.8,728.2 439.2,728.2 439.6,728.2 440.0,728.2 440.4,728.2 440.8,728.2 441.2,728.2 441.6,728.2 442.0,728.2 442.4,728.2 442.8,728.2 443.2,728.2 443.6,728.2 444.0,728.2 444.4,728.2 444.8,728.2 445.2,728.2 445.6,728.2 446.0,728.2 446.4,728.2 446.8,728.2 447.2,728.2 447.6,728.2 448.0,728.2 448.4,728.2 448.8,728.2 449.2,728.2 449.6,728.2 450.0,728.2 450.4,728.2 450.8,728.2 451.2,728.2 451.6,728.2 452.0,728.2 452.4,728.2 452.8,728.2 453.2,728.2 453.6,728.2 454.0,728.2 454.4,728.2 454.8,728.2 455.2,728.2 455.6,728.2 456.0,728.2 456.4,728.2 456.8,728.2 457.2,728.2 457.6,728.2 458.0,728.2 458.4,728.2 458.8,728.2 459.2,728.2 459.6,728.2 460.0,728.2 460.4,728.2 460.8,728.2 461.2,728.2 461.6,728.2 462.0,728.2 462.4,728.2 462.8,728.2 463.2,728.2 463.6,728.2 464.0,728.2 464.4,728.2 464.8,728.2 465.2,728.2 465.6,728.2 466.0,728.2 466.4,728.2 466.8,728.2 467.2,728.2 467.6,728.2 468.0,728.2 468.4,728.2 468.8,728.2 469.2,728.2 469.6,728.2 470.0,728.2 470.4,728.2 470.8,728.2 471.2,728.2 471.6,727.2 472.0,722.9 472.4,716.1 472.8,708.2 473.2,700.8 473.6,695.4 474.0,693.2 474.4,694.5 474.8,699.2 475.2,706.2 475.6,714.1 476.0,721.4 476.4,726.4 476.8,728.2 477.2,728.2 477.6,728.2 478.0,728.2 478.4,728.2 478.8,728.2 479.2,728.2 479.6,728.2 480.0,728.2 480.4,728.2 480.8,728.2 481.2,728.2 481.6,728.2 482.0,728.2 482.4,728.2 482.8,728.2 483.2,728.2 483.6,728.2 484.0,728.2 484.4,728.2 484.8,728.2 485.2,727.7 485.6,725.2 486.0,720.9 486.4,715.8 486.8,710.9 487.2,707.2 487.6,705.4 488.0,706.0 488.4,708.8 488.8,713.2 489.2,718.4 489.6,723.2 490.0,726.7 490.4,728.2 490.8,728.2 491.2,728.2 491.6,728.2 492.0,728.2 492.4,728.2 492.8,728.2 493.2,728.2 493.6,728.2 494.0,728.2 494.4,728.2 494.8,728.2 495.2,728.2 495.6,728.2 496.0,728.2 496.4,728.2 496.8,728.2 497.2,728.2 497.6,728.2 498.0,728.2 498.4,728.2 498.8,727.5 499.2,722.5 499.6,713.4 500.0,702.2 500.4,691.1 500.8,682.4 501.2,677.9 501.6,678.6 502.0,684.2 502.4,693.7 502.8,705.0 503.2,716.0 503.6,724.2 504.0,728.0 504.4,728.2 504.8,728.2 505.2,728.2 505.6,728.2 506.0,728.2 506.4,728.2 506.8,728.2 507.2,728.2 507.6,728.2 508.0,728.2 508.4,728.2 508.8,728.2 509.2,728.2 509.6,728.2 510.0,728.2 510.4,728.2 510.8,728.2 511.2,728.2 511.6,728.2 512.0,728.2 512.4,728.2 512.8,728.2 513.2,728.2 513.6,728.2 514.0,728.2 514.4,728.2 514.8,728.2 515.2,728.2 515.6,728.2 516.0,728.2 516.4,728.2 516.8,728.2 517.2,728.2 517.6,728.2 518.0,728.2 518.4,728.2 518.8,728.2 519.2,728.2 519.6,728.2 520.0,728.2" fill="none" stroke="#5858e0" stroke-width="1.05" stroke-linejoin="round"/>
<line x1="257.5" y1="728.3" x2="520" y2="728.3" stroke="#222" stroke-width="1.4" />
</svg>
</body></html>
